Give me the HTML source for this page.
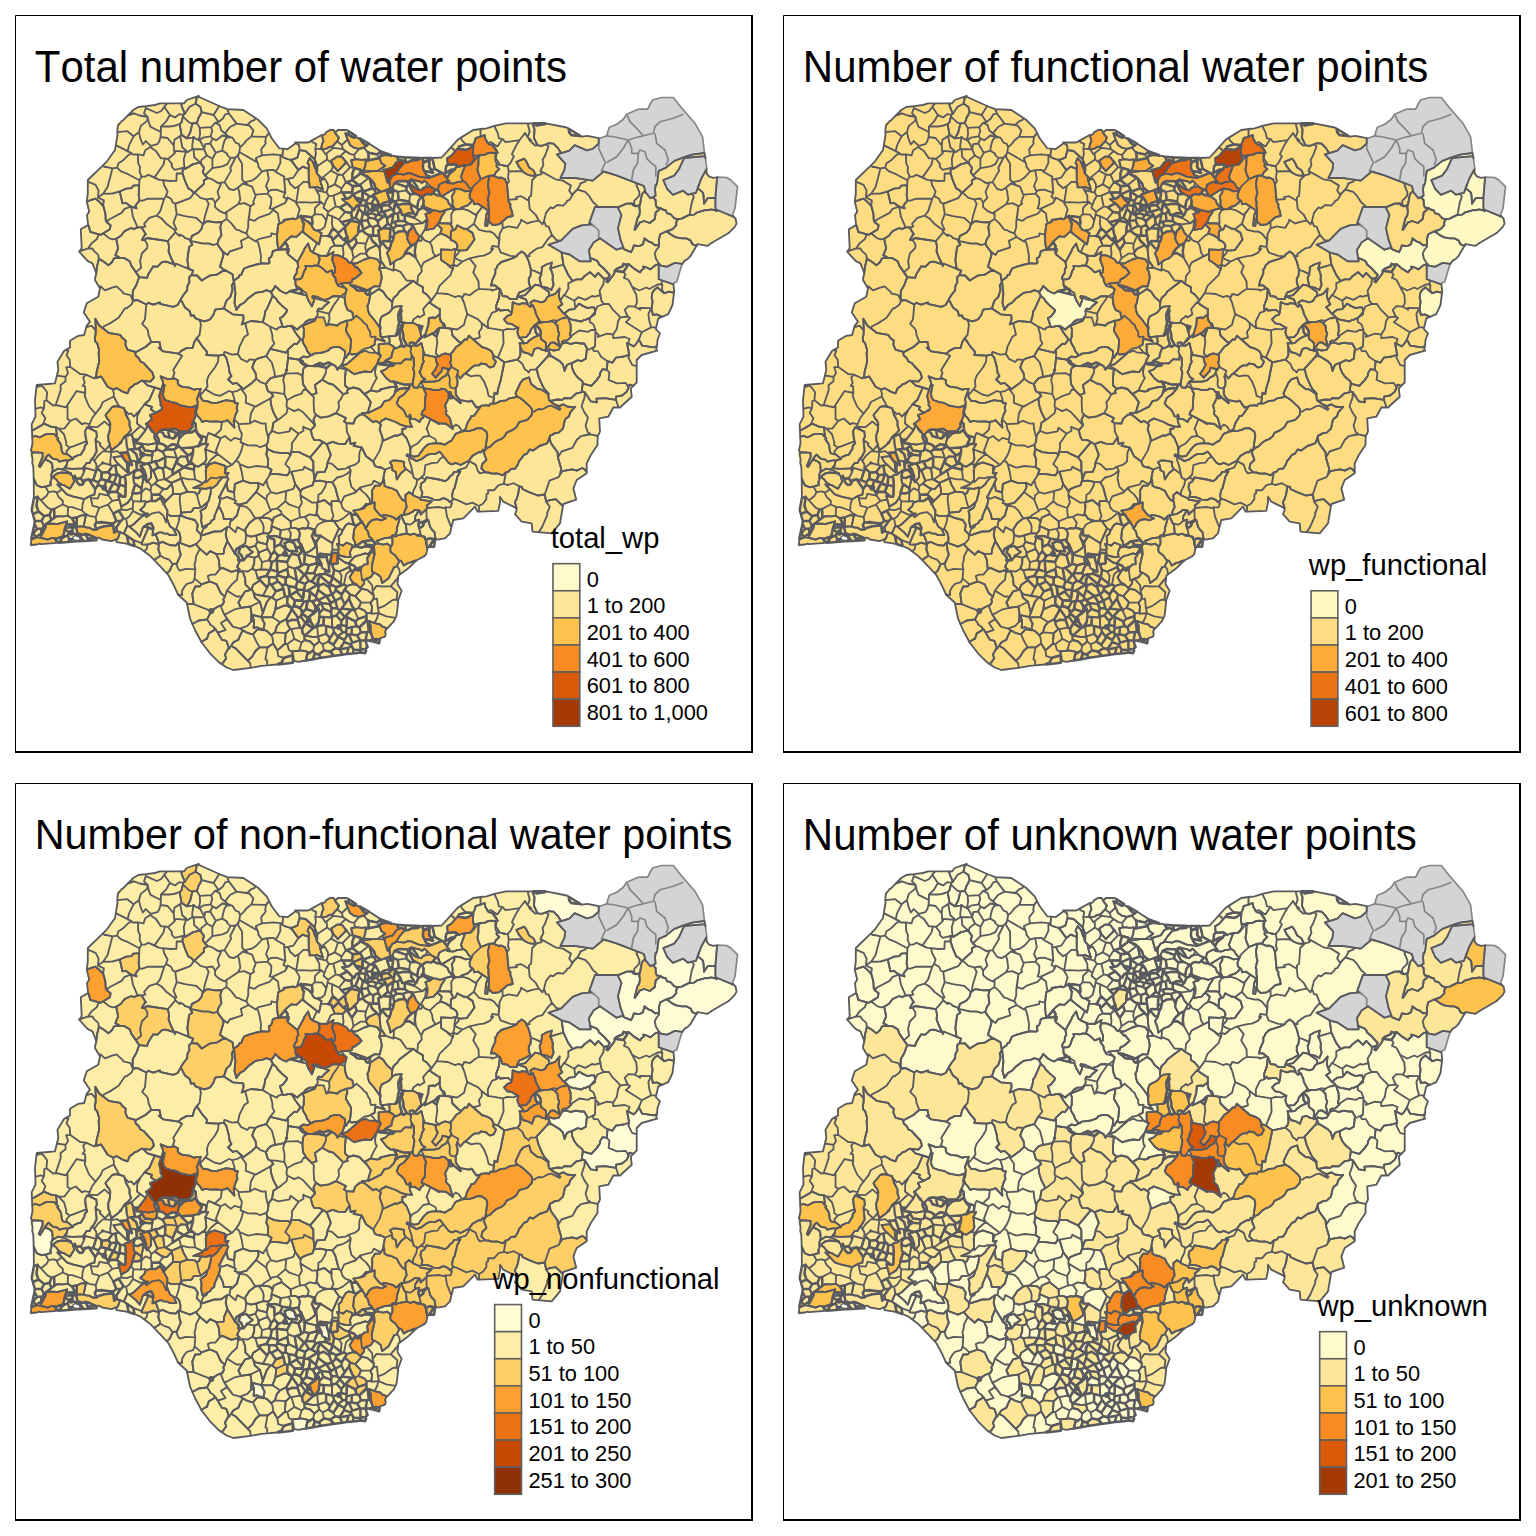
<!DOCTYPE html><html><head><meta charset="utf-8"><title>Water points</title><style>html,body{margin:0;padding:0;background:#fff}svg{display:block}text{font-family:"Liberation Sans",sans-serif;fill:#000;font-kerning:none}</style></head><body>
<svg width="1536" height="1536" viewBox="0 0 1536 1536">
<rect width="1536" height="1536" fill="#fff"/>
<defs><path id="ol" d="M197.5,96.2 208.3,100.8 216.7,105.0 226.7,109.2 243.3,110.0 250.0,114.2 258.3,120.0 266.7,128.3 271.7,138.3 279.2,148.3 287.5,149.2 296.7,142.5 308.3,142.5 321.7,135.0 330.0,130.0 346.7,130.0 358.3,137.5 370.0,144.2 381.7,151.7 396.7,156.7 410.0,157.5 425.0,158.3 441.7,157.5 450.0,148.3 458.3,139.2 473.3,130.0 486.7,128.3 496.7,125.0 506.0,123.3 516.7,123.3 533.3,123.3 545.0,123.3 566.7,127.5 581.7,136.7 586.7,135.8 600.0,138.3 606.7,135.8 609.2,127.5 616.7,124.2 623.3,119.2 626.7,114.2 638.3,109.2 647.5,109.2 652.5,100.0 661.7,97.5 673.3,97.5 683.3,110.0 695.0,123.3 702.5,136.7 704.2,151.7 707.5,168.3 709.2,176.7 726.7,177.5 730.8,180.0 737.5,186.7 735.0,208.3 732.5,215.0 735.8,219.2 736.7,225.0 728.3,233.3 716.7,240.0 707.5,245.8 697.5,244.2 690.0,256.7 681.7,265.0 676.7,281.7 673.3,283.3 674.2,290.8 672.5,305.0 668.3,314.2 658.3,318.3 655.8,329.2 660.0,333.3 657.5,340.0 656.7,350.8 641.7,355.0 636.7,360.0 636.7,382.5 630.8,388.3 631.7,396.7 626.7,401.7 620.0,407.5 613.3,407.5 608.3,416.7 599.2,418.3 600.0,431.7 597.5,436.7 597.5,445.0 590.8,455.0 586.7,463.3 586.7,473.3 576.7,480.0 573.3,488.3 576.2,499.6 563.3,504.0 560.0,523.3 551.7,533.3 532.5,531.7 531.7,523.3 521.7,521.7 515.0,514.2 516.7,508.3 503.3,501.7 500.0,496.7 500.0,502.5 498.3,510.8 477.5,511.7 475.0,506.7 463.3,518.3 453.3,520.0 450.0,533.3 445.0,538.3 435.0,540.0 434.2,546.7 427.5,546.7 426.7,555.0 416.7,560.0 408.3,568.3 398.3,575.8 397.5,584.2 401.7,590.8 398.3,600.0 396.7,615.0 394.2,620.8 387.5,628.3 385.0,636.7 380.0,638.3 379.2,643.3 373.3,641.7 365.8,640.0 367.5,648.3 365.0,653.3 361.7,652.5 345.0,654.2 328.3,656.7 308.3,660.0 295.0,662.5 280.0,664.2 261.7,665.8 253.3,667.5 233.3,670.0 226.7,667.5 218.3,661.7 210.0,653.3 201.7,642.5 195.0,630.0 190.0,618.3 186.7,602.5 178.3,595.0 173.3,584.2 168.3,575.0 160.0,565.8 150.0,555.8 140.0,548.3 130.0,544.2 120.0,542.5 100.0,540.0 70.0,541.7 30.8,545.0 31.7,536.7 35.0,521.7 31.7,510.0 34.2,496.7 33.3,466.7 30.0,455.0 32.5,443.3 31.7,424.2 35.5,416.7 35.0,400.0 36.7,385.0 55.0,383.3 58.3,370.0 57.5,361.7 64.2,350.8 70.0,347.5 70.0,340.8 78.3,335.8 84.2,335.0 86.7,325.8 90.0,321.7 83.8,312.5 86.7,303.3 90.8,300.8 98.3,296.7 100.0,288.3 95.0,280.0 95.8,271.7 92.5,263.3 87.5,260.8 79.2,251.7 81.7,248.3 80.8,229.2 88.3,225.0 87.0,215.0 89.2,211.7 86.7,202.5 87.8,193.3 87.8,180.0 92.5,175.8 98.3,170.0 106.7,161.7 115.0,150.0 117.5,135.0 116.7,122.5 122.5,120.8 133.3,110.0 138.3,107.0 155.0,105.0 160.0,103.3 184.0,103.3 186.7,100.0Z"/><clipPath id="cp"><use href="#ol"/></clipPath><path id="g0" d="M656.0,185.8 655.0,189.0 655.6,195.8 653.1,197.0 655.6,200.1 655.9,205.4 657.0,207.5 660.8,208.1 660.2,208.6 665.9,210.5 667.1,213.3 670.4,214.0 674.4,218.4 678.2,219.2 681.6,218.6 689.6,214.7 691.7,202.9 693.8,196.9 692.0,193.7 688.0,194.7 683.1,190.7 673.0,194.8 667.2,189.0 663.3,180.1 674.2,175.6 678.9,169.3 684.1,158.0 705.1,156.1 705.5,158.4 704.5,153.0 692.0,154.6 682.1,157.9 674.0,161.1 665.7,167.8 658.7,170.9 657.0,184.0 655.9,184.8ZM694.2,214.6 697.4,212.3 704.6,210.2 706.6,209.9 707.0,210.4 711.2,209.4 717.2,210.9 717.4,210.0 715.4,209.2 715.4,197.9 707.8,198.1 704.0,203.7 703.6,196.5 703.0,192.6 697.7,188.1 698.7,185.5 696.0,192.8 689.4,194.4 692.0,193.7 693.8,196.9 691.7,202.9 689.6,214.7 688.8,215.1ZM659.1,238.8 658.9,247.0 656.4,249.9 654.8,253.4 655.8,258.5 657.9,262.0 661.0,265.6 667.0,266.7 674.8,262.9 682.5,263.8 684.4,260.9 688.0,258.7 690.0,256.7 697.5,244.2 696.4,246.0 692.5,244.2 690.4,240.3 686.4,238.4 681.8,238.3 676.3,237.3 672.1,235.3 666.7,231.6 669.0,230.7 665.4,231.7 660.3,234.3ZM588.9,250.3 590.1,257.8 595.7,260.1 598.2,261.9 598.8,264.2 603.7,268.3 609.9,275.0 606.3,281.4 607.8,282.4 614.2,273.7 615.2,270.2 617.2,268.6 622.5,266.4 623.6,263.8 626.3,264.9 628.6,264.0 634.1,268.6 640.1,272.4 641.4,270.3 644.2,268.3 643.1,266.6 645.6,267.0 650.5,269.3 655.2,265.4 659.5,263.9 657.9,262.0 655.8,258.5 654.8,253.4 656.4,249.9 658.9,247.0 658.9,245.0 655.1,245.3 651.1,242.2 648.9,241.6 645.5,239.4 644.6,238.2 642.9,244.3 640.2,245.6 637.0,246.0 633.8,245.4 633.0,248.3 631.1,252.1 625.0,249.7 622.3,247.9 623.4,247.5 616.5,249.7 600.0,238.3 593.5,242.6Z"/>
<path id="g1" d="M697.7,188.1 703.0,192.6 703.6,196.5 704.0,203.7 707.8,198.1 715.4,197.9 717.1,177.3 713.3,177.9 709.2,176.7 706.6,173.7 706.4,169.3 701.2,178.8ZM676.3,237.3 681.8,238.3 686.4,238.4 690.4,240.3 692.5,244.2 696.4,246.0 697.5,244.2 707.5,245.8 712.3,242.5 728.3,233.3 734.6,227.1 736.5,223.9 735.8,219.2 733.4,216.2 733.2,216.7 717.4,210.0 717.2,210.9 711.2,209.4 707.0,210.4 706.6,209.9 697.4,212.3 694.2,214.6 688.8,215.1 681.6,218.6 678.0,219.2 676.1,222.3 676.4,225.1 672.6,229.2 666.7,231.6 672.1,235.3Z"/>
<path id="g2" d="M651.7,298.3 652.6,301.2 651.6,309.2 652.9,315.0 656.8,314.4 661.9,316.8 668.3,314.2 672.5,305.0 674.0,292.8 668.9,291.7 664.0,293.4 657.5,287.3 653.7,290.5 652.0,293.9ZM270.9,292.4 273.4,296.4 276.3,298.9 277.3,300.8 281.1,304.9 287.1,310.1 286.4,312.1 282.7,316.8 279.9,318.0 282.3,325.6 283.2,327.1 286.2,326.8 288.5,325.9 292.9,326.6 297.2,329.5 301.5,325.7 303.5,324.6 305.9,321.6 309.5,319.6 313.0,319.6 315.7,318.4 318.0,313.9 317.2,311.3 318.5,308.6 321.9,309.0 324.1,306.3 329.0,302.3 323.7,300.4 318.2,299.3 314.7,297.6 312.9,296.2 312.9,297.1 314.3,299.9 311.9,306.4 308.3,300.2 306.2,295.3 290.0,291.2 286.0,293.5 280.5,291.0 275.2,285.8 274.2,288.1Z"/>
<path id="g3" d="M609.4,372.4 608.7,379.9 617.0,383.4 625.7,382.9 628.6,387.3 629.5,384.6 633.3,385.9 636.7,382.5 636.7,366.2 632.3,365.2 628.4,357.6 629.2,354.7 624.0,356.5 615.8,357.7 612.4,362.7 607.6,361.2 606.7,369.9ZM584.8,392.2 590.9,401.4 596.9,402.3 596.4,398.6 605.1,398.1 616.0,399.8 616.1,396.6 622.0,395.5 626.9,391.6 628.6,387.3 625.7,382.9 617.0,383.4 608.7,379.9 609.4,372.4 606.7,369.9 602.7,369.1 600.1,372.9 600.1,375.3 596.4,380.4 591.4,385.9 582.8,383.6 581.8,390.3 583.4,391.9ZM629.2,354.7 628.4,357.6 632.3,365.2 636.7,366.2 636.7,360.0 641.7,355.0 657.2,350.7 656.2,349.8 656.8,346.2 654.0,347.3 642.2,345.7 638.9,339.4 636.4,343.6 633.8,346.3 626.8,342.9ZM561.6,252.4 563.4,264.7 568.2,274.9 572.7,281.0 576.5,279.4 581.7,279.4 584.2,276.4 590.1,272.1 595.0,276.9 598.2,272.9 604.0,278.9 608.3,277.8 609.6,275.4 603.4,268.2 598.8,264.2 598.2,261.9 595.7,260.1 590.1,257.8 590.7,261.3 579.6,261.3 569.5,254.5ZM534.5,129.4 534.0,137.8 537.5,145.3 541.6,145.8 549.1,143.2 553.5,143.6 557.3,147.3 561.1,153.1 569.3,150.6 574.7,145.2 586.8,150.3 592.7,148.8 598.7,143.6 598.7,138.1 587.4,135.9 581.7,136.7 579.3,135.8 574.5,135.1 571.5,135.2 569.7,132.6 568.9,132.3 568.8,128.8 566.7,127.5 547.2,123.7 538.0,125.4 536.2,125.4 533.9,123.3 532.4,123.3ZM571.8,319.7 581.6,321.5 584.1,319.8 585.5,319.9 590.2,317.6 595.3,311.6 594.1,307.3 590.7,307.4 588.4,308.1 586.1,307.5 582.2,305.8 579.1,303.6 574.3,309.1 569.4,309.6 564.5,313.3 568.7,318.0ZM550.8,355.8 559.7,361.1 563.0,364.7 564.5,370.9 566.8,365.2 569.0,363.8 571.9,363.1 577.6,360.2 581.3,361.2 585.8,358.6 587.0,348.3 584.2,343.5 580.5,343.5 576.3,342.7 570.4,344.0 565.9,342.3 561.6,344.0 560.1,348.0 559.5,348.2 558.4,349.9 553.7,350.5 549.7,349.3 548.5,349.9ZM243.5,560.1 247.5,555.7 252.8,551.9 249.1,549.2 246.3,545.8 240.2,547.6 238.6,552.6 241.2,554.9ZM288.8,550.7 297.1,551.4 294.0,543.1 289.5,541.2 284.5,543.2 285.9,548.3ZM253.6,628.0 257.1,627.2 263.2,630.3 264.6,623.7 262.5,620.0 261.5,617.2 252.0,614.8 254.1,621.0ZM322.4,568.3 329.3,571.9 328.7,563.9 327.3,560.8 326.7,557.0 318.0,557.2 321.1,563.2Z"/>
<path id="g4" d="M625.0,249.7 631.1,252.1 633.0,248.3 633.8,245.4 637.0,246.0 640.2,245.6 642.9,244.3 644.6,238.2 645.5,239.4 648.9,241.6 651.1,242.2 655.1,245.3 658.9,245.0 659.1,238.8 660.3,234.3 665.4,231.7 669.0,230.7 666.7,231.6 672.6,229.2 676.4,225.1 676.1,222.3 678.0,219.2 674.4,218.4 670.4,214.0 667.1,213.3 665.9,210.5 660.2,208.6 655.7,212.5 654.8,219.0 649.8,223.0 644.1,221.0 639.7,222.7 635.0,229.8 634.6,229.6 637.5,218.2 639.3,215.4 639.9,211.0 639.1,205.2 637.0,206.2 635.5,206.1 632.8,205.1 632.2,203.4 626.6,203.7 617.7,207.4 621.4,214.9 618.0,228.3 620.5,239.6 623.4,247.5 622.3,247.9ZM32.6,459.6 32.2,462.8 33.3,466.7 33.7,478.5 36.7,485.2 41.2,487.2 45.9,486.5 51.1,484.8 50.3,482.4 51.6,479.0 51.2,475.0 52.7,470.4 52.1,463.4 49.0,461.1 45.4,459.6 45.4,458.3 40.2,466.9 38.8,466.2 42.6,456.9 42.6,452.9 36.1,452.3 31.6,453.4ZM294.0,660.8 298.1,661.9 305.8,660.5 307.9,651.8 301.4,650.4 291.8,651.5 293.5,656.5Z"/>
<path id="g5" d="M252.0,180.7 245.1,182.2 248.1,185.1 252.1,186.7 254.8,193.7 255.9,194.7 267.4,193.7 268.6,191.6 266.0,186.0 268.8,179.0 267.2,170.2 262.0,171.5 256.5,177.6ZM480.6,136.7 484.6,135.0 485.2,138.5 487.7,143.0 491.2,142.2 496.9,146.3 497.6,146.2 502.4,138.9 498.9,138.4 497.7,132.9 494.3,125.8 486.7,128.3 481.1,129.0 480.5,130.7ZM103.9,234.0 109.4,238.4 113.2,239.3 116.2,238.7 121.0,235.7 124.4,231.2 131.3,228.0 133.9,229.2 137.6,227.4 132.9,216.7 131.1,206.3 124.3,209.1 121.6,212.9 109.0,219.5 106.6,222.0 110.6,225.2 109.9,229.2 103.6,233.1ZM123.8,159.7 118.3,163.4 117.1,167.7 120.6,171.2 128.1,174.2 139.4,180.2 141.5,176.7 139.6,171.4 140.0,167.1 138.2,163.1 137.9,154.4 133.3,154.5 130.7,153.6 128.3,155.2ZM464.2,303.2 467.3,314.2 477.8,319.1 481.7,323.1 488.0,327.9 487.8,321.5 491.9,312.8 496.5,311.1 496.1,305.9 499.0,297.9 499.8,289.6 498.5,288.3 491.7,290.6 491.5,289.7 478.9,288.8 474.8,291.3 469.8,295.2 464.2,294.0 462.0,298.7ZM503.6,343.7 497.9,357.6 504.3,362.3 517.3,359.6 519.3,357.5 520.4,354.9 520.3,348.8 520.7,348.0 519.5,343.1 524.3,343.3 519.8,337.7 519.2,337.7 517.3,332.2 518.5,327.5 513.4,329.4 507.4,328.8 503.0,330.4ZM241.9,433.7 240.6,442.2 247.9,445.3 256.6,445.5 259.9,447.2 266.3,444.9 268.0,441.9 268.5,436.3 267.8,436.2 266.2,429.8 265.6,423.4 262.0,423.6 254.5,420.7 249.8,423.5 239.0,424.1 238.6,425.7 239.8,430.0ZM195.7,415.2 193.3,421.6 195.5,423.7 196.1,430.3 199.9,435.5 206.5,437.6 208.5,432.9 214.8,435.4 220.9,429.7 221.9,421.8 220.6,422.0 216.8,421.3 210.3,421.7 205.9,420.9 202.2,421.9 199.8,418.2 197.2,415.6 196.0,411.7 195.6,411.8ZM529.5,256.4 527.2,256.0 527.3,258.3 528.8,261.4 530.9,269.9 535.0,271.1 541.1,274.1 542.0,269.0 541.7,267.3 546.2,264.5 551.9,262.5 550.1,269.2 551.8,268.0 563.4,264.7 561.5,252.2 548.5,244.7 560.8,240.6 556.5,240.2 551.9,234.9 547.1,240.2 542.5,247.1 536.6,248.7 533.7,250.7 529.4,254.0ZM314.9,529.6 315.3,535.4 320.6,535.7 332.3,543.3 339.0,528.3 333.6,520.7 325.4,520.9 317.9,524.5ZM549.4,437.9 550.6,442.1 551.7,444.3 557.6,452.4 557.9,457.4 561.5,451.5 572.4,447.9 576.9,439.7 580.9,436.2 590.4,434.0 587.7,432.0 585.6,425.7 588.0,417.6 584.4,412.4 581.5,406.2 584.5,397.6 584.8,392.2 583.4,391.9 576.5,393.3 570.9,398.4 564.6,398.0 562.0,399.9 557.8,399.5 550.0,401.0 554.7,404.4 559.0,406.2 563.3,404.3 567.1,406.5 570.2,407.0 575.2,406.8 570.2,412.3 569.0,416.5 566.0,418.4 564.8,420.2 563.0,428.6 558.7,432.7 555.0,433.1 550.2,435.6ZM625.5,274.8 623.9,277.6 628.6,280.0 632.1,286.7 639.2,290.5 646.2,287.5 649.2,289.0 658.0,284.3 661.9,284.5 661.3,283.4 662.4,280.5 658.7,279.2 658.7,264.2 655.2,265.4 650.5,269.3 645.6,267.0 643.1,266.6 644.2,268.3 641.4,270.3 640.1,272.4 634.1,268.7 628.6,264.0 627.5,264.5 627.2,266.2 623.5,271.9ZM140.0,167.1 139.6,171.4 141.5,176.7 145.1,176.6 148.5,174.8 154.5,177.4 163.4,164.8 165.0,158.3 161.0,158.4 155.8,150.9 150.2,147.0 145.3,150.3 143.5,155.4 137.9,154.4 138.2,163.1ZM145.3,226.6 141.6,227.4 145.9,234.4 144.9,234.6 141.9,240.0 144.5,239.8 146.9,238.0 167.8,241.1 175.3,232.3 174.4,229.7 166.6,224.0 161.4,218.4 156.7,215.7 149.3,217.9 144.1,223.9ZM174.1,378.3 178.0,380.3 177.7,382.8 178.9,385.1 182.6,386.9 189.2,387.7 194.5,389.8 195.9,389.1 200.8,388.8 200.0,391.0 200.2,393.2 201.9,393.5 207.5,386.5 206.9,380.8 208.6,375.8 215.1,367.2 218.1,361.6 218.5,355.7 206.3,355.0 207.1,351.8 202.2,346.2 196.7,338.1 194.4,341.7 192.6,348.1 186.5,348.1 181.3,350.9 178.4,353.6 182.0,355.9 173.2,370.1 174.5,372.6 172.5,378.6ZM437.3,235.4 429.9,242.4 431.9,246.4 433.0,252.3 435.3,256.4 441.0,253.6 440.9,249.4 451.8,249.8 455.8,248.8 456.6,249.2 457.5,246.4 456.4,243.2 454.2,241.4 450.7,239.8 450.7,238.6 445.7,235.4 441.0,233.6ZM502.4,138.9 505.5,142.2 519.4,140.2 525.0,133.0 527.6,137.2 529.7,131.7 527.6,123.3 506.0,123.3 494.3,125.8 497.7,132.9 498.9,138.4ZM291.3,325.5 295.4,332.5 300.5,339.4 302.3,340.1 303.7,337.0 303.9,329.3 302.7,325.7 314.7,320.9 315.9,318.2 313.0,319.6 309.5,319.6 305.9,321.6 302.7,325.6 302.5,325.1 301.5,325.7 297.2,329.5ZM167.6,191.5 166.0,195.9 171.1,198.7 172.6,202.5 175.3,203.7 190.2,198.1 194.0,193.1 191.5,190.3 188.3,188.4 185.3,181.7 182.5,173.4 176.7,173.5 176.4,180.8 170.7,181.0 163.0,180.2 164.2,185.2ZM277.4,169.2 275.3,171.8 284.2,176.6 284.1,179.1 287.8,179.0 293.2,177.7 298.4,170.1 291.1,160.1 284.4,158.0 280.4,155.1 280.4,162.9ZM345.9,368.5 344.9,379.6 345.3,385.9 348.8,388.8 353.4,387.5 359.4,389.0 364.4,394.1 370.7,390.4 373.1,384.6 376.9,377.9 375.6,376.2 375.0,371.5 376.4,365.1 371.0,372.2 364.9,371.5 354.5,374.2ZM257.7,241.5 259.5,247.5 261.0,256.2 260.7,261.7 261.1,263.5 268.2,263.6 269.5,262.6 268.8,258.1 270.2,257.7 271.9,255.4 272.8,251.2 278.2,249.5 277.3,242.5 277.1,234.7 271.4,233.4 271.1,236.2 258.4,239.2 255.6,241.4ZM580.2,184.8 577.3,189.5 585.2,191.8 588.8,195.6 593.1,202.3 597.2,205.6 597.3,207.0 617.5,207.0 617.9,207.4 626.6,203.7 632.1,203.4 632.8,205.1 635.9,206.3 634.0,203.6 634.4,200.7 638.9,196.2 639.5,192.5 636.4,185.4 637.2,183.4 616.3,175.4 603.6,171.5 592.9,180.6 587.2,179.8 585.1,181.6 580.1,183.6ZM248.2,227.5 246.4,233.3 248.6,237.0 255.6,241.4 258.4,239.2 271.1,236.2 271.4,233.4 277.1,234.7 278.2,224.2 280.1,223.3 278.9,220.7 278.0,213.6 273.3,209.9 269.5,213.8 258.9,217.6 254.5,220.8 248.9,219.1 248.3,221.3ZM176.5,229.6 174.4,229.7 175.3,232.3 179.5,236.0 179.9,234.6 183.2,236.2 185.0,238.0 189.3,239.3 190.4,240.9 192.0,235.9 198.1,232.8 201.5,229.0 202.8,223.9 196.1,217.8 184.9,216.1 176.7,214.1 173.5,222.7ZM160.1,211.4 156.7,215.7 161.4,218.4 166.6,224.0 174.4,229.7 176.5,229.6 173.5,222.7 176.7,214.1 175.2,203.6 172.6,202.5 171.1,198.7 166.0,195.9 164.2,198.7ZM271.1,555.0 267.7,548.9 258.8,552.5 258.6,555.8 262.0,562.1 269.3,560.2ZM531.1,195.7 529.0,197.4 528.8,200.7 529.7,209.2 536.0,215.2 538.9,220.7 542.5,224.4 544.0,220.9 546.0,212.9 550.5,207.3 553.1,208.3 557.4,205.0 563.1,205.7 566.5,202.3 567.1,200.9 569.5,199.8 572.6,195.0 571.9,194.6 569.2,190.4 571.0,185.6 563.0,180.6 555.4,179.3 541.0,171.2 541.6,174.2 536.8,175.4 532.2,180.0ZM107.6,187.1 103.1,193.8 112.4,193.5 119.8,191.5 126.1,188.6 131.5,188.2 133.2,185.6 139.2,185.2 139.4,180.2 128.1,174.2 120.6,171.2 117.1,167.7 112.4,168.4ZM271.8,362.5 274.4,371.9 275.0,376.8 285.1,374.9 286.6,370.1 288.1,358.0 288.0,349.7 286.1,352.7 270.1,348.9 266.2,356.1ZM335.7,206.4 339.8,207.4 347.3,203.4 342.1,199.2 345.9,198.7 342.6,192.4 340.9,192.3 333.4,195.7ZM139.1,358.5 140.3,361.4 143.7,363.0 152.3,372.3 154.0,377.6 150.4,381.6 143.0,380.8 147.5,385.3 161.2,389.5 163.1,384.2 163.0,381.8 160.6,376.3 167.8,379.2 172.5,378.6 174.5,372.6 173.2,370.1 182.0,355.9 178.4,353.6 163.4,351.4 158.6,347.8 161.0,349.0 159.5,342.0 151.5,342.2 150.2,342.7 145.7,346.9 135.0,352.6 135.8,355.5ZM251.6,383.2 242.1,389.9 246.0,395.8 245.8,402.9 255.6,406.6 270.3,398.5 273.3,396.0 270.6,392.5 267.9,391.3 265.9,384.2 260.2,381.8 256.3,378.7ZM81.7,248.3 79.5,251.3 87.7,248.7 92.0,242.9 96.7,239.3 98.9,234.3 90.2,231.9 88.9,226.3 88.1,225.1 80.8,229.2ZM499.3,169.1 495.9,172.2 493.9,175.8 499.3,178.2 500.6,177.4 505.0,179.2 507.2,184.3 509.1,180.7 507.9,178.2 508.8,171.5 507.7,165.9 503.6,166.0 503.7,165.3 496.7,164.4 496.5,166.1ZM137.6,300.1 146.3,304.5 148.6,302.8 153.2,304.6 160.1,302.4 159.9,303.8 173.1,306.8 177.7,305.0 183.0,295.5 187.1,290.4 187.4,285.9 189.4,282.2 189.1,277.3 191.5,275.1 193.2,270.6 175.9,263.6 174.7,266.5 174.4,264.3 165.9,261.6 162.4,261.8 157.4,266.7 153.3,266.3 148.4,274.0 147.1,277.9 139.2,277.1 136.1,285.5 132.8,291.0 132.6,299.9ZM92.4,248.5 94.3,251.4 98.1,254.6 98.9,258.7 103.6,261.5 108.5,265.4 112.1,262.0 114.2,258.1 120.4,258.0 115.4,255.1 118.1,248.4 116.2,238.7 113.2,239.3 109.4,238.4 103.9,234.0 103.6,233.1 100.8,234.8 98.9,234.3 96.7,239.3 92.0,242.9 87.7,248.7ZM211.9,179.2 218.6,183.4 224.5,182.1 231.3,170.4 230.2,168.0 235.6,157.5 230.6,157.9 227.4,164.1 222.4,166.4 212.4,168.1 205.0,175.5 207.9,178.1ZM198.1,96.5 196.6,98.4 195.5,103.8 200.3,106.7 201.7,112.2 213.6,115.0 219.2,106.0ZM595.0,346.5 592.7,348.5 593.7,351.0 597.8,351.1 601.2,357.0 607.6,361.2 612.4,362.7 615.8,357.7 624.0,356.5 629.2,354.7 627.6,345.2 629.6,339.0 624.6,337.0 613.3,338.1 613.2,334.5 607.0,333.6 597.8,336.8 598.6,335.0 595.4,331.8ZM204.0,183.7 194.5,192.4 200.4,197.9 206.1,199.3 212.5,198.5 215.1,202.6 219.4,197.7 217.5,191.8 221.7,182.4 218.6,183.4 211.9,179.2 207.9,178.1 203.8,180.2ZM220.3,226.8 221.4,235.3 218.7,239.4 217.4,243.6 218.6,246.1 222.3,251.0 227.6,254.9 229.7,251.5 242.2,247.4 240.9,240.8 248.6,237.0 246.4,233.3 241.3,231.6 239.7,230.4 236.2,229.6 231.2,223.1 226.5,218.9 221.9,222.0ZM230.4,296.8 226.3,300.9 223.9,308.4 232.7,314.3 243.3,315.4 243.5,319.7 241.7,324.5 250.9,321.0 262.8,322.1 264.8,315.0 265.1,311.3 266.6,309.5 272.8,295.5 271.0,291.8 266.5,290.2 263.1,291.7 255.4,292.9 248.3,298.2 243.9,302.8 239.8,305.1 236.4,309.9 234.5,302.7 235.4,293.4 234.1,281.7 231.7,285.5 232.6,289.6ZM343.5,253.2 343.0,257.5 346.4,259.3 348.8,262.5 350.6,262.9 353.5,258.2 351.9,249.7 346.6,241.8 342.7,245.9ZM218.6,122.0 215.1,122.8 219.6,125.1 221.2,130.2 224.9,133.4 230.0,127.0 236.6,123.6 228.8,113.4 225.2,114.4 222.9,118.5ZM225.5,630.1 217.8,632.5 221.9,639.9 225.8,640.6 226.7,641.4 229.0,648.9 233.5,642.3 238.5,639.6 239.7,636.2 242.8,630.4 240.0,628.7 232.8,626.6 227.0,619.1 220.9,623.0ZM301.7,642.5 294.3,638.9 287.3,644.0 288.9,650.0 291.9,651.5 299.0,650.7ZM527.6,123.3 529.7,131.7 527.6,137.2 531.2,140.3 529.8,140.5 535.1,145.5 537.4,145.2 534.0,137.8 534.5,129.4 532.4,123.3ZM230.7,519.8 229.4,527.0 235.5,532.3 237.3,527.1 245.1,531.1 245.2,529.6 249.3,523.1 255.2,518.5 250.4,510.7 246.4,506.8 239.8,505.6 236.9,515.5 231.7,520.7ZM475.7,266.1 473.2,272.3 478.5,281.3 478.9,288.8 491.5,289.7 491.7,290.6 498.5,288.3 494.3,285.1 491.0,285.7 492.2,280.3 495.3,273.7 495.4,269.2 496.8,267.8 497.4,265.7 501.3,262.0 511.8,258.7 516.7,256.3 510.3,255.9 500.6,252.4 498.5,246.9 492.4,246.0 491.1,248.9 493.2,248.9 489.8,252.9 483.9,255.7 479.4,256.1 469.5,258.3ZM145.1,176.6 141.5,176.7 139.4,180.2 138.7,195.4 139.5,200.6 142.4,200.7 148.2,198.7 164.2,198.7 166.0,195.9 167.6,191.5 164.2,185.2 163.0,180.2 159.2,179.8 148.5,174.8ZM378.2,225.0 381.1,229.2 382.6,228.5 387.7,223.8 387.0,218.1 386.3,216.7 384.1,216.1 377.9,220.9ZM345.8,182.2 347.1,182.3 352.3,180.0 352.3,173.9 354.4,168.0 350.2,167.1 342.6,175.0ZM155.8,150.9 161.0,158.4 165.0,158.3 168.0,159.0 174.4,153.6 173.7,145.5 167.6,138.0 160.6,137.0 159.2,141.4 157.3,144.2 150.8,145.9 150.2,147.0ZM265.8,143.5 261.2,149.2 261.9,155.4 273.0,154.4 280.4,155.1 282.4,156.8 283.3,148.7 279.2,148.3 271.7,138.3 269.0,132.8 266.1,136.8 265.2,141.6ZM312.6,252.4 320.6,255.8 326.9,255.4 330.8,247.4 334.7,245.5 331.5,237.0 328.1,236.0 320.9,235.7 319.0,244.4 317.0,242.9ZM501.8,222.2 502.6,223.3 502.6,228.4 508.7,226.4 517.1,227.9 520.7,221.9 521.2,219.8 527.1,223.5 532.1,221.8 538.9,220.7 536.0,215.2 529.7,209.2 528.8,200.7 521.3,196.2 516.1,197.1 517.0,199.0 508.5,199.9 508.6,201.4 510.5,204.3 510.2,206.6 512.1,211.9 512.7,216.0 507.3,217.2ZM122.5,120.8 121.7,121.0 117.8,125.8 117.3,132.2 127.3,131.2 133.6,136.3 139.0,132.1 140.8,125.9 147.0,120.9 147.9,117.1 139.5,115.5 133.8,113.5 127.8,115.5ZM300.2,627.6 297.6,619.9 291.7,619.8 287.2,621.8 287.8,625.0 290.4,629.1ZM447.8,294.0 455.3,297.1 457.9,296.0 460.9,296.5 462.2,298.3 464.2,294.0 469.8,295.2 474.8,291.3 478.9,288.8 478.5,281.3 473.2,272.3 475.7,266.1 469.5,258.3 462.5,261.5 457.1,266.0 453.5,265.0 453.1,269.2 451.8,271.1 450.7,274.9 439.5,285.8 436.7,293.1ZM198.9,140.6 202.8,137.7 210.7,136.3 212.2,131.0 211.3,127.2 199.7,127.9 200.1,133.6ZM250.3,663.5 250.6,667.8 261.7,665.8 267.4,665.3 266.9,660.0 265.4,659.3 267.5,647.4 259.6,647.3 255.2,651.2 252.7,655.9 247.9,660.9ZM216.4,140.2 212.6,138.7 210.2,143.5 215.8,152.7 222.3,150.6 222.9,146.0 224.8,139.9 227.8,137.0 222.3,135.5ZM103.2,206.1 105.3,213.3 105.8,220.6 106.6,222.0 109.0,219.5 121.6,212.9 124.3,209.1 130.7,206.5 125.8,202.8 122.4,203.3 119.8,191.5 112.4,193.5 103.1,193.8 97.9,197.5 103.8,200.3ZM278.0,213.6 278.9,220.7 280.1,223.3 283.8,221.7 283.6,220.0 293.6,218.5 295.5,219.3 297.0,218.3 299.7,209.1 296.0,202.7 296.2,202.1 287.7,197.5 285.2,202.8 272.3,208.8ZM163.4,164.8 154.5,177.4 159.2,179.8 170.7,181.0 176.4,180.8 176.7,173.5 182.5,173.4 182.8,167.8 174.8,169.8 171.6,166.6 172.1,164.4 168.0,159.0 165.0,158.3ZM356.2,159.2 361.8,159.9 365.9,159.4 365.8,160.8 367.7,160.4 368.7,157.6 368.2,152.6 364.0,147.9 358.9,149.0 354.2,154.9 354.9,159.5ZM169.0,246.4 168.6,251.7 172.6,261.3 175.1,265.7 175.9,263.6 188.6,268.9 187.4,260.5 187.8,255.0 189.2,246.7 192.3,244.8 189.3,239.3 185.0,238.0 183.2,236.2 179.9,234.6 179.5,236.0 175.3,232.3 167.8,241.1ZM369.6,295.0 378.9,288.9 383.1,291.6 387.0,297.4 392.3,301.8 393.6,298.0 397.6,294.4 399.3,291.4 413.4,280.8 406.5,280.5 400.5,271.9 394.6,269.4 393.4,270.7 385.4,267.6 379.4,268.1 379.2,269.0 380.8,271.5 381.8,277.8 379.7,286.6 374.8,286.1 370.6,288.6 369.8,290.7ZM441.0,223.3 450.1,223.5 450.9,224.9 451.5,223.4 451.3,213.9 454.2,209.6 451.0,208.5 442.7,210.9 444.8,211.7 441.5,216.7 439.3,222.0ZM187.9,152.1 186.0,151.8 183.8,159.0 184.1,165.0 185.2,169.0 193.0,164.1 200.2,162.6 194.2,157.0 193.5,148.9 192.2,149.2ZM205.7,466.7 206.3,467.3 209.4,464.3 214.8,462.4 225.3,465.8 225.0,471.0 225.4,471.1 226.8,467.2 232.0,465.0 217.7,454.0 210.9,459.7ZM540.8,286.3 548.7,291.7 549.4,295.7 555.1,293.9 559.6,288.5 558.8,295.5 560.3,300.7 563.9,295.0 565.6,293.6 568.4,288.4 568.2,283.3 572.7,281.0 568.2,274.9 563.4,264.7 551.8,268.0 550.8,269.3 552.8,275.0 552.6,279.8 553.6,284.7 551.4,290.0 546.7,287.7ZM421.8,271.4 418.1,275.9 417.2,284.0 422.8,287.1 423.0,291.9 426.8,294.5 431.4,300.3 436.7,293.1 439.5,285.8 450.7,274.9 451.8,271.1 453.1,269.2 448.6,266.0 447.1,264.0 441.1,259.9 441.0,253.6 423.5,262.6 421.3,267.6ZM271.6,509.7 277.2,508.4 285.4,501.3 286.2,491.2 276.6,493.7 271.0,492.1 267.1,495.4 266.3,499.8 270.7,511.0ZM404.8,221.3 408.6,223.7 411.9,224.7 422.6,223.2 413.7,217.5 404.8,214.8ZM392.7,188.5 393.5,190.1 397.8,191.9 406.2,190.4 406.5,186.9 395.1,183.0 394.1,183.9 392.8,186.6ZM254.2,203.8 250.4,206.1 248.9,219.1 254.5,220.8 258.9,217.6 269.5,213.8 273.3,209.9 272.3,208.8 269.6,208.3 271.0,204.7 271.4,198.0 267.4,193.7 255.9,194.7 253.2,202.1ZM303.4,554.3 316.5,557.3 317.7,556.3 316.1,541.8 314.4,541.7 315.4,547.0 309.9,551.2ZM307.6,527.1 314.9,529.6 317.9,524.5 325.4,520.9 320.0,518.7 317.3,514.6 316.2,515.5 309.6,514.4 304.9,516.9 308.8,522.8ZM316.9,230.4 321.5,233.1 320.9,235.7 328.1,236.0 329.4,234.7 333.0,228.2 331.8,223.8 332.3,216.3 327.5,214.7 324.6,226.9 322.0,229.3ZM238.9,462.6 239.7,464.2 248.2,467.6 256.7,466.0 267.7,467.2 268.2,459.3 266.3,454.3 267.4,449.0 266.3,444.9 259.9,447.2 256.6,445.5 247.9,445.3 243.4,443.4 240.9,451.8 238.6,456.9 236.1,460.4ZM458.4,253.3 454.7,256.7 456.2,258.8 462.5,261.5 469.5,258.3 479.4,256.1 483.9,255.7 489.8,252.9 493.2,248.9 491.1,248.9 492.4,246.0 498.5,246.9 499.4,240.1 493.7,233.3 489.7,231.3 486.9,231.7 479.2,229.8 473.9,223.8 466.8,229.3 472.5,232.9 474.5,239.5 466.8,250.1 460.4,250.6 458.9,250.3ZM457.3,329.5 451.3,328.7 452.5,335.5 459.2,342.0 461.5,342.8 464.7,339.3 466.9,339.6 468.9,335.6 473.5,339.6 480.0,337.4 478.9,332.0 481.8,328.0 481.7,323.1 477.8,319.1 467.3,314.2 465.3,319.5 464.1,324.8ZM321.6,492.9 318.4,494.8 318.1,502.4 324.3,500.0 331.7,506.0 331.2,503.0 331.9,501.1 338.8,501.0 335.4,487.9 332.4,482.3 326.4,481.9 325.4,486.2ZM179.5,570.6 185.7,568.9 195.3,569.3 194.4,563.7 195.2,562.5 196.3,555.7 199.9,548.9 195.7,544.0 190.0,546.6 178.6,542.4 179.5,550.5 180.8,554.6 176.8,563.5 177.5,567.6ZM603.3,284.4 599.5,290.7 601.4,300.9 603.9,303.8 609.0,304.0 612.1,308.8 620.6,317.3 627.8,316.5 624.7,309.9 628.4,306.2 635.0,306.7 637.0,302.7 636.3,294.7 628.6,280.0 623.9,277.6 625.5,274.8 623.5,271.9 615.0,270.8 614.2,273.7 607.8,282.4 606.3,281.4 608.3,277.8 604.0,278.9ZM328.2,211.7 335.7,206.4 333.4,195.7 328.8,196.0 326.2,200.3 323.4,207.8ZM95.6,184.9 98.6,190.7 97.9,197.5 103.1,193.8 107.6,187.1 112.4,168.4 106.5,167.0 104.5,167.1 103.0,165.4 87.8,180.0 87.8,181.7ZM268.8,179.0 266.0,186.0 268.6,191.6 271.0,190.0 276.4,189.6 285.3,192.8 284.2,176.6 275.3,171.8 273.8,169.9 267.2,170.2ZM414.8,251.3 415.4,257.2 421.3,267.6 423.5,262.6 435.3,256.4 433.0,252.3 431.9,246.4 429.9,242.4 424.6,240.4 422.5,237.2 421.4,240.8 417.8,240.5 416.3,243.3 415.6,243.6ZM352.1,179.9 359.2,185.5 368.3,178.2 360.6,173.6ZM262.9,596.0 270.9,597.0 272.2,597.8 275.8,591.3 271.3,584.9 269.2,583.7ZM379.5,247.9 380.6,260.2 385.4,267.6 393.4,270.5 394.1,261.8 390.3,264.6 389.3,258.8 387.0,253.2 389.8,248.5 387.0,248.2 381.8,242.2ZM147.6,117.0 148.9,122.9 150.6,126.9 160.9,132.0 161.0,126.4 165.8,121.9 169.9,115.1 164.3,106.7 161.2,111.0 156.9,113.0 145.8,108.2 144.0,113.4ZM315.9,153.5 314.7,159.3 317.1,166.3 327.0,159.4 326.8,154.6 325.4,154.2 322.1,149.2 315.2,148.7ZM476.6,215.4 473.9,223.8 479.2,229.8 486.9,231.7 489.7,231.3 493.7,233.3 499.4,240.1 499.5,234.3 502.6,228.4 502.6,223.3 501.8,222.1 498.6,224.4 492.8,225.0 489.6,222.2 488.5,218.6 487.3,225.8 485.2,225.6 486.1,215.4 488.1,210.4 482.5,206.7 476.4,214.3ZM571.8,363.1 572.0,367.6 574.1,372.7 577.0,376.7 582.6,381.6 582.8,383.6 591.4,385.9 596.5,380.4 600.1,375.3 600.1,372.9 602.7,369.1 606.7,369.9 607.6,361.2 601.2,357.0 597.8,351.1 593.7,351.0 592.4,347.8 589.6,349.3 586.8,349.9 585.8,358.6 581.3,361.2 577.6,360.2ZM496.5,311.1 491.9,312.8 487.8,321.5 488.0,327.9 503.0,330.4 507.4,328.8 513.4,329.4 517.9,327.7 512.1,324.2 507.3,323.3 504.0,319.5 507.5,315.8 511.1,314.6 511.5,312.9 508.0,309.9 500.1,310.5 498.3,308.7ZM341.6,188.4 340.9,192.3 352.1,192.5 352.9,186.2 347.1,182.3 345.8,182.2ZM206.1,199.3 208.7,203.8 204.7,217.1 203.6,223.8 206.3,221.6 207.9,221.1 215.3,222.4 221.9,222.0 226.5,218.9 226.6,213.3 224.6,213.3 219.9,211.2 215.1,207.1 215.1,202.6 212.5,198.5ZM167.6,138.0 173.7,145.5 174.4,139.8 181.6,134.9 179.6,124.2 173.7,126.0 169.4,126.5 161.0,126.4 160.6,137.0ZM285.3,192.8 283.4,196.7 287.1,199.5 287.7,197.5 296.3,202.2 298.8,186.1 295.1,188.2 290.3,184.0 287.8,179.0 284.1,179.1ZM237.4,505.2 246.4,506.8 250.4,510.7 255.2,518.5 262.0,517.5 263.9,515.2 270.7,511.0 266.3,499.8 256.0,492.1 246.6,502.7ZM295.8,528.0 297.9,529.6 303.6,528.0 304.8,528.6 306.7,528.2 307.6,527.1 308.8,522.8 304.9,516.9 299.9,517.5 290.6,521.4 291.0,527.6ZM195.2,562.5 194.4,563.7 195.3,569.3 194.6,578.4 201.5,584.4 209.3,581.7 207.8,576.1 211.1,574.6 215.4,574.6 219.8,569.2 218.7,559.3 216.1,553.8 210.1,551.1 206.9,554.7 199.9,548.9 196.3,555.7ZM513.9,156.5 510.5,162.8 507.7,165.9 508.8,171.5 519.3,171.1 523.1,171.8 518.9,166.6 516.4,161.8 524.3,158.7 526.8,162.3 529.2,167.5 533.3,170.2 535.7,175.0 536.8,175.4 541.6,174.2 540.8,169.8 543.4,165.4 542.6,159.8 544.9,156.0 548.5,146.4 546.0,144.3 541.6,145.8 537.3,145.2 535.1,145.5 529.1,139.9 530.3,139.5 527.6,137.2 525.0,133.0 519.4,140.2 516.5,144.9 511.9,154.1ZM565.6,293.6 563.9,295.0 574.4,300.7 578.2,297.2 585.4,299.9 592.0,296.0 594.7,296.7 600.5,295.0 599.5,290.7 603.3,284.4 604.0,278.9 598.2,272.9 595.0,276.9 590.1,272.1 584.2,276.4 581.7,279.4 576.5,279.4 568.2,283.3 568.4,288.4ZM223.5,662.3 221.5,663.9 226.7,667.5 233.3,670.0 250.6,667.8 250.3,663.5 235.4,648.2 231.0,645.8 229.0,648.9 228.1,648.8 224.9,654.7 226.2,658.3ZM235.5,532.3 229.4,527.0 227.0,527.2 225.7,534.8 227.4,541.2 234.6,553.0 236.7,548.8 245.2,543.4 246.2,535.2 245.1,531.1 237.3,527.1ZM275.8,473.9 270.8,474.1 269.1,475.9 266.5,480.4 267.8,486.2 271.0,492.1 276.6,493.7 293.4,488.9 295.2,484.2 291.5,471.7 289.4,472.7 287.2,475.3ZM641.8,332.2 638.9,339.4 642.2,345.7 654.0,347.3 657.0,346.1 657.5,340.0 660.0,333.3 655.8,329.2 656.2,327.3 651.2,327.4ZM211.3,127.2 215.1,122.8 218.6,122.0 213.6,115.0 201.7,112.2 198.4,118.3 196.9,123.0 199.7,127.9ZM451.5,223.4 450.9,224.9 452.3,227.1 453.2,230.2 454.6,229.8 455.7,228.6 457.3,225.3 463.1,228.5 466.9,229.2 473.9,223.8 476.6,215.4 468.8,210.7 462.9,208.8 454.2,209.6 451.3,213.9ZM295.1,142.5 299.2,145.6 299.5,150.2 305.6,151.0 314.7,159.3 315.9,153.5 315.2,148.7 316.3,144.1 310.7,141.1 308.3,142.5ZM248.2,467.6 239.7,464.2 241.8,472.3 243.1,480.6 250.3,483.2 258.1,482.8 263.1,485.2 269.1,475.9 271.5,469.8 267.7,467.2 256.7,466.0ZM232.6,137.9 235.7,142.7 239.0,144.0 240.1,147.4 244.0,143.6 246.2,140.6 251.4,136.6 253.4,130.4 249.5,125.6 236.6,123.6 230.0,127.0 225.1,133.2 227.8,136.0ZM517.1,227.9 508.7,226.4 502.6,228.4 499.5,234.3 498.5,246.9 500.6,252.4 510.3,255.9 516.4,256.3 518.3,253.9 521.7,251.4 525.2,254.0 526.3,256.2 529.5,256.4 529.4,254.0 533.8,250.7 536.6,248.7 542.5,247.1 547.1,240.2 551.9,234.9 548.5,226.3 546.0,226.3 544.0,220.9 542.5,224.4 538.9,220.7 532.1,221.8 527.1,223.5 521.2,219.8 520.7,221.9ZM136.6,208.3 131.2,206.6 132.9,216.7 137.6,227.4 141.6,227.4 145.3,226.6 144.1,223.9 149.3,217.9 156.7,215.7 160.1,211.4 164.2,198.7 148.2,198.7 142.4,200.7 139.5,200.6 136.1,204.6 135.4,206.6ZM227.3,153.8 227.1,155.1 230.6,157.9 235.6,157.5 237.3,155.6 238.1,155.9 239.3,152.0 240.1,147.4 239.0,144.0 235.7,142.7 232.6,137.9 228.3,136.3 224.8,139.9 222.9,146.0 222.3,150.6ZM314.7,214.1 322.2,214.7 326.3,220.5 328.2,211.7 323.4,207.8 324.6,204.7 320.5,202.4 315.1,207.9ZM270.3,569.8 271.7,562.2 269.3,560.2 262.0,562.1 261.3,569.4ZM342.2,157.2 350.2,167.1 353.0,167.4 351.2,160.2 354.9,159.5 354.2,154.9 350.3,154.1 345.6,151.2 340.6,155.6 340.4,156.9ZM508.5,199.9 517.0,199.0 516.1,197.1 521.3,196.2 528.8,200.7 529.0,197.4 531.1,195.7 532.2,180.0 536.2,176.0 529.9,175.3 526.2,174.0 523.4,171.9 519.3,171.1 508.8,171.5 507.9,178.2 509.1,180.7 507.0,184.5ZM226.5,476.3 228.3,478.9 226.4,483.0 227.9,490.6 234.1,492.5 234.9,483.9 243.1,480.6 241.8,472.3 239.7,464.2 238.9,462.6 236.1,460.4 232.0,465.0 226.8,467.2 224.8,473.4 228.5,472.8ZM206.9,155.5 212.4,158.8 215.8,152.7 210.2,143.5 205.3,144.1 204.1,149.4ZM316.3,144.1 315.2,148.7 321.1,149.1 321.8,144.9 323.4,140.8 321.7,135.0 310.7,141.1ZM543.4,165.4 540.4,170.9 555.4,179.3 563.0,180.6 571.0,185.6 569.2,190.4 571.9,194.6 577.3,189.5 580.2,184.8 580.1,183.6 585.1,181.6 587.2,179.8 574.9,178.0 560.4,178.0 564.5,169.6 565.3,163.7 556.9,154.4 561.1,153.1 557.3,147.3 553.5,143.6 549.1,143.2 546.0,144.3 548.5,146.4 544.9,156.0 542.6,159.8ZM296.2,202.6 301.5,202.2 311.0,202.7 319.5,201.9 319.3,195.6 315.0,187.3 309.5,187.3 309.2,182.6 303.7,181.6 298.8,186.1ZM287.8,179.0 290.3,184.0 295.1,188.2 298.8,186.1 303.7,181.6 308.8,182.5 308.5,168.9 302.9,166.6 298.4,170.1 293.2,177.7ZM362.6,191.8 372.0,188.4 369.8,178.8 368.3,178.2 360.0,184.7 362.7,189.8ZM207.5,386.5 205.5,389.4 214.3,394.5 220.1,395.9 229.0,391.0 232.3,392.2 237.5,390.8 242.2,388.0 236.5,382.9 232.8,383.9 228.1,379.5 231.4,376.0 229.7,373.0 228.5,365.8 226.2,357.6 223.7,354.7 218.5,355.7 218.1,361.6 215.1,367.2 208.6,375.7 206.9,380.8ZM140.8,125.9 139.0,132.1 140.2,137.9 142.8,144.5 145.7,141.1 150.8,145.9 157.3,144.2 159.2,141.4 160.6,137.0 160.9,132.0 150.6,126.9 148.9,122.9 147.8,117.6 147.0,120.9ZM95.8,198.7 100.8,203.1 103.2,206.1 103.8,200.3 97.9,197.5 98.6,190.7 95.6,184.9 87.8,181.7 87.8,193.3 86.8,201.6 91.3,199.8ZM453.5,148.8 454.6,151.8 457.5,148.6 458.0,148.7 459.0,146.4 465.9,144.5 462.7,141.2 460.5,137.9 458.3,139.2 450.4,147.8ZM227.4,109.2 228.8,113.4 236.6,123.6 247.1,125.0 251.1,121.3 254.6,119.9 255.5,118.0 243.3,110.0ZM264.6,623.7 263.4,629.5 267.4,631.4 271.1,635.2 275.0,632.3 276.8,626.2 280.0,622.3 272.5,617.2 261.6,617.5ZM326.8,154.6 327.0,159.4 332.6,163.9 331.3,160.5 337.3,156.4 340.4,156.9 340.6,155.6 345.6,151.2 343.0,149.2 333.6,147.8 325.4,154.2ZM206.5,437.6 205.7,444.0 208.2,444.1 205.3,449.0 205.5,450.5 206.8,449.8 217.6,453.8 215.9,450.8 220.6,438.3 208.5,432.9ZM210.1,623.7 209.9,624.4 213.2,626.6 217.8,632.5 225.5,630.1 220.9,623.0 227.0,619.1 224.4,614.8 220.9,606.7 221.6,605.1 217.1,607.0 211.3,611.1 207.0,619.4ZM341.8,145.0 343.0,149.2 350.3,154.1 354.2,154.9 359.0,148.9 354.4,147.9 349.9,144.9 347.6,139.5ZM561.2,468.8 560.3,473.7 562.2,471.2 572.0,469.3 576.8,470.7 582.2,468.0 584.5,469.3 586.7,472.0 586.7,463.3 590.8,455.0 597.5,445.0 597.7,436.0 590.7,434.3 580.9,436.2 576.8,439.7 572.4,447.9 561.5,451.5 557.9,457.4ZM562.3,304.2 558.1,307.2 564.0,313.8 569.4,309.6 574.3,309.1 575.2,308.0 574.4,300.7 563.9,295.0 560.3,300.7ZM442.1,196.2 447.6,200.1 448.9,203.6 452.8,208.0 451.7,208.8 455.5,210.0 452.4,204.8 452.6,200.6 451.8,196.3 454.3,192.2 454.6,188.5ZM225.3,212.8 226.6,213.3 226.5,218.9 231.2,223.1 236.2,229.6 239.7,230.4 241.3,231.6 246.4,233.3 248.2,227.5 248.3,221.3 250.4,206.1 244.5,203.2 238.1,204.2ZM661.3,283.4 662.3,284.5 662.1,290.0 663.9,292.8 665.6,292.9 668.9,291.7 674.0,292.8 674.2,290.8 673.4,284.4 662.4,280.5ZM176.7,214.1 184.9,216.1 196.1,217.8 202.8,223.9 203.6,223.8 204.7,217.1 208.7,203.8 206.1,199.3 200.4,197.9 194.5,192.4 190.2,198.1 175.2,203.8ZM393.5,270.0 394.6,269.4 400.5,271.9 406.5,280.5 413.4,280.8 417.2,284.0 418.1,275.9 421.8,271.4 421.3,267.6 415.4,257.2 410.2,253.7 408.0,253.0 404.7,254.1 404.0,255.6 401.0,258.3 396.6,260.0 394.1,261.8ZM568.6,319.3 570.6,325.1 570.8,330.7 569.8,334.9 570.8,336.0 579.4,330.5 588.2,331.8 591.4,329.9 595.6,330.0 593.4,324.3 589.8,322.0 589.9,317.8 585.5,319.9 584.1,319.8 581.6,321.5 571.8,319.7 569.8,318.6ZM211.1,574.6 207.8,576.1 209.3,581.7 211.3,582.0 216.7,584.4 221.0,593.6 225.1,596.4 226.9,590.6 232.0,584.2 237.0,579.8 238.0,572.2 239.6,569.5 231.5,571.9 222.4,567.9 219.8,569.2 215.4,574.6ZM169.6,570.9 166.8,573.3 168.3,575.0 173.3,584.2 178.0,594.4 182.2,594.8 181.9,591.3 184.7,586.3 187.0,583.9 193.1,582.1 194.6,578.4 195.3,569.3 185.7,568.9 179.5,570.6 177.5,567.6 176.8,563.5 172.7,564.1ZM177.6,594.3 186.7,602.5 187.0,603.8 187.6,604.2 193.6,604.1 192.3,593.7 195.2,586.5 200.0,586.3 201.5,584.4 194.6,578.4 193.1,582.1 187.0,583.9 184.7,586.3 181.9,591.3 182.2,594.8ZM374.2,350.7 374.7,352.1 379.8,354.7 378.7,351.3 378.6,344.4 388.4,343.4 389.3,343.8 389.7,341.3 389.0,336.4 381.3,337.1 384.8,341.6 377.8,339.2 375.3,339.4 374.6,344.7 370.6,346.9ZM334.6,131.8 335.7,133.8 338.9,137.7 337.2,141.4 341.8,145.0 347.6,139.5 345.3,133.1 348.1,134.6 348.7,131.3 346.7,130.0 338.0,130.0 336.0,131.8ZM192.4,624.0 195.0,630.0 201.4,642.0 206.1,639.0 206.9,638.9 208.8,633.4 215.6,629.2 213.2,626.6 209.9,624.4 210.1,623.7 207.0,619.4 198.8,620.5ZM134.2,113.4 139.5,115.5 147.6,117.0 144.0,113.4 145.8,108.2 145.9,106.1 138.3,107.0 133.3,110.0 127.8,115.5ZM268.4,537.3 268.4,533.6 263.3,533.2 256.2,535.6 257.4,541.9 266.6,544.4ZM281.2,511.4 281.6,514.1 290.6,521.4 299.9,517.5 299.1,508.0 288.8,504.3 285.4,501.3 277.2,508.4ZM548.5,226.3 551.9,234.9 556.5,240.2 560.9,240.6 572.6,228.9 581.4,225.4 591.5,224.4 589.2,223.1 594.9,207.0 597.3,207.0 597.2,205.6 593.1,202.3 588.8,195.6 585.2,191.8 577.3,189.5 573.8,193.0 569.5,199.8 567.1,200.9 566.5,202.3 563.1,205.7 557.4,205.0 553.1,208.3 550.5,207.3 546.0,212.9 544.0,220.9 546.0,226.3ZM156.9,113.0 161.2,111.0 167.2,103.3 160.0,103.3 155.0,105.0 145.9,106.1 145.8,108.2ZM314.3,645.6 313.1,650.6 314.8,653.3 318.6,654.6 323.9,650.4 322.6,644.4 319.2,641.5ZM155.5,534.1 159.1,543.3 162.4,541.8 169.6,545.0 175.7,545.6 178.6,542.4 180.2,543.0 180.5,537.8 179.2,532.3 176.2,529.0 174.0,529.9 176.4,534.9 170.1,535.1 167.1,533.7 163.2,533.4 162.1,532.4 159.7,532.4ZM365.2,247.6 366.4,252.4 368.4,249.2 377.1,245.0 372.1,240.5 369.6,234.5 365.9,243.5ZM434.6,168.8 441.8,172.8 442.3,172.6 444.1,174.1 445.5,173.1 446.0,166.5 447.7,164.9 447.1,158.4 451.1,155.8 454.6,151.8 453.5,148.8 450.4,147.8 441.7,157.5 431.6,158.0 433.1,161.2ZM206.8,526.8 203.0,529.2 201.3,534.7 202.3,535.4 214.1,531.5 220.9,531.4 227.0,527.2 229.4,527.0 230.9,518.8 223.8,519.0 222.8,513.8 218.8,505.8 214.5,516.0 214.3,519.0 211.6,520.6 210.2,523.2 207.1,524.8ZM313.3,461.6 313.4,471.3 314.5,479.4 317.0,472.4 324.7,471.9 327.0,466.7 327.5,462.5 330.8,454.9 326.7,444.2 323.0,442.1 310.1,457.4ZM169.9,115.1 175.1,117.4 179.4,114.1 183.3,114.8 184.9,113.8 181.8,106.5 181.1,103.3 167.2,103.3 164.3,106.7ZM129.3,526.5 127.4,525.6 123.8,533.5 133.5,540.2 141.7,543.1 148.5,527.5 144.2,526.5 143.0,527.2 139.9,536.6 135.9,532.1ZM416.6,214.4 413.7,217.5 422.6,223.2 427.3,219.3 425.4,214.2 429.4,212.6 428.5,211.3 423.0,207.7 418.3,210.1ZM319.3,612.8 319.4,616.7 331.7,617.5 331.0,611.8 323.5,608.9ZM280.0,622.3 286.4,619.1 291.0,611.1 291.9,608.0 289.5,606.5 284.6,605.4 275.4,609.4 272.5,617.2ZM333.4,195.7 340.9,192.3 341.6,188.4 334.8,184.4 328.0,187.6 326.6,192.6 328.8,196.0ZM312.4,485.4 306.7,487.1 301.8,489.3 300.7,491.9 300.3,495.4 312.3,502.7 318.1,502.4 318.4,494.8 321.6,492.9 325.4,486.2 326.4,481.9 319.9,480.7 313.9,481.1ZM249.5,125.6 253.4,130.4 251.4,136.6 266.1,136.8 269.1,133.1 266.7,128.3 258.3,120.0 255.5,118.0 254.6,119.9 251.1,121.3 247.1,125.0ZM462.9,208.8 468.8,210.7 476.0,215.1 482.5,206.7 477.7,203.6 474.1,204.4 473.3,201.1 472.1,200.1 470.4,203.0 466.6,205.9 462.1,207.2 459.5,208.9ZM323.5,625.0 317.1,626.2 318.1,636.5 326.1,633.8 326.1,626.1ZM333.0,228.2 338.3,232.9 345.7,226.6 338.9,219.5 332.3,216.3 331.8,223.8ZM187.0,138.4 181.6,134.9 180.2,136.3 182.2,147.2 187.9,152.1 192.2,149.2 192.3,144.7 193.5,137.6ZM588.0,417.6 585.6,425.7 587.7,432.0 590.7,434.3 597.8,436.0 600.0,431.7 599.2,418.3 608.3,416.7 613.3,407.5 618.0,407.5 618.1,406.3 616.0,399.8 605.1,398.1 596.4,398.6 596.9,402.3 590.9,401.4 584.8,392.2 584.5,397.6 581.5,406.2 584.4,412.4ZM287.7,254.0 297.5,262.1 303.7,250.8 304.2,249.0 308.2,243.5 310.3,250.5 312.7,252.3 317.0,242.9 302.1,231.6 296.5,236.9 291.5,236.3 285.7,241.1 285.2,242.0 287.8,246.5 286.5,249.2 289.1,249.1 287.9,250.5 289.0,251.0ZM475.8,137.9 480.4,136.8 480.5,130.7 481.1,129.0 473.3,130.0 460.5,137.9 462.7,141.2 465.9,144.5 472.8,145.0 474.1,143.3ZM268.4,533.6 268.3,536.6 274.8,535.9 279.8,537.3 280.8,530.1 271.5,526.0 271.4,530.6ZM409.2,201.5 410.2,194.3 406.2,190.4 397.8,191.9 398.7,199.7ZM234.5,399.3 233.7,401.3 234.9,401.5 234.7,403.0 237.8,403.1 236.7,408.0 237.5,410.8 235.8,414.0 234.2,419.3 239.0,424.1 249.8,423.5 250.8,413.8 254.8,406.3 245.8,402.9 246.0,395.8 242.1,389.9 242.2,388.0 237.5,390.8 232.3,392.2ZM318.1,636.5 319.2,641.5 322.6,644.4 328.5,641.5 330.1,638.0 326.1,633.8ZM237.6,156.2 242.1,163.8 242.2,179.9 245.1,182.2 252.0,180.7 256.5,177.6 262.0,171.5 258.2,166.4 258.5,165.2 257.3,161.7 256.6,162.0 239.3,152.0ZM172.1,164.3 171.6,166.6 174.8,169.8 182.8,167.8 185.2,169.0 184.1,165.0 183.8,159.0 186.0,151.8 175.6,150.9 174.4,153.6 168.0,159.0ZM266.9,660.0 267.4,665.3 276.7,664.5 281.4,662.6 284.0,657.8 278.2,656.1 277.4,650.4 273.2,643.5 267.5,647.4 265.4,659.3ZM350.6,262.9 356.3,263.5 364.1,259.5 369.0,258.1 365.7,253.4 360.3,253.7 353.5,258.2ZM616.9,328.7 613.2,334.5 613.3,338.1 624.7,337.0 629.6,339.0 628.1,343.5 633.8,346.3 636.4,343.6 638.9,339.4 641.8,332.2 626.0,322.2 630.0,318.1 627.8,316.5 620.6,317.3 618.1,320.9ZM331.9,164.2 332.8,167.7 331.0,170.6 337.9,174.5 342.6,175.0 350.2,167.1 346.2,162.5 337.8,171.2ZM301.7,642.5 304.5,640.0 304.5,635.1 302.6,633.1 302.0,628.9 300.2,627.6 291.4,629.1 294.3,638.9ZM115.0,150.0 106.7,161.7 103.0,165.4 104.5,167.1 106.5,167.0 112.4,168.4 117.1,167.7 118.3,163.4 123.8,159.7 128.3,155.2 131.5,153.1 115.8,145.1ZM262.9,596.0 267.1,587.5 260.1,580.2 253.3,584.8 251.7,588.9 253.5,592.4 256.0,594.5ZM324.8,178.7 327.9,184.2 328.0,187.6 334.8,184.4 337.9,174.5 331.0,170.6 321.7,178.4ZM217.7,454.0 232.0,465.0 236.1,460.4 238.6,456.9 241.0,451.8 243.2,444.1 240.6,442.2 241.0,439.7 234.5,437.9 230.8,440.9 224.9,436.0 220.6,438.3 215.9,450.8ZM286.2,491.2 285.4,501.3 288.8,504.3 299.1,508.0 301.9,502.7 300.3,495.4 300.7,491.9 297.9,487.3 295.2,484.2 293.4,488.9ZM115.8,145.1 127.7,151.3 129.0,145.4 133.6,136.3 127.3,131.2 117.3,132.2 117.5,135.0ZM219.4,197.7 215.1,202.6 215.1,207.1 219.9,211.2 224.6,213.3 238.1,204.2 240.3,199.9 239.1,191.2 237.8,187.8 233.6,190.1 229.2,189.0 224.5,182.1 221.7,182.4 217.5,191.8ZM326.6,256.1 333.5,252.0 332.7,255.5 337.7,255.1 343.0,257.5 343.5,253.3 342.7,245.9 334.7,245.5 330.8,247.4ZM368.9,143.5 364.0,147.9 368.2,152.6 377.4,154.5 380.7,151.1ZM651.3,307.8 648.4,314.0 649.3,321.1 651.2,327.4 656.2,327.3 658.3,318.3 661.9,316.8 656.8,314.4 652.9,315.0ZM220.9,429.7 214.8,435.4 220.6,438.3 224.9,436.0 230.8,440.9 234.5,437.9 241.0,439.7 241.9,433.7 239.8,429.9 238.6,425.7 239.0,424.1 234.2,419.3 233.7,421.1 234.4,427.7 227.3,419.9 225.8,421.1 221.9,421.8ZM496.9,146.3 491.5,142.6 497.1,151.0 497.0,151.9 497.7,152.9 496.8,152.8 495.8,158.3 499.8,164.6 504.5,165.4 504.7,165.9 507.7,165.9 510.5,162.8 513.9,156.5 511.9,154.1 516.5,144.9 519.4,140.2 505.5,142.2 502.4,138.9 497.6,146.2ZM224.0,601.8 220.9,606.7 224.4,614.9 234.7,609.3 240.9,607.8 238.4,602.5 241.8,596.5 236.5,596.5 226.9,590.6 225.1,596.4 223.3,599.2ZM420.8,236.2 422.5,237.2 424.6,240.4 429.9,242.4 437.3,235.4 440.5,233.9 440.2,233.3 441.9,228.7 437.3,224.5 433.6,228.6 425.3,230.1 424.7,229.8ZM356.7,242.8 365.9,243.5 369.2,235.4 365.8,233.7 362.5,230.5 358.3,232.0 358.1,233.8 354.9,237.1ZM181.2,515.7 186.4,517.9 194.8,520.0 197.8,524.7 196.8,530.3 201.3,534.7 203.0,529.2 206.8,526.8 207.1,524.8 202.5,527.2 201.2,521.6 201.5,515.3 200.5,511.1 206.0,507.3 207.5,502.3 201.0,507.6 193.8,508.1 192.0,511.1 191.0,511.8 181.1,512.6ZM255.9,158.0 261.9,155.4 261.2,149.2 265.8,143.5 265.2,141.6 266.1,136.8 251.4,136.6 246.2,140.6 244.0,143.6 240.1,147.4 239.3,152.0 256.6,162.0ZM373.5,599.2 373.8,595.5 367.3,589.9 361.6,588.8 355.2,596.2 361.1,602.3 370.5,602.6ZM79.0,251.5 87.5,260.8 92.5,263.3 96.3,272.9 97.1,266.3 98.9,258.7 98.1,254.6 94.3,251.4 92.4,248.5 87.7,248.7ZM192.3,144.7 192.2,149.2 204.1,149.4 204.2,148.3 199.7,140.0 199.0,140.1 193.5,137.6ZM333.2,644.7 328.5,641.5 322.6,644.4 323.9,650.4 330.0,651.6 335.5,648.3ZM301.7,642.5 299.0,650.7 301.4,650.4 307.9,651.9 307.2,654.5 313.1,650.6 314.3,645.6 310.2,641.5 304.5,640.0ZM338.9,219.5 345.2,211.9 339.8,207.4 335.7,206.4 328.2,211.7 327.5,214.7 332.4,216.3ZM473.3,339.5 481.9,347.0 487.0,348.6 491.3,351.0 493.8,356.2 497.9,357.6 503.6,343.7 503.0,330.4 488.0,327.9 481.7,323.1 481.8,328.0 478.9,332.0 480.0,337.4ZM237.0,579.8 232.0,584.2 226.9,590.6 236.5,596.5 241.8,596.5 245.2,591.3 250.9,589.8 245.5,584.6 245.1,578.2 242.6,571.2 238.0,572.2ZM319.3,195.6 319.5,201.9 324.6,204.7 326.2,200.3 328.8,196.0 326.6,192.6 316.1,190.0ZM190.3,132.3 187.0,138.4 193.5,137.6 199.0,140.1 200.1,133.6 199.7,127.9 196.9,123.0 192.4,123.4ZM283.3,148.7 282.2,156.6 284.4,158.0 291.1,160.1 297.4,157.6 299.5,150.2 299.2,145.6 295.9,143.1 287.5,149.2ZM204.1,167.9 202.7,172.1 205.0,175.5 212.4,168.1 212.4,158.8 206.9,155.5 201.5,159.9 200.7,163.5ZM200.2,393.1 200.7,397.6 203.5,401.2 206.5,400.9 211.8,402.8 216.9,402.9 226.2,400.1 233.7,401.3 234.5,399.3 232.3,392.2 229.0,391.0 220.1,395.9 214.3,394.5 205.3,389.3 201.9,393.5ZM636.3,294.7 637.0,302.7 635.0,306.7 640.2,309.8 640.0,307.9 651.2,308.2 651.8,307.7 652.6,301.2 651.7,298.3 652.0,293.8 653.7,290.5 657.5,287.3 661.3,290.9 662.1,290.0 662.3,284.5 658.0,284.3 649.2,289.0 646.2,287.5 639.2,290.5 632.1,286.7ZM561.6,344.0 565.9,342.3 570.4,344.0 576.3,342.7 580.5,343.5 584.2,343.5 587.0,348.3 586.8,349.9 589.6,349.3 595.0,346.5 595.6,330.0 591.4,329.9 588.2,331.8 579.4,330.5 570.8,336.0 571.4,336.6 567.3,340.3 563.6,340.6 562.2,341.9ZM589.9,317.8 589.8,322.0 593.4,324.3 595.6,330.0 595.4,331.8 598.6,335.0 597.8,336.8 607.0,333.6 613.2,334.5 616.9,328.7 618.1,320.9 620.6,317.3 612.1,308.8 609.0,304.0 603.9,303.8 597.4,306.5 595.2,311.3 595.1,314.3ZM410.0,204.3 411.4,204.4 411.4,204.9 417.2,207.8 418.2,201.4 420.8,197.4 420.2,196.1 415.9,193.9 410.2,194.3 409.2,201.5ZM146.7,548.9 144.3,551.5 150.0,555.8 154.1,559.9 160.4,555.7 158.3,549.1 158.8,544.4 153.4,542.6 147.6,544.6ZM618.1,406.3 618.0,407.5 620.0,407.5 631.7,396.7 630.8,388.3 633.3,385.9 629.5,384.6 626.9,391.6 622.0,395.5 616.1,396.6 616.0,399.8ZM341.0,625.1 341.3,621.0 336.3,615.5 331.9,616.7 332.2,627.5 333.0,628.1 338.9,626.9ZM412.0,227.9 413.5,226.4 416.3,232.6 419.9,236.6 417.8,240.5 421.4,240.8 422.5,237.2 420.8,236.2 425.2,228.8 426.5,219.5 422.6,223.2 411.9,224.7ZM255.5,360.0 254.0,362.4 252.2,367.6 255.6,373.2 256.3,378.7 260.2,381.8 265.9,384.2 268.3,380.6 271.3,377.8 275.0,376.8 274.4,371.9 271.8,362.5 266.2,356.1 258.3,358.3ZM422.2,182.8 419.3,181.4 412.0,179.8 417.1,186.6 418.2,189.3 419.8,189.9 421.6,190.2 422.9,188.0 425.0,187.4 427.5,183.6 424.5,180.7ZM258.5,165.2 258.2,166.4 262.0,171.5 267.2,170.2 273.8,169.9 275.3,171.8 277.4,169.2 280.4,162.9 280.4,155.1 273.0,154.4 261.9,155.4 255.9,158.0ZM579.1,303.6 586.1,307.5 588.4,308.1 590.7,307.4 594.1,307.3 595.2,311.3 597.4,306.5 603.9,303.8 601.4,300.9 600.5,295.0 594.7,296.7 592.0,296.0 585.4,299.9 578.2,297.2 574.4,300.7 575.2,308.0ZM288.7,586.2 295.5,587.3 297.2,582.4 296.8,579.8 288.6,576.1 285.7,578.0 285.7,584.3ZM254.5,420.7 262.0,423.6 265.6,423.4 266.2,429.8 267.8,436.2 272.0,430.9 273.4,422.8 277.3,419.9 273.2,411.7 271.2,405.2 270.3,398.5 255.6,406.6 254.7,406.6 250.8,413.8 249.8,423.5ZM240.3,199.9 238.1,204.2 244.5,203.2 250.4,206.1 254.2,203.8 253.2,202.1 255.9,194.7 254.8,193.7 252.1,186.7 242.9,183.5 237.8,187.8 239.1,191.2ZM299.1,508.0 299.9,517.5 304.9,516.9 309.6,514.4 316.2,515.5 317.4,507.2 317.0,502.4 312.3,502.7 300.3,495.4 301.9,502.7ZM320.2,180.6 322.9,189.6 316.9,186.8 315.0,187.3 316.1,190.0 326.6,192.6 328.0,187.6 327.9,184.2 324.8,178.7ZM223.6,254.6 220.0,266.7 224.5,269.9 232.5,274.2 233.6,280.9 238.5,277.2 239.8,275.0 241.4,274.7 244.1,268.5 248.9,266.6 261.1,263.5 260.7,261.7 261.0,256.2 259.5,247.5 257.7,241.5 255.6,241.4 248.6,237.0 240.9,240.8 242.2,247.4 229.7,251.5 227.6,254.9 222.3,251.0ZM636.5,185.2 639.5,192.5 638.9,196.2 634.4,200.7 634.0,203.6 635.8,206.2 637.0,206.2 639.1,205.2 639.8,205.4 641.8,194.5 645.1,190.7 643.9,186.0 637.2,183.4ZM219.2,106.0 213.6,115.0 218.6,122.0 222.9,118.5 225.2,114.4 228.8,113.4 227.2,109.2ZM129.0,145.4 127.7,151.3 131.5,153.1 131.2,153.8 133.3,154.5 137.9,154.4 143.5,155.4 145.3,150.3 150.2,147.0 150.8,145.9 145.7,141.1 142.8,144.5 140.2,137.9 139.0,132.1 133.6,136.3ZM247.4,625.9 240.0,628.7 248.1,633.2 253.0,634.3 257.1,629.7 261.0,629.2 257.1,627.2 253.6,627.9 254.1,621.0 253.7,619.9 251.1,621.7ZM376.2,365.8 375.0,371.5 375.5,376.2 376.9,377.9 373.1,384.6 370.7,390.4 376.9,391.6 381.0,390.1 380.1,389.3 390.8,387.0 396.7,386.6 393.8,381.7 390.6,381.5 386.6,378.5 380.9,371.3 385.3,369.6 390.3,365.4 381.2,364.6 377.7,363.7ZM277.4,650.4 278.2,656.1 284.0,657.8 292.6,655.3 292.9,654.8 291.8,651.5 288.9,650.0 287.3,644.0 284.9,643.8ZM322.1,149.2 325.4,154.2 333.6,147.8 343.0,149.2 341.8,145.0 337.1,141.3 332.3,146.5 329.4,146.9 326.5,148.6ZM517.3,296.8 525.1,295.1 535.1,284.6 541.3,286.1 539.6,278.1 541.4,274.2 535.0,271.1 530.9,269.9 530.4,276.3 528.8,278.3 528.8,282.6 530.4,287.1 524.7,290.3 519.1,292.7ZM204.2,148.3 205.3,144.1 210.2,143.5 212.6,138.7 210.7,136.3 202.8,137.7 199.7,140.0ZM256.0,594.5 253.5,592.4 254.8,597.5 259.9,601.7 262.9,613.1 266.9,601.8 270.9,597.0ZM165.8,121.9 161.0,126.4 169.4,126.5 173.7,126.0 179.6,124.2 181.5,122.3 183.3,114.8 179.4,114.1 175.1,117.4 169.9,115.1ZM341.6,188.4 345.8,182.2 342.6,175.0 337.9,174.5 334.8,184.4ZM254.1,563.9 252.2,568.8 255.3,570.1 261.3,569.4 262.0,562.1 258.6,555.8 254.4,557.6ZM287.3,644.0 294.3,638.9 291.4,629.1 290.4,629.1 285.6,633.2 284.9,643.8ZM304.9,635.6 312.6,636.8 318.1,636.6 317.2,626.5 313.1,628.1ZM364.2,610.3 366.8,613.3 371.3,612.9 372.0,606.9 370.5,602.6 361.1,602.3 358.6,607.8ZM258.5,487.6 256.0,492.1 266.3,499.8 267.1,495.4 271.0,492.1 267.8,486.2 266.5,480.4 263.4,484.8 263.5,485.4 258.1,482.8ZM230.2,168.0 231.3,170.4 224.5,182.1 229.2,189.0 233.6,190.1 237.8,187.8 242.9,183.5 248.1,185.1 242.2,179.9 242.1,163.8 237.3,155.6 235.6,157.5ZM299.7,209.1 297.0,218.3 301.1,215.5 301.4,217.0 303.9,216.2 311.9,217.3 314.7,214.1 315.1,207.9 321.2,201.8 311.0,202.7 301.5,202.2 296.0,202.7ZM205.0,462.4 203.4,463.4 206.9,465.1 210.9,459.7 217.8,453.9 206.8,449.8 205.5,450.5 206.4,458.9ZM338.7,636.8 333.2,644.7 335.5,648.3 339.6,648.9 344.3,642.1 344.2,639.9ZM317.0,173.5 321.7,178.4 331.0,170.6 332.8,167.7 331.6,163.1 327.0,159.4 317.1,166.3ZM212.2,131.0 210.7,136.3 212.6,138.7 216.4,140.3 222.3,135.5 229.6,137.5 221.2,130.2 219.6,125.1 215.1,122.8 211.3,127.2ZM271.0,204.7 269.6,208.3 272.3,208.8 285.2,202.8 287.1,199.5 283.4,196.7 285.3,192.8 276.4,189.6 271.0,190.0 268.6,191.6 267.4,193.7 271.4,198.0ZM429.8,302.8 438.0,308.3 439.8,308.9 439.9,318.2 441.6,322.0 445.8,328.0 457.3,329.6 464.1,324.8 465.3,319.5 467.3,314.2 464.2,303.2 462.2,298.3 460.9,296.5 457.9,296.0 455.3,297.1 447.8,294.0 436.7,293.1ZM245.2,543.4 241.8,545.8 243.2,546.8 246.3,545.8 247.5,547.3 250.0,547.5 255.3,545.6 257.4,541.9 256.2,535.6 251.2,536.7 246.2,535.2ZM341.0,365.8 346.8,364.1 359.1,353.5 351.5,354.5 348.9,353.2 346.0,357.9 344.8,356.7 343.0,362.5ZM351.9,249.7 353.5,258.2 360.3,253.7 365.7,253.4 366.4,252.4 365.2,247.6 365.9,243.5 356.7,242.8ZM338.9,219.5 341.4,222.2 351.2,219.8 352.0,218.1 351.3,213.1 345.2,211.9ZM141.8,544.4 141.7,543.1 133.5,540.2 134.4,546.0 140.0,548.3 144.3,551.5 146.7,548.9 147.6,544.6ZM311.9,225.3 312.5,227.6 314.7,230.1 317.6,230.6 322.0,229.3 324.6,226.9 326.3,220.5 322.2,214.7 314.7,214.1 311.9,217.3 312.5,223.2ZM234.7,609.3 224.4,614.9 232.8,626.6 240.0,628.7 247.4,625.9 251.1,621.7 251.5,613.5 250.5,606.5 240.9,607.8ZM175.6,150.9 187.7,151.9 182.3,147.2 180.2,136.3 174.4,139.8 173.7,145.5 174.4,153.6ZM630.0,318.1 626.0,322.2 641.8,332.2 651.2,327.4 649.3,321.1 648.4,314.0 651.2,308.2 640.0,307.9 640.2,309.8 635.0,306.7 628.4,306.2 624.7,309.9 627.8,316.5ZM193.5,148.9 194.2,157.0 200.8,163.1 201.5,159.9 206.9,155.5 204.1,149.4ZM296.9,344.2 294.4,343.6 288.0,349.7 288.1,358.0 298.8,359.6 301.0,362.9 305.8,366.6 307.1,365.0 304.0,363.6 302.8,361.3 299.5,359.0 303.8,356.4 306.7,357.3 309.8,356.1 310.2,354.7 307.2,351.2 306.2,348.1 302.9,342.6 302.6,340.2 300.5,339.4ZM212.4,168.1 222.4,166.4 227.4,164.1 230.6,157.9 227.1,155.1 227.3,153.8 222.3,150.6 215.8,152.7 212.4,158.8ZM268.8,518.3 270.6,519.3 272.5,521.6 273.8,517.5 281.6,514.1 281.2,511.4 277.2,508.4 271.6,509.7 270.7,511.0 263.9,515.2 262.0,517.5Z"/>
<path id="g6" d="M301.8,600.4 303.8,601.8 308.8,600.7 310.5,592.2 307.6,590.8 304.1,590.8 302.9,598.8ZM287.8,246.5 285.2,242.0 279.1,249.5 286.5,249.2ZM394.6,182.9 406.5,186.9 408.6,184.2 407.0,181.2 398.9,180.9ZM332.1,595.1 335.4,600.7 341.4,597.5 341.7,594.4 335.9,590.2ZM365.7,640.0 369.4,640.8 373.0,639.6 371.4,634.1 368.8,631.3 367.0,632.0ZM614.6,270.7 623.5,271.9 627.2,266.2 627.5,264.5 626.3,264.9 623.6,263.8 622.4,266.4 617.2,268.6ZM545.4,124.1 545.4,123.3 533.9,123.3 536.2,125.4ZM300.5,217.2 309.2,222.5 311.9,225.3 312.5,223.2 311.9,217.3 303.9,216.2ZM377.0,205.7 381.4,208.2 382.5,205.2 382.3,203.8 379.5,205.7 378.2,202.6ZM383.1,228.1 390.6,228.7 389.9,236.7 393.6,236.7 394.3,233.8 393.1,228.8 390.7,225.8 387.7,223.8ZM321.0,602.9 317.3,599.1 312.7,601.5 315.9,607.4ZM317.9,580.1 320.0,575.8 319.0,574.4 315.7,575.7 311.6,581.6 318.2,585.1ZM378.2,225.0 373.2,227.1 373.0,235.3 379.0,235.7 378.3,230.4 381.1,229.2ZM301.8,600.4 295.0,600.6 293.9,605.8 300.3,608.0 303.8,601.8ZM337.3,608.3 339.8,610.8 344.7,604.2 341.4,597.5 335.4,600.7ZM351.5,634.3 357.0,635.5 361.0,632.4 359.3,627.4 356.4,626.1 351.9,627.1ZM299.3,547.6 302.1,551.2 303.7,550.8 301.0,544.2ZM329.6,603.9 331.7,608.0 337.3,608.3 335.3,600.4ZM359.9,221.5 361.0,221.5 363.1,212.9 358.9,209.0 355.5,217.8ZM351.5,634.3 348.9,634.6 352.3,642.6 360.2,640.2 357.0,635.5ZM371.1,196.4 373.3,195.1 373.3,194.6 375.9,193.5 374.6,189.9 372.0,188.4 362.8,191.7 369.3,196.3ZM424.9,171.6 426.6,175.2 431.1,177.2 441.8,172.8 434.6,168.8 431.3,170.2 432.9,172.7 427.3,171.4ZM313.5,162.8 314.8,166.8 317.0,171.5 317.1,166.3 315.4,161.9ZM379.2,643.3 379.8,639.4 377.1,639.2 375.0,642.1ZM422.1,158.1 423.6,162.7 424.7,161.7 429.3,160.2 429.1,166.7 431.3,170.2 434.6,168.8 433.1,161.2 431.6,158.0ZM342.0,654.7 346.8,654.0 348.6,647.8 340.0,649.3ZM434.8,332.4 432.3,333.6 436.5,336.6 439.2,328.3 437.3,329.6ZM420.8,197.4 418.2,201.4 417.2,207.8 418.3,210.1 423.0,207.7 424.1,206.4 423.3,204.1 423.7,201.1 422.4,197.1 421.0,196.4ZM399.1,231.4 404.4,231.0 403.1,225.9 396.5,225.5 393.1,228.8 394.3,234.0ZM339.2,649.5 348.6,647.8 351.5,645.6 350.5,644.4 344.3,642.1ZM396.6,156.7 399.3,160.7 401.2,159.8 406.6,162.5 404.2,157.2ZM360.3,640.2 360.5,648.9 365.2,649.4 367.2,647.0 365.7,640.5ZM398.7,199.7 397.8,191.9 393.5,190.1 392.2,199.5 393.0,200.8 395.5,201.6ZM358.9,209.0 363.1,212.9 365.1,213.9 365.4,205.9 359.7,205.0 359.1,205.9ZM443.9,174.3 446.9,178.1 449.6,173.5 454.9,169.5 451.2,169.5ZM377.0,205.7 373.8,206.2 371.1,210.2 371.7,211.0 376.9,209.8 378.5,206.6ZM289.8,595.5 296.6,591.5 298.1,590.1 295.5,587.3 288.7,586.2ZM380.3,243.8 379.0,235.7 370.0,235.4 372.1,240.5 379.5,247.9 381.1,244.0ZM341.0,625.1 346.6,626.2 346.8,617.2 345.4,616.1 341.3,621.0ZM333.0,628.1 334.1,632.0 337.3,636.2 343.0,632.5 338.9,626.9ZM346.6,628.4 356.4,626.1 355.4,621.4 346.8,617.2ZM360.3,640.1 352.3,642.6 350.5,644.4 353.5,649.6 360.5,650.2ZM389.8,248.5 391.3,242.9 393.0,240.0 393.6,236.7 389.9,236.7 389.9,241.3 383.5,240.9 381.9,242.3 387.0,248.2ZM391.9,222.5 393.5,213.8 387.0,218.1 387.7,223.8 390.7,225.8ZM359.7,138.3 362.7,142.7 366.4,145.8 368.9,143.5ZM361.2,220.9 367.5,220.3 368.7,217.6 367.6,214.4 366.6,214.9 363.1,212.9ZM377.9,220.9 374.9,218.9 368.7,217.6 367.5,220.3 370.1,225.9 373.2,227.1 378.2,225.0ZM326.7,557.0 327.3,560.8 328.4,563.3 329.9,563.5 331.8,554.3 330.6,554.9 320.1,553.8 322.6,557.1ZM371.4,203.6 373.8,206.2 377.0,205.7 378.2,202.6 377.2,200.3 374.8,197.9ZM351.3,213.1 352.0,218.1 355.5,217.8 358.9,209.0 359.1,205.9 356.3,206.1 354.0,210.0 352.7,208.8ZM362.3,199.8 359.7,205.0 365.4,205.9 366.6,200.7ZM568.8,128.8 569.2,132.4 571.5,135.2 580.6,136.0ZM371.1,196.4 369.3,196.3 366.6,200.7 365.9,203.6 371.4,203.6 374.8,197.9ZM285.0,547.6 285.0,554.1 289.7,556.7 291.8,553.8 291.7,550.9 288.8,550.7ZM331.6,616.8 336.3,615.5 340.0,611.0 337.3,608.3 331.7,608.0 331.0,611.8ZM343.6,239.8 346.6,241.8 351.9,249.7 356.7,242.8 354.9,237.1 352.2,240.0 348.4,242.6 347.3,237.1ZM359.9,172.6 360.8,172.5 361.3,170.1 354.4,168.0 352.3,173.9 352.5,179.6 361.2,173.1ZM367.0,632.0 368.8,631.3 367.6,621.1 366.6,620.5 359.3,627.4 361.0,632.4ZM361.2,220.9 363.3,229.5 370.1,225.9 367.5,220.3ZM368.5,640.6 375.0,642.1 377.1,639.2 375.5,639.0ZM355.2,610.2 352.2,606.2 348.9,598.6 341.7,608.5ZM337.3,636.2 334.1,632.0 330.1,638.0 328.5,641.5 333.2,644.7 338.7,636.8ZM345.9,198.7 348.7,198.3 352.7,195.1 352.1,192.5 342.6,192.4ZM326.2,595.9 330.8,602.9 335.2,600.4 331.9,594.8ZM305.8,660.5 313.1,659.2 314.8,653.3 313.1,650.6 307.3,654.2ZM333.2,654.9 333.1,656.0 342.0,654.7 340.0,649.3 335.5,648.3 330.0,651.6ZM402.1,214.9 400.6,210.1 397.8,214.1 398.5,220.7 404.8,221.3 404.8,214.7ZM332.4,585.2 336.1,587.2 340.5,585.9 340.8,583.7 332.8,577.5 329.5,585.5ZM358.1,221.6 360.0,222.8 358.5,227.2 358.3,232.0 362.5,230.5 363.3,229.5 360.8,220.5 360.4,221.5ZM305.4,623.1 300.8,616.6 298.0,617.7 297.6,619.9 300.2,627.6 302.0,628.9ZM348.9,634.6 351.5,634.3 351.9,627.1 346.6,628.4 346.3,631.8 346.9,636.0ZM377.7,214.7 384.1,216.1 386.3,216.7 383.6,211.4 378.8,212.7ZM347.3,203.4 339.8,207.4 345.2,211.9 351.3,213.1 352.7,208.8ZM355.4,197.7 357.2,200.2 360.7,202.9 362.4,199.5ZM535.4,329.2 535.6,332.2 538.0,335.1 540.7,334.6 540.7,331.0 538.5,327.4 535.2,324.9 534.0,326.0ZM409.3,183.3 415.1,188.1 418.2,189.3 417.1,186.6 411.6,179.3ZM406.5,186.9 406.2,190.4 410.2,194.3 415.9,193.9 413.2,192.6 408.6,184.2ZM346.8,654.0 352.9,653.4 353.5,649.6 351.5,645.6 348.6,647.8ZM387.2,192.6 393.0,192.6 393.5,190.1 392.3,187.5 390.0,192.1 389.9,188.8 386.4,190.0ZM341.4,222.2 345.4,226.3 352.2,219.5ZM346.9,636.0 346.3,631.8 343.0,632.5 337.3,636.2 344.2,639.9ZM403.6,203.8 410.0,204.3 409.2,201.5 398.7,199.7 395.5,201.6 395.2,202.4 398.6,204.9ZM432.9,193.1 436.9,195.2 440.6,195.4 439.0,192.8 438.5,190.7 435.2,189.3 434.9,190.8ZM339.6,611.1 344.8,616.8 351.7,609.7 341.7,608.5ZM362.6,191.5 362.5,199.9 366.6,200.7 369.3,196.3ZM392.2,199.5 393.0,192.6 387.2,192.6 389.3,199.0ZM332.0,595.2 335.9,590.2 336.1,587.2 332.4,585.2 329.5,585.5 329.2,587.3ZM307.5,601.2 303.8,601.8 300.3,608.0 302.3,612.6 306.2,609.0ZM352.9,653.4 359.8,652.7 360.5,650.2 353.5,649.6ZM368.7,157.6 367.7,160.4 378.6,158.2 378.5,156.9 382.1,155.8 380.4,151.4 377.4,154.5 368.2,152.6ZM380.3,151.2 382.1,155.8 383.3,155.1 390.8,155.0ZM287.0,562.0 289.7,556.7 285.0,554.1 278.2,555.6 276.0,560.2 276.8,560.8ZM391.9,222.5 398.5,220.7 397.8,214.1 394.2,213.2 393.5,213.8ZM360.2,640.2 365.7,640.5 367.0,632.0 361.0,632.4 357.0,635.5ZM420.2,158.0 404.2,157.2 406.4,162.2 408.4,162.1 411.4,160.4 418.1,159.9ZM365.5,203.6 369.1,209.1 371.1,210.2 373.8,206.2 371.4,203.6ZM359.2,185.5 352.3,180.0 347.1,182.3 352.9,186.2ZM360.5,648.9 359.8,652.7 361.7,652.5 365.0,653.3 366.2,650.9 365.2,649.4ZM369.7,178.2 372.0,188.4 374.6,189.9 376.3,188.4 375.1,187.2 374.2,183.6ZM459.0,146.4 458.0,148.7 466.2,149.9 469.5,148.5 472.8,145.0 465.9,144.5ZM446.0,166.5 445.5,173.1 451.2,169.5 454.3,169.5 456.4,167.0 458.2,166.3 455.4,164.3 447.8,164.8ZM377.7,214.7 378.8,212.7 376.9,209.8 371.7,211.0 371.7,213.2 376.3,215.0ZM366.6,214.9 369.1,209.1 366.0,204.3 365.4,205.9 365.1,213.9ZM295.4,546.8 297.1,551.4 291.7,550.9 291.8,553.8 298.4,555.3 302.1,551.2 299.3,547.6ZM346.6,626.2 341.0,625.1 338.9,626.9 343.0,632.5 346.3,631.8ZM405.1,214.9 413.7,217.5 416.6,214.4 418.3,210.1 417.2,207.8 411.4,204.9 411.1,208.6 414.4,213.6 408.5,213.1ZM236.7,548.8 234.6,553.0 238.7,557.1 238.2,560.3 243.6,560.3 241.2,554.9 238.6,552.6 240.6,546.5ZM345.0,589.6 341.7,594.4 341.4,597.5 344.7,604.2 348.9,598.6 350.3,594.7ZM377.9,220.9 384.1,216.1 377.7,214.7 376.3,215.0 374.9,218.9ZM289.7,291.1 302.7,294.4 300.5,289.3 296.2,286.1 298.1,289.2ZM396.7,205.3 398.6,204.9 395.2,202.4 393.7,210.3 394.2,213.2 397.8,214.1 400.6,210.1ZM374.6,189.9 375.9,193.5 380.7,191.7 376.3,188.4ZM350.7,285.3 354.6,287.7 357.3,290.3 364.5,291.1 366.8,294.4 369.6,294.5 369.8,290.7 370.6,288.6 367.4,290.5 355.2,286.0ZM367.6,621.1 368.8,631.3 371.4,634.1 370.5,630.5 370.5,625.9 369.1,622.0ZM346.9,636.0 344.2,639.9 344.3,642.1 350.5,644.4 352.3,642.6 348.9,634.6ZM351.2,219.8 351.3,220.8 359.0,222.6 359.9,221.5 355.5,217.8 352.0,218.1ZM421.9,206.2 421.6,206.8 428.5,211.3 429.5,212.7 432.3,210.2ZM376.9,209.8 378.8,212.7 381.9,212.0 381.4,208.2 378.5,206.6ZM198.3,446.4 202.3,443.9 205.7,444.0 206.5,437.6 198.3,435.0 201.8,438.9ZM408.0,253.0 410.2,253.7 415.4,257.2 414.8,251.3 415.8,243.5 412.3,245.1 408.1,248.8 405.9,251.6 404.7,254.1ZM370.1,225.9 363.3,229.5 362.5,230.5 365.8,233.7 369.2,235.4 373.0,235.3 373.2,227.1ZM300.8,616.6 305.4,623.1 308.8,620.2 307.4,618.9 308.3,618.1 301.9,613.6ZM405.0,230.9 407.3,234.7 409.0,230.8 412.0,227.9 411.9,224.7 408.6,223.7 403.1,225.9 404.4,231.0ZM333.0,628.1 332.2,627.5 326.1,626.1 326.1,633.8 330.1,638.0 334.1,632.0ZM366.7,214.7 371.7,213.2 371.7,211.0 369.1,209.1ZM396.5,225.5 394.2,221.9 391.9,222.5 390.7,225.8 393.1,228.8ZM389.3,199.0 389.9,201.2 384.1,202.6 382.3,203.8 382.5,205.2 388.5,205.1 393.0,200.8 392.2,199.5ZM344.9,617.0 339.8,611.2 336.3,615.5 341.3,621.0ZM404.8,221.3 398.5,220.7 394.2,221.9 396.5,225.5 403.1,225.9 408.6,223.7ZM374.9,218.9 376.3,215.0 371.7,213.2 367.6,214.4 368.7,217.6ZM356.1,136.1 348.7,131.3 348.1,134.6 353.6,137.7 355.3,137.3Z"/>
<path id="g7" d="M391.9,308.8 395.4,306.7 401.8,306.2 400.6,309.0 401.6,310.5 400.8,313.7 401.3,318.6 401.0,321.5 403.2,323.7 403.5,322.5 407.8,323.2 411.8,323.0 413.4,319.5 418.1,315.9 419.4,317.5 424.4,314.4 423.1,309.1 429.3,301.8 429.9,302.6 431.4,300.3 426.8,294.5 423.0,291.9 422.8,287.1 417.2,284.0 413.4,280.8 399.3,291.4 397.6,294.4 393.6,298.0 392.3,301.8ZM60.7,390.1 55.7,405.0 65.9,407.3 76.6,391.1 85.3,393.0 85.1,386.5 82.6,385.7 84.7,383.0 83.2,377.7 86.1,374.6 80.1,374.0 70.1,366.8 66.2,367.2 68.1,373.0 65.5,376.9 65.5,381.3 60.6,385.1ZM239.6,569.5 238.0,572.2 242.6,571.2 248.0,571.5 252.2,568.8 254.1,563.9 254.4,557.6 247.3,556.0 243.8,560.3 240.3,560.2 237.1,566.9ZM44.9,486.8 46.1,487.7 48.5,492.1 53.8,491.3 57.4,492.6 61.9,489.2 57.4,484.5 62.1,484.9 58.3,482.3 56.0,479.2 52.7,476.8 57.1,473.5 61.8,472.5 71.2,473.4 63.1,469.5 57.8,468.7 52.1,472.2 51.2,475.0 51.6,479.0 50.3,482.4 51.1,484.8ZM349.5,478.5 351.4,486.8 355.5,490.7 355.4,492.5 360.3,487.4 372.0,484.3 373.8,480.6 379.7,483.7 381.0,483.9 382.8,481.3 385.0,469.7 380.3,467.0 379.8,467.7 375.1,466.2 373.2,461.6 366.1,456.3 361.8,447.5 359.5,452.4 359.0,461.5 355.1,464.7 348.6,466.8 350.8,470.4ZM56.8,493.1 58.6,496.8 62.9,501.0 62.7,504.5 68.0,506.9 72.2,507.1 82.1,510.5 82.6,504.3 84.0,499.1 72.6,496.3 66.8,494.3 61.9,489.2ZM66.6,355.4 69.7,359.8 70.1,366.8 80.1,374.0 86.1,374.6 94.3,378.5 96.2,375.9 96.5,372.2 99.2,361.6 98.6,353.0 99.2,350.5 97.1,342.9 95.2,341.5 94.8,337.6 95.6,334.6 95.7,330.4 91.4,325.6 86.2,327.5 84.2,335.0 78.3,335.8 70.0,340.8 70.0,347.5 65.4,350.1 68.4,350.3ZM199.6,334.8 196.7,338.1 202.2,346.3 207.1,351.8 206.3,355.0 218.5,355.7 223.7,354.7 224.4,351.9 232.0,354.6 237.9,354.0 239.5,346.7 244.2,337.1 248.0,334.5 245.2,323.2 241.7,324.5 243.5,319.7 243.3,315.4 232.7,314.3 223.9,308.4 215.1,309.7 213.4,314.8 210.4,318.9 209.2,319.8 204.4,321.4 199.7,320.1 200.9,324.6ZM280.0,418.5 273.4,422.8 272.0,430.9 278.4,433.3 289.5,431.4 290.6,427.7 298.6,433.7 303.5,430.7 303.1,426.8 310.9,430.2 315.1,425.4 303.2,412.3 298.3,409.3 294.2,411.1 287.7,407.7 286.6,413.1ZM96.2,464.0 96.8,467.9 102.7,462.9 110.6,465.0 110.2,461.9 111.4,452.2 106.1,451.3 102.9,451.4 98.2,455.5 94.4,460.8ZM90.0,321.7 86.7,325.8 86.2,327.5 91.4,325.6 95.7,330.4 95.3,318.8 99.5,325.7 102.5,328.0 104.6,326.0 110.4,323.1 118.6,317.8 124.7,308.7 127.0,308.0 131.5,304.6 132.9,301.2 135.0,300.1 132.6,299.9 130.4,295.2 123.4,293.4 122.3,291.6 116.6,286.4 112.1,287.6 105.0,290.4 100.4,286.3 99.0,286.7 100.0,288.3 98.3,296.7 86.7,303.3 83.8,312.5ZM84.9,479.4 87.3,479.6 88.4,478.8 89.1,479.8 93.2,480.2 96.1,470.8 85.4,468.0 83.8,472.7 80.9,478.3 82.6,481.2ZM547.8,392.6 546.9,393.2 548.1,394.0 549.0,400.2 550.4,400.9 557.8,399.5 562.0,399.9 564.6,398.0 570.9,398.4 576.5,393.3 583.4,391.9 581.8,390.3 582.8,383.6 582.6,381.6 577.0,376.7 574.1,372.7 572.0,367.6 571.9,363.1 569.0,363.8 566.8,365.2 564.5,370.9 563.0,364.7 559.7,361.1 551.7,356.3 548.0,356.1 536.4,368.9 538.5,376.3 541.8,384.1 544.3,388.9ZM310.2,641.5 314.3,645.6 319.2,641.5 318.1,636.6 312.6,636.8 304.4,635.5 304.5,640.0ZM332.0,617.6 323.8,617.0 323.5,625.0 326.1,626.1 332.2,627.5ZM104.5,421.6 110.2,426.3 110.2,423.1 108.8,420.2 107.3,418.8 105.5,415.0 112.2,407.0 116.0,406.0 119.3,406.9 113.8,396.5 102.9,402.0 100.6,407.1 92.2,418.0 88.7,426.7 97.2,427.2ZM339.0,407.9 336.1,413.1 345.9,418.0 344.0,421.5 346.4,423.1 353.5,423.5 355.2,418.6 359.8,414.7 363.4,414.3 361.9,413.1 369.1,412.5 368.2,411.3 370.8,402.2 366.8,396.5 359.4,389.0 353.4,387.5 348.8,388.8 346.9,391.3 347.7,392.9 343.2,394.2 341.0,398.8 338.5,401.8ZM140.2,510.0 144.1,506.3 146.1,501.8 144.8,501.0 140.7,501.7 133.3,501.2 132.7,508.2 133.0,511.1 140.8,514.8 144.9,513.8 144.2,512.5ZM413.0,345.2 417.1,346.1 421.4,342.9 423.8,353.0 423.5,355.1 425.0,354.9 435.1,356.8 438.8,356.6 435.8,353.4 437.3,341.7 436.5,336.6 432.3,333.6 424.5,337.4 425.6,333.5 418.4,341.4 417.7,340.9 415.7,344.0 412.8,342.4 409.8,342.7 409.6,346.5 410.6,346.9ZM370.8,577.1 366.5,578.7 372.2,585.3 372.6,591.3 376.5,585.9 382.5,586.5 390.8,586.2 396.0,580.3 398.2,577.3 398.3,575.8 399.9,574.6 399.4,569.8 397.1,565.8 396.5,566.7 394.2,567.0 388.7,578.2 382.2,583.0 380.5,576.8 376.9,574.0 373.9,572.5ZM201.3,642.0 210.0,653.3 218.3,661.7 221.5,663.9 223.5,662.3 226.2,658.3 224.9,654.7 228.1,648.8 229.0,648.7 226.7,641.4 225.8,640.6 221.9,639.9 215.6,629.2 208.8,633.4 206.9,638.9 206.1,639.0ZM113.9,393.5 113.8,396.5 118.7,405.7 120.7,407.2 124.1,408.1 124.6,410.2 128.5,414.2 131.1,413.3 133.9,416.5 140.7,409.4 144.5,404.3 149.5,399.7 154.8,387.5 147.5,385.3 143.0,380.8 141.7,380.7 137.3,383.3 134.4,384.3 133.3,385.8 129.7,388.1 127.5,393.4 123.1,391.9 116.8,388.2 113.6,389.4 113.1,390.8ZM410.3,455.5 414.3,456.7 418.3,455.8 424.0,448.1 426.4,445.6 429.3,443.9 436.7,443.2 435.5,439.3 429.2,435.8 423.3,437.0 417.2,443.8 412.0,446.5 410.3,449.6ZM187.1,604.2 190.0,618.3 192.4,624.0 198.8,620.5 207.0,619.4 211.3,611.1 193.6,604.1ZM248.0,571.5 242.6,571.2 245.1,578.2 245.5,584.6 250.9,589.8 253.3,584.8 260.1,580.2 257.8,578.1 255.3,570.1 252.2,568.8ZM274.4,343.5 270.1,348.9 286.1,352.7 288.0,349.7 294.4,343.6 296.9,344.2 300.5,339.4 295.4,332.5 291.8,326.5 288.5,325.9 283.2,327.1 282.6,326.2 278.1,327.9 276.9,329.6 269.9,326.5 272.3,334.7 272.5,339.6ZM313.9,397.3 313.6,402.2 314.2,412.2 316.0,414.8 320.8,417.7 328.8,416.3 336.1,413.1 339.0,407.9 338.5,401.8 341.0,398.8 343.2,394.2 333.2,384.7 328.8,383.5 322.2,379.8 314.9,384.9 316.5,393.1 311.9,395.0ZM46.7,495.7 41.0,500.3 47.6,507.6 51.6,509.6 54.1,508.9 62.7,504.5 62.9,501.0 58.6,496.8 56.8,493.1 57.0,492.4 53.8,491.3 48.5,492.1ZM179.2,532.3 180.5,537.8 180.2,543.0 190.0,546.6 196.8,543.6 200.8,539.2 200.7,534.1 196.8,530.3 197.8,524.7 194.8,520.0 186.4,517.9 179.7,515.0 178.6,522.2 176.2,529.0ZM276.8,560.8 277.4,571.6 278.2,572.8 287.2,569.2 288.3,566.5 287.0,562.0ZM44.0,408.4 41.7,412.7 45.3,418.1 43.5,423.3 51.5,426.9 56.1,427.3 58.3,428.4 64.3,428.6 70.4,420.8 67.6,419.2 67.5,406.3 65.9,407.3 55.7,405.0 53.4,405.7 46.5,400.2 44.3,401.1ZM196.8,543.6 195.7,544.0 199.9,548.9 206.9,554.7 210.1,551.1 216.1,553.8 223.6,553.7 224.2,548.6 227.4,541.2 225.7,534.8 227.0,527.2 220.9,531.4 214.1,531.5 202.3,535.4 200.7,534.3 200.8,539.2ZM144.8,501.0 146.7,502.1 151.5,500.9 151.8,500.4 151.8,494.8 150.6,490.6 145.6,488.3 141.2,492.5 141.3,497.3 140.7,501.7ZM238.5,639.6 233.5,642.3 231.0,645.8 235.4,648.2 247.9,660.9 252.7,655.9 255.2,651.2 259.6,647.3 256.7,642.4 253.0,634.3 248.2,633.2 242.8,630.4 239.7,636.2ZM287.0,400.2 294.8,395.8 301.7,393.6 303.2,390.0 306.3,389.6 303.0,384.1 302.4,375.8 297.6,373.1 284.7,373.6 283.2,380.4 284.5,385.9 284.4,394.2ZM446.4,410.9 446.0,414.2 449.7,417.8 452.4,427.8 455.7,424.6 458.9,426.3 462.2,431.4 465.8,428.8 466.8,424.6 468.5,421.0 470.2,418.9 471.5,415.8 474.1,415.8 480.0,407.2 476.4,406.7 476.7,407.9 471.6,400.6 468.8,401.7 459.2,399.9 460.9,402.8 460.5,403.2 453.7,397.5 450.8,398.3 449.2,397.2 445.1,405.4ZM324.7,471.9 317.0,472.4 313.9,481.1 319.9,480.7 326.4,481.9 332.4,482.3 337.1,477.5 342.5,476.2 347.1,473.8 350.8,470.4 348.6,466.8 346.0,468.6 338.0,469.5 332.4,464.2 327.5,462.5 327.0,466.7ZM377.3,617.7 375.0,622.0 375.3,623.3 380.5,624.6 381.9,626.3 386.5,628.2 386.9,628.9 394.2,620.8 395.5,617.8 386.3,616.4 378.3,613.0ZM288.6,528.9 280.8,530.1 279.8,537.3 282.6,538.8 289.8,539.7 290.9,533.5ZM383.9,606.2 377.9,608.3 379.2,613.3 386.3,616.4 395.5,617.8 396.7,615.0 398.2,601.2 396.5,599.5 392.3,600.2ZM262.6,523.3 263.7,527.3 263.3,533.2 268.4,533.6 271.4,530.6 271.5,526.0 272.5,521.6 270.6,519.3 268.8,518.3 262.0,517.5 258.7,517.7ZM333.5,515.8 331.1,521.0 337.9,521.0 343.1,518.4 348.7,513.8 351.0,512.8 345.2,510.6 342.3,507.5 341.1,503.1 338.8,501.0 331.9,501.1 331.2,503.0 331.6,509.7ZM516.3,511.1 515.0,514.2 521.7,521.7 531.7,523.3 532.5,531.7 538.5,532.2 542.1,527.1 547.2,515.1 547.2,512.6 547.6,512.5 549.7,506.8 546.1,501.6 544.8,494.5 537.8,495.5 529.0,492.2 522.4,489.0 521.9,486.8 519.3,486.3 518.1,494.5 516.4,499.6 514.9,501.9 516.7,508.3ZM64.1,434.5 66.3,442.3 66.1,445.0 69.8,447.6 86.1,441.4 85.1,431.2 87.1,427.3 89.6,428.5 88.7,426.7 89.7,424.2 84.3,423.2 82.0,424.3 75.8,418.5 70.4,420.8 64.3,428.6 58.3,428.4ZM220.4,500.3 218.8,505.8 222.8,513.8 223.8,519.0 230.9,518.8 231.7,520.7 236.9,515.5 239.9,504.6 234.5,503.0 236.0,501.0 230.8,498.2 226.7,496.9 223.4,498.5 219.4,498.0ZM337.0,543.9 339.1,544.4 338.7,536.0 341.2,534.1 342.5,530.4 339.0,528.3 332.3,543.3 332.4,549.5 338.5,549.9 338.8,548.4ZM116.5,539.1 116.5,542.1 127.8,543.8 128.3,542.6 126.9,535.9 123.8,533.5 120.0,532.7 117.8,538.6ZM226.2,357.6 228.5,365.8 229.7,373.0 231.4,376.0 228.1,379.5 232.8,383.9 236.5,382.9 242.2,388.0 242.1,389.9 251.6,383.2 256.3,378.7 255.6,373.2 252.2,367.6 254.0,362.4 255.5,360.0 249.5,359.3 247.3,362.0 240.9,358.8 237.9,354.0 232.0,354.6 224.4,351.9 223.7,354.7ZM33.7,478.5 33.9,498.1 37.7,496.8 41.0,500.3 46.7,495.7 48.5,492.1 46.1,487.7 44.7,486.7 41.2,487.2 36.7,485.2ZM251.4,614.7 251.1,621.7 253.7,619.9 252.0,614.8 261.1,617.1 262.9,613.1 259.9,601.7 250.5,606.5ZM119.3,499.5 112.4,500.9 107.9,504.6 113.3,513.6 121.3,509.5 121.1,505.8ZM123.8,437.3 131.8,434.2 140.4,426.0 137.0,423.4 137.3,415.7 139.9,411.0 139.5,410.7 133.9,416.5 131.1,413.3 128.5,414.2 125.3,410.7 125.9,414.5 129.6,421.6 129.5,425.8 131.1,430.1 128.8,432.9ZM272.5,637.6 273.2,643.5 277.4,650.4 284.9,643.8 285.6,633.2 275.0,632.3 271.1,635.2ZM330.8,454.9 327.5,462.5 332.4,464.2 338.0,469.5 346.0,468.6 348.6,466.8 355.1,464.7 359.0,461.5 359.5,452.4 361.8,447.5 353.6,445.9 355.4,442.7 350.6,444.1 349.6,437.2 345.1,444.0 338.0,443.7 332.5,441.8 326.7,444.2ZM399.0,561.8 397.0,565.6 399.4,569.8 399.9,574.6 408.3,568.3 416.2,560.5 414.0,560.8 411.0,562.4 408.2,562.9 403.8,565.5 401.2,560.9 398.8,560.3ZM236.0,501.0 234.5,503.0 239.9,504.6 246.6,502.7 256.0,492.1 258.5,487.6 258.1,482.8 250.3,483.2 243.1,480.6 234.9,483.9 234.1,492.5 234.6,500.2ZM245.2,591.3 238.4,602.5 240.9,607.8 250.5,606.5 259.9,601.7 254.8,597.5 253.5,592.4 251.7,588.9 250.9,589.8ZM341.6,575.4 340.5,585.9 344.0,584.3 346.0,574.4 350.8,570.0 349.2,567.2 339.1,571.6ZM148.0,480.9 151.3,486.1 154.8,483.6 157.4,480.7 153.3,470.4 150.9,469.5 151.0,477.5ZM84.0,499.3 82.6,504.3 82.1,510.5 85.6,514.4 86.1,514.0 89.2,515.8 95.7,517.2 99.2,508.0 97.2,506.9 92.5,505.8 90.4,496.5 89.4,496.4ZM296.8,579.8 294.7,568.6 288.3,566.5 287.2,569.2 288.6,576.1ZM261.2,616.9 272.5,617.2 275.4,609.4 276.3,600.6 270.9,597.0 266.9,601.8ZM413.5,323.0 417.9,325.3 422.4,326.5 420.3,331.4 421.5,338.0 423.9,335.5 425.2,335.0 428.4,324.5 428.8,317.8 433.7,317.5 434.6,318.3 439.7,314.5 439.8,308.9 438.0,308.3 433.5,305.4 429.8,302.8 429.3,301.8 423.1,309.1 424.4,314.4 419.4,317.5 418.1,315.9 413.4,319.5 411.8,323.0ZM373.8,595.5 373.5,599.2 377.0,598.7 377.9,608.3 383.9,606.2 392.3,600.2 396.5,599.5 397.4,592.2 390.8,586.2 382.6,586.5 376.5,585.9 372.6,591.3ZM154.1,559.9 166.8,573.3 169.6,570.9 172.7,564.1 169.1,559.6 164.7,558.2 160.4,555.7ZM99.2,508.0 95.7,517.2 96.4,522.4 101.5,522.3 113.0,523.5 116.4,521.0 113.3,513.6 107.9,504.6ZM372.0,606.9 371.5,613.9 379.1,612.9 377.9,608.3 377.0,598.7 373.5,599.2 370.5,602.6ZM129.1,516.8 126.1,518.8 127.4,525.6 129.6,526.6 133.4,524.5 142.3,516.1 148.0,514.1 147.7,513.1 140.8,514.8 133.0,511.1ZM154.8,483.6 151.3,486.1 150.6,490.6 151.8,494.8 159.2,494.5 163.1,489.0ZM496.1,305.9 496.5,311.1 498.3,308.7 500.1,310.5 508.0,309.9 511.5,312.9 512.2,310.2 512.7,302.2 517.2,304.0 519.6,304.3 522.2,303.1 527.7,303.9 525.9,299.3 517.4,296.4 516.6,299.2 510.2,299.0 506.8,296.5 502.5,296.0 499.9,288.6 499.0,297.9ZM145.0,319.2 142.1,323.9 146.2,327.8 148.0,330.5 148.5,335.2 151.5,342.2 159.5,342.0 160.8,349.5 163.4,351.4 178.4,353.6 181.3,350.9 186.5,348.1 192.6,348.1 194.4,341.7 199.6,334.8 200.9,324.6 199.7,320.1 195.1,318.2 194.0,315.3 190.9,315.7 189.9,311.3 185.0,307.6 180.8,299.4 177.7,305.0 173.1,306.8 159.9,303.8 160.1,302.4 153.2,304.6 148.6,302.8 146.3,304.5ZM437.3,341.7 435.8,353.4 438.8,356.6 440.6,355.2 445.2,353.4 449.7,354.7 452.6,351.9 456.3,346.8 459.7,344.7 461.5,342.8 459.2,342.0 452.5,335.5 451.3,328.7 445.8,328.0 443.9,323.1 442.7,323.6 444.3,328.0 440.3,327.6 439.2,328.3 436.5,336.6ZM248.0,334.5 244.2,337.1 239.5,346.7 237.9,354.0 240.9,358.8 247.3,362.0 249.5,359.3 255.5,360.0 258.3,358.3 266.2,356.1 270.1,348.9 274.4,343.5 272.5,339.6 272.3,334.7 269.9,326.5 262.8,322.1 250.9,321.0 245.2,323.2ZM66.8,405.9 67.5,406.3 67.6,419.2 70.4,420.8 75.8,418.5 82.0,424.3 84.3,423.2 89.7,424.2 92.2,418.0 95.5,413.7 89.1,406.5 84.7,396.1 85.3,393.0 76.6,391.1ZM95.4,276.1 95.0,280.0 99.0,286.7 100.4,286.3 105.0,290.4 112.1,287.6 116.6,286.4 122.3,291.6 123.4,293.4 130.4,295.2 132.6,299.9 132.8,291.0 136.1,285.5 139.2,277.1 131.6,266.1 129.7,261.3 124.3,258.1 114.2,258.1 112.1,262.0 108.5,265.4 103.6,261.5 98.9,258.7 97.1,266.3 95.9,276.0ZM55.0,383.3 36.7,385.0 36.4,387.4 40.9,385.4 43.9,387.7 47.1,392.2 46.5,400.2 53.4,405.7 55.7,405.0 60.7,390.1 60.6,385.1 65.5,381.3 65.5,376.9 56.9,375.5ZM142.1,454.4 139.2,461.7 145.0,463.8 147.8,462.9 148.1,463.4 151.5,462.6 152.2,455.4ZM89.1,426.7 91.6,428.2 91.1,429.2 96.3,431.6 96.9,436.7 95.5,439.4 95.6,440.3 100.4,443.4 99.7,445.0 105.2,450.4 109.9,444.7 108.4,440.8 108.2,435.1 109.6,431.4 110.1,426.2 104.5,421.6 97.2,427.2ZM194.0,470.1 195.0,479.4 202.8,483.3 206.1,480.1 205.9,472.3 205.4,472.0 206.9,465.1 203.4,463.4 198.2,466.7 194.4,465.3ZM542.1,527.1 538.5,532.2 551.7,533.3 560.0,523.3 562.9,506.4 555.7,499.2 549.8,500.1 546.1,501.6 549.7,506.8 547.2,513.0 547.2,515.1ZM351.0,512.8 351.3,514.5 357.0,514.7 353.3,510.6 360.5,509.3 363.7,506.9 366.0,503.9 369.8,503.8 369.8,499.4 366.0,494.4 361.5,490.6 360.3,487.4 355.4,492.5 344.3,496.3 341.1,503.1 342.3,507.5 345.2,510.6ZM181.0,478.0 179.2,470.8 172.8,474.4 165.9,479.6 171.4,482.9 180.4,479.2ZM274.3,539.7 268.4,537.3 266.6,544.4 267.7,548.9 271.1,555.0 274.3,551.4ZM270.3,398.5 271.2,405.2 273.2,411.8 277.3,419.9 280.0,418.5 286.6,413.1 287.7,407.7 286.5,406.3 287.0,400.2 284.4,394.2 276.1,392.7 270.6,392.5 273.3,396.0ZM292.0,447.1 291.3,452.0 299.7,452.1 300.4,452.9 310.1,457.4 323.0,442.1 319.6,440.1 314.1,439.9 312.1,436.1 310.9,430.2 303.1,426.8 303.5,430.7 298.6,433.7 291.9,443.4ZM262.6,523.3 258.7,517.7 255.2,518.5 249.3,523.1 245.2,529.6 246.2,535.2 251.2,536.7 263.3,533.2 263.7,527.3ZM268.0,441.9 266.3,444.9 267.4,449.0 274.2,452.2 282.1,453.2 288.2,452.8 290.5,455.0 292.0,447.2 291.9,443.4 298.6,433.7 290.6,427.7 289.4,431.4 278.4,433.3 272.0,430.9 268.6,435.2ZM379.3,543.8 383.4,544.6 386.8,543.6 389.6,545.4 390.7,546.7 392.1,544.9 392.5,542.5 392.2,535.8 390.5,537.5 384.6,538.2 377.0,540.8ZM113.5,457.1 122.5,456.2 121.8,454.5 116.9,451.1 111.4,452.2 110.2,461.9 110.6,465.0 112.5,466.1 119.4,464.9 116.4,462.1ZM47.6,507.6 41.0,500.3 37.7,496.8 36.5,506.0 38.6,511.5 44.3,516.1 49.5,514.8 51.6,509.6ZM82.1,515.2 86.8,515.8 82.1,510.5 72.2,507.1 68.0,506.9 67.7,515.6 71.6,518.2 76.8,517.4ZM263.2,630.3 261.0,629.2 257.1,629.7 253.0,634.3 256.7,642.4 259.6,647.3 267.5,647.4 273.2,643.5 272.5,637.6 271.1,635.2 267.4,631.4 263.4,629.5ZM56.9,435.8 56.5,436.5 58.4,438.3 57.3,439.4 61.0,444.6 61.8,450.8 62.9,453.4 67.0,454.3 66.4,451.3 69.8,447.6 66.1,445.0 66.3,442.3 64.1,434.5 58.3,428.4 56.1,427.3ZM111.1,450.6 109.9,444.7 105.2,450.4 106.1,451.3 111.4,452.2 116.9,451.1 121.0,454.0 121.2,452.7 126.5,452.6 128.0,449.9 126.7,445.7 126.2,438.3 124.4,436.9 120.7,442.6 118.5,444.9ZM368.4,621.6 368.8,620.9 374.6,623.1 377.3,617.7 378.3,613.0 371.5,613.9 371.3,612.9 366.8,613.3 366.3,616.2 366.6,620.5ZM180.9,477.6 188.8,479.3 195.0,479.4 194.0,470.1 192.8,469.3 183.9,467.5 179.2,470.8ZM268.3,380.6 265.9,384.2 267.9,391.3 270.6,392.5 276.1,392.7 284.4,394.2 284.5,385.9 283.2,380.4 284.4,375.1 271.3,377.8ZM337.1,477.5 332.4,482.3 335.4,487.9 338.8,501.0 341.1,503.1 344.3,496.3 355.4,492.5 355.5,490.7 351.4,486.8 349.5,478.5 350.8,470.4 347.0,473.8 342.5,476.2ZM297.5,373.1 302.4,375.8 303.2,369.4 304.0,367.9 305.8,366.6 301.2,363.0 298.8,359.6 288.1,358.0 286.6,370.1 285.5,373.6ZM124.8,475.6 129.7,474.2 128.7,469.7 129.0,465.8 126.9,465.4 127.6,472.6 119.4,464.9 115.4,465.4 116.4,472.7 120.3,476.9 125.0,477.1ZM349.6,577.5 352.8,572.0 350.8,570.0 346.0,574.4 344.0,584.3 346.7,586.2 352.7,584.1 356.8,585.2 357.0,584.8 352.4,582.1ZM40.5,407.4 44.0,408.4 44.3,401.1 46.5,400.2 47.1,392.2 43.9,387.7 40.9,385.4 36.4,387.4 35.0,400.0 35.3,408.8ZM280.1,544.3 274.6,546.9 274.3,551.4 278.2,555.6 285.0,554.1 285.0,548.5ZM94.4,494.7 90.8,495.7 90.4,496.5 90.8,498.1 97.9,498.5 99.5,493.8 108.5,495.5 108.5,493.4 104.2,487.8 98.1,484.7 95.2,489.1ZM405.6,428.5 402.3,429.0 402.4,433.7 406.4,438.0 409.6,445.5 410.3,449.6 412.0,446.5 417.2,443.8 423.3,437.0 429.2,435.8 427.1,429.3 426.4,429.4 430.5,419.0 423.8,415.6 422.9,417.9 421.0,418.8 419.7,422.0 415.3,419.2 411.2,418.9 410.4,414.6 409.4,414.7 409.9,422.0 412.0,426.9 406.1,426.3ZM320.1,553.8 330.6,554.9 332.4,549.5 332.3,543.3 320.6,535.7 316.1,541.8 317.7,556.3ZM364.0,583.7 361.1,587.0 361.6,588.8 367.3,589.9 373.8,595.5 372.6,591.3 372.2,585.3 366.3,578.5 364.2,580.8ZM65.9,468.4 66.6,465.1 63.1,469.5 69.1,472.4 69.6,473.4 72.8,476.1 73.4,478.6 75.0,475.5 76.0,478.7 80.9,478.3 83.8,472.7 83.3,468.3 72.7,468.9ZM152.8,451.4 151.5,462.6 159.0,460.7 165.2,457.3 165.3,456.5 162.6,452.0 157.7,449.5 155.9,450.2 155.7,450.8ZM165.9,479.6 172.8,474.4 172.6,470.3 165.1,466.6 163.0,468.4 164.5,479.1ZM301.5,565.8 298.4,555.3 291.8,553.8 289.7,556.7 287.0,562.0 288.3,566.5 294.7,568.6ZM108.5,495.5 112.4,500.9 119.3,499.5 118.3,495.9 123.0,496.7 116.8,491.9 111.5,491.7 108.5,493.4ZM290.6,521.4 281.6,514.1 273.8,517.5 271.5,526.0 280.8,530.1 288.6,528.9 291.0,527.6ZM166.7,489.1 163.1,489.0 159.2,494.5 165.8,500.8 173.0,494.0 173.1,489.4 171.6,483.9ZM323.7,583.7 318.5,585.8 318.1,590.0 326.3,595.9 331.9,594.8 329.2,587.3ZM137.3,415.7 137.0,423.4 145.5,430.1 147.8,425.3 146.5,423.9 151.9,419.1 149.9,415.0 155.8,412.8 150.8,409.2 152.0,406.9 144.5,404.3 140.7,409.4ZM276.8,626.2 275.0,632.3 285.6,633.2 290.4,629.1 287.8,625.0 286.4,619.1 280.0,622.3ZM183.9,467.2 189.2,464.0 186.5,456.7 180.8,456.3 177.6,459.5 177.2,463.3ZM266.6,544.4 257.4,541.9 255.3,545.6 258.8,552.5 267.7,548.9ZM85.4,468.0 96.1,470.8 98.2,469.0 96.8,467.9 96.2,464.0 94.4,460.8 91.9,458.3 89.5,463.1 86.6,463.0 83.2,467.7 83.8,472.7ZM316.5,559.8 316.5,557.3 304.9,554.6 304.1,563.9 309.1,565.3 317.4,563.0ZM318.6,562.7 314.1,572.9 315.7,575.7 319.0,574.4 325.9,573.8 325.2,569.8 322.4,568.3 321.6,565.2 319.6,565.0ZM121.2,506.7 121.3,509.5 126.7,510.2 132.7,508.2 133.3,501.2 131.1,497.7 127.6,502.9ZM84.7,383.0 82.6,385.7 85.1,386.5 85.3,393.0 84.7,396.1 89.1,406.5 95.5,413.7 100.6,407.1 102.9,402.0 113.8,396.5 113.9,393.5 113.1,390.8 113.5,389.7 107.6,386.7 101.2,376.5 96.1,377.8 95.6,376.8 94.3,378.5 86.1,374.6 83.2,377.7ZM110.6,465.0 102.7,462.9 96.8,467.9 101.8,472.7 108.3,472.0 112.5,466.1ZM200.0,586.3 195.2,586.5 192.2,593.7 193.6,604.1 211.3,611.1 217.1,607.0 223.0,604.5 224.0,601.8 223.3,599.2 225.1,596.4 221.0,593.6 216.7,584.4 211.3,582.0 209.3,581.7 201.5,584.4ZM426.5,429.0 427.1,429.3 429.2,435.8 435.5,439.3 436.7,443.2 440.6,443.5 444.8,444.7 448.8,441.9 451.4,440.9 455.5,433.9 462.1,431.3 458.9,426.3 455.7,424.6 452.4,427.8 452.8,429.0 446.9,424.4 443.1,423.5 439.4,423.4 439.1,424.2 430.4,419.2ZM390.8,586.2 397.4,592.2 396.5,599.5 397.9,601.0 401.7,590.8 397.5,584.2 398.2,577.3ZM369.8,499.4 369.8,503.7 372.1,503.1 372.0,490.6 375.0,485.7 379.7,485.6 381.0,483.9 379.7,483.7 373.8,480.6 372.0,484.3 360.3,487.4 361.5,490.6 366.0,494.4ZM116.2,527.6 117.4,531.6 120.3,531.9 120.0,532.7 123.8,533.5 127.4,525.6 126.1,518.8 123.6,518.3 120.9,520.9ZM247.1,556.0 254.4,557.6 258.6,555.8 258.8,552.5 255.3,545.6 250.0,547.5 247.5,547.3 249.1,549.2 252.8,551.9ZM86.1,514.0 83.7,526.5 86.7,527.5 89.3,527.6 92.6,529.5 96.4,529.4 94.8,525.0 96.4,522.4 95.7,517.2 89.2,515.8ZM68.2,454.6 72.1,458.1 77.6,455.4 80.9,454.7 84.3,449.1 84.9,445.5 86.9,443.7 86.1,441.4 69.8,447.6 66.4,451.3 67.0,454.3ZM35.5,416.7 31.7,424.2 32.0,430.7 42.4,424.9 43.5,423.3 45.3,418.1 41.7,412.7 44.0,408.4 40.5,407.4 35.3,408.8ZM145.6,488.3 150.6,490.6 151.3,486.1 148.0,480.9 146.7,482.4 146.4,480.2 143.4,478.9 141.4,488.2 141.6,492.1ZM181.0,477.6 183.3,484.4 187.4,491.6 194.9,492.4 196.9,494.5 198.9,493.0 201.1,488.4 193.4,487.9 201.5,484.7 202.8,483.3 195.0,479.4 188.8,479.3ZM126.7,510.2 121.3,509.5 118.6,510.5 123.6,518.3 126.1,518.8 129.1,516.8 133.0,511.1 132.7,508.2ZM290.9,533.5 290.0,541.0 298.9,539.5 299.9,533.5 298.7,530.2 295.8,528.0 291.0,527.6 288.6,528.9ZM132.3,495.2 131.1,497.7 133.3,501.2 140.7,501.7 141.3,497.3 141.2,492.5 136.2,493.4 132.5,493.1ZM220.2,495.5 218.9,496.9 219.4,498.0 223.4,498.5 226.7,496.9 234.6,500.2 234.1,492.5 227.9,490.6 226.4,483.0ZM298.3,409.3 303.2,412.3 315.1,425.4 313.4,419.6 316.0,414.8 314.2,412.2 313.6,402.2 313.9,397.3 306.3,389.6 303.2,390.0 301.7,393.6 294.8,395.8 287.0,400.2 286.5,406.3 287.7,407.7 294.2,411.1ZM118.6,317.8 110.4,323.1 104.6,326.0 102.5,328.0 108.7,332.8 120.2,334.8 122.1,337.7 125.8,340.8 125.3,344.5 127.5,349.6 134.8,351.6 135.1,352.5 145.8,346.8 150.2,342.7 151.5,342.2 148.5,335.2 148.0,330.5 146.2,327.8 142.1,323.9 145.0,319.2 146.3,304.5 137.6,300.1 132.9,301.2 131.5,304.6 127.0,308.0 124.7,308.7ZM304.1,590.8 307.6,590.8 317.5,584.8 311.6,581.6 308.9,580.8 305.1,583.9ZM160.4,555.7 164.7,558.2 169.1,559.6 172.7,564.1 176.8,563.5 180.8,554.6 179.5,550.5 178.6,542.4 175.7,545.6 169.6,545.0 162.4,541.8 159.1,543.3 158.3,549.1ZM138.0,439.7 145.5,430.1 140.4,426.0 131.8,434.2 133.2,439.5ZM97.9,498.5 90.8,498.1 92.5,505.8 97.2,506.9 99.2,508.0 107.9,504.6 112.4,500.9 108.5,495.5 99.5,493.8ZM261.3,569.4 255.3,570.1 257.8,578.1 266.2,576.0 270.1,569.8ZM272.7,295.8 266.6,309.5 265.1,311.3 264.8,315.0 262.8,322.1 269.9,326.5 276.9,329.6 278.1,327.9 282.5,326.3 279.9,318.0 282.7,316.8 286.4,312.1 287.1,310.1 281.1,304.9 277.3,300.8 276.3,298.9ZM54.1,508.9 54.4,517.8 57.4,516.1 63.3,516.4 67.7,515.9 68.0,506.9 62.7,504.5ZM171.2,516.2 167.2,514.1 166.7,518.3 169.9,526.2 173.4,528.7 174.0,529.9 176.2,529.0 178.6,522.2 179.6,515.8ZM337.9,521.0 333.6,520.7 339.0,528.3 342.6,530.4 345.7,525.3 348.7,523.3 353.7,524.7 351.0,512.8 348.7,513.8 343.1,518.4ZM128.4,462.7 129.0,465.8 128.7,469.7 129.7,474.2 134.7,470.1 134.2,472.4 136.9,470.1 136.2,461.7 130.4,460.4 132.0,465.1ZM58.3,370.0 56.9,375.5 65.5,376.9 68.1,373.0 66.2,367.2 70.1,366.8 69.7,359.8 66.6,355.4 68.4,350.3 65.4,350.1 64.2,350.8 57.5,361.7ZM316.3,514.9 317.3,514.6 320.0,518.7 325.4,520.9 331.1,521.0 333.5,515.8 331.6,509.7 331.4,505.7 324.3,500.0 317.0,502.4 317.4,507.2ZM93.5,457.2 92.1,458.5 94.4,460.8 98.2,455.5 102.9,451.4 106.1,451.3 99.7,445.0 100.4,443.4 95.6,440.3 96.7,451.3ZM332.7,577.4 340.8,583.7 341.6,575.4 339.1,571.6 333.8,569.7 333.9,571.6Z"/>
<path id="g8" d="M79.1,535.6 71.1,532.8 69.0,532.6 67.5,535.3 69.5,539.7 75.4,538.0ZM450.8,398.3 453.7,397.5 451.1,395.3 450.3,392.3 448.7,394.3 449.0,397.1ZM270.3,569.5 266.2,576.0 269.0,577.0 276.1,577.4 278.2,572.8 277.4,571.6ZM318.0,557.2 322.6,557.1 320.1,553.8 316.5,557.3 316.5,559.8 317.4,563.0 318.6,562.7 319.6,565.0 321.6,565.2 321.1,563.2ZM32.3,534.0 37.3,528.8 34.4,524.2ZM69.5,539.7 68.1,541.9 76.2,541.3 75.4,538.0ZM167.2,447.5 166.3,446.6 165.7,449.5 173.9,449.4 177.0,447.6 175.8,444.7 171.9,444.3ZM38.6,511.5 36.5,506.0 37.7,496.8 33.9,498.1 31.7,510.0 32.9,514.2ZM58.7,542.7 68.1,541.9 69.5,539.7 67.5,535.3 62.8,537.6ZM151.8,500.9 155.7,501.0 160.5,497.7 163.6,503.6 165.8,500.8 159.2,494.5 151.8,494.8ZM278.0,664.0 278.1,664.4 292.9,662.7 292.6,655.3 284.0,657.8 281.4,662.6ZM366.1,544.4 365.8,546.4 367.7,546.2 372.8,548.3 369.1,553.4 374.2,551.0 373.5,545.4ZM145.4,474.3 143.0,476.0 143.4,478.9 146.4,480.2ZM318.1,584.4 307.6,590.8 310.5,592.2 315.8,596.7 318.1,590.0 318.5,585.8ZM316.5,626.3 323.5,625.0 323.8,617.0 319.4,616.7 318.6,622.5 316.5,625.0ZM284.5,543.2 290.0,541.0 289.8,539.7 282.6,538.8 280.1,544.3 286.2,549.5ZM321.4,657.8 333.1,656.0 333.2,654.9 330.0,651.6 323.9,650.4 318.6,654.6ZM180.9,448.3 188.2,455.3 193.0,452.5 193.2,449.1 192.7,447.4ZM294.7,568.6 297.2,582.4 299.1,581.5 304.3,574.7 297.2,567.8ZM257.8,578.1 260.1,580.2 267.1,587.5 269.2,583.7 269.0,577.0 266.2,576.0ZM285.7,578.0 277.4,575.2 276.1,577.4 277.9,581.3 282.0,585.2 285.7,584.3ZM399.4,330.7 400.1,338.4 402.0,344.7 400.5,345.7 404.0,346.8 406.5,344.6 403.5,339.2 403.2,334.2 401.7,329.4 403.3,323.2 401.0,326.1 401.1,327.8ZM377.9,363.7 381.2,364.6 390.6,365.4 394.0,364.5 388.2,361.9ZM33.4,532.8 35.4,537.0 41.4,533.7 41.1,528.7 37.3,528.8ZM329.6,603.9 330.8,602.9 326.3,596.0 318.1,600.3 321.2,603.1ZM157.0,446.5 155.9,450.2 157.7,449.5 162.6,452.0 165.7,449.5 166.3,446.6 162.8,444.2 159.1,443.3 159.0,442.4 156.9,443.0ZM112.5,466.1 108.3,472.0 110.7,475.2 117.1,474.2 116.4,472.7 115.4,465.4ZM295.0,600.6 289.7,595.7 287.6,596.7 287.1,603.2 289.5,606.5 292.0,608.1 293.9,605.8ZM96.1,470.8 93.2,480.2 98.2,482.4 101.1,478.9 101.8,472.7 98.2,469.0ZM323.7,583.7 329.2,587.3 329.8,584.3 320.0,575.8 317.9,580.1 318.5,585.8ZM269.3,560.2 271.7,562.2 276.0,560.2 278.2,555.6 274.3,551.4 271.1,555.0ZM313.4,366.0 319.1,366.0 326.4,367.9 331.4,363.9 328.4,362.5 323.6,364.7 319.9,363.0ZM51.3,520.0 54.4,517.8 54.1,508.9 51.6,509.6 49.5,514.8ZM111.8,525.4 113.3,525.3 114.1,532.7 115.3,531.3 117.2,531.1 116.2,527.6 120.9,520.9 116.4,521.0 113.0,523.5ZM302.1,551.2 298.4,555.3 301.5,565.8 304.1,563.9 304.9,554.6 304.9,552.8 303.7,550.8ZM82.5,534.9 80.6,534.2 79.4,535.2 83.6,540.9 87.6,540.7 88.1,538.7 85.1,534.2ZM177.2,463.3 177.3,459.2 172.6,470.3 172.8,474.4 184.1,467.3ZM88.1,538.7 87.6,540.7 96.5,540.2 96.4,538.0 95.4,537.6ZM113.5,482.7 106.2,480.7 104.2,487.8 108.7,493.7 109.8,489.4ZM98.2,482.4 98.1,484.7 104.2,487.8 106.2,480.7 101.1,478.9ZM298.0,617.7 300.8,616.6 302.3,612.6 300.3,608.0 293.9,605.8 291.5,608.6ZM304.6,573.8 308.9,580.8 311.6,581.6 315.7,575.7 314.1,572.9 306.2,573.3ZM304.1,574.5 306.2,573.3 309.1,565.3 304.1,563.9 301.5,565.8 297.2,567.8ZM120.3,476.9 119.6,484.8 125.7,486.5 125.8,482.8 125.0,477.1ZM71.9,518.2 75.1,524.3 70.4,524.4 70.2,527.4 76.6,526.5 76.8,517.4ZM189.2,464.0 192.4,463.5 190.7,462.0 193.1,452.4 186.5,456.7ZM69.0,532.6 71.1,532.8 73.8,526.9 65.2,527.8 64.8,528.9ZM351.3,514.5 353.7,524.7 356.7,525.5 359.9,523.0 362.5,522.4 359.7,519.1 357.0,514.7ZM314.9,529.2 311.9,536.1 314.3,541.7 316.1,541.8 320.6,535.7 315.3,535.4ZM108.2,480.9 113.9,482.8 117.1,474.2 110.7,475.2ZM298.1,590.1 304.1,589.4 305.1,583.9 299.1,581.5 297.2,582.4 295.5,587.3ZM116.8,491.9 123.0,496.7 125.3,496.4 125.7,486.5 119.6,484.8ZM75.4,538.0 76.2,541.3 83.6,540.9 79.5,535.3ZM41.5,534.8 44.4,529.4 43.2,527.9 41.1,528.7ZM140.4,469.9 136.9,470.1 134.2,472.4 133.5,477.2 137.6,478.1 144.6,474.9ZM38.6,511.5 32.9,514.2 34.8,521.1 41.4,521.0 44.3,516.1ZM113.3,513.6 116.4,521.0 120.9,520.9 123.6,518.3 118.6,510.5ZM306.2,609.0 314.4,611.9 315.9,607.4 312.7,601.5 308.8,600.7 307.5,601.2ZM289.3,541.1 294.0,543.1 295.4,546.8 299.3,547.6 301.0,544.3 298.5,541.6 298.9,539.5ZM43.6,525.0 43.2,527.9 44.4,529.4 45.5,527.2 45.9,525.0ZM76.0,478.7 77.0,482.1 79.6,485.0 82.6,484.4 83.5,482.9 80.9,478.3ZM344.0,584.3 336.1,587.2 335.9,590.2 341.7,594.4 346.7,586.2ZM126.9,535.9 128.3,542.6 127.8,543.8 134.4,546.0 133.5,540.2ZM135.5,443.0 138.0,439.7 133.2,439.5 134.9,448.8 138.9,448.7 142.2,445.6 141.1,443.7ZM181.7,432.0 179.7,432.6 179.1,438.6 183.4,434.2ZM73.8,526.9 71.1,532.8 79.1,535.6 80.6,534.2 77.3,533.2 76.2,526.6ZM154.6,435.2 154.6,438.0 157.1,442.6 159.0,442.4 158.5,439.0 156.7,435.6 156.7,434.2 155.4,435.3ZM289.6,595.6 295.0,600.6 301.8,600.4 302.9,598.8 296.6,591.5ZM113.7,483.4 119.2,486.0 120.3,476.9 117.3,473.8ZM96.4,529.4 99.0,527.8 104.5,526.2 111.8,525.4 113.0,523.5 101.5,522.3 96.4,522.4 94.8,525.0ZM138.9,448.7 130.7,449.3 136.3,454.3 138.6,463.2 142.1,454.4ZM321.2,603.1 323.5,608.9 331.0,611.8 331.7,608.0 329.6,603.9ZM313.8,613.7 318.6,608.4 319.3,612.8 323.5,608.9 321.1,602.9 315.9,607.4ZM31.4,539.5 35.5,537.3 32.8,531.5 31.7,536.7ZM305.3,623.1 313.1,628.1 314.4,627.6 311.3,622.7 308.8,620.2ZM288.7,586.2 285.7,584.3 282.0,585.2 283.4,588.8 285.0,596.5 287.6,596.7 289.8,595.7ZM41.4,521.0 43.6,525.0 45.9,525.0 46.1,523.7 46.8,523.7 51.3,520.0 49.5,514.8 44.3,516.1ZM267.3,536.8 274.3,539.7 274.6,546.9 280.1,544.3 282.6,538.8 279.8,537.3 274.8,535.9ZM63.1,537.5 67.5,535.3 69.0,532.6 64.8,528.9ZM302.3,612.6 301.9,613.6 307.9,617.9 314.4,611.8 306.2,609.0ZM313.1,659.2 321.4,657.8 318.6,654.6 314.8,653.3ZM70.2,527.4 70.4,524.4 66.2,524.5 65.2,527.8ZM269.2,583.7 271.3,584.9 277.9,581.3 276.1,577.4 269.0,577.0ZM89.1,479.8 95.2,489.1 98.1,484.7 98.2,482.4 93.2,480.2ZM329.8,584.3 332.9,577.3 325.9,573.8 319.0,574.4 320.0,575.8ZM366.1,544.4 373.8,545.4 374.9,543.9 372.4,540.0 364.2,541.3ZM277.4,571.6 276.8,560.8 276.0,560.2 271.7,562.2 270.4,569.5ZM55.8,538.6 56.4,541.7 59.1,542.1 62.8,537.6 61.9,536.7 56.7,538.7ZM283.4,588.8 282.0,585.2 277.9,581.3 271.3,584.9 275.8,591.3ZM306.2,573.3 314.1,572.9 318.6,562.7 309.1,565.3ZM312.7,601.5 317.3,599.1 315.8,596.7 310.5,592.2 308.8,600.7ZM84.8,533.8 88.1,538.7 95.4,537.6 89.0,534.8ZM326.4,596.0 318.1,590.0 315.8,596.7 318.1,600.3ZM302.9,598.8 304.1,589.4 298.1,590.1 296.6,591.5ZM291.0,611.1 286.4,619.1 287.2,621.8 291.7,619.8 297.6,619.9 298.0,617.7 291.5,608.6ZM35.0,521.1 34.4,524.2 37.3,528.8 41.1,528.7 43.2,527.9 43.6,525.0 41.4,521.0ZM285.7,578.0 288.6,576.1 287.2,569.2 278.2,572.8 277.4,575.2ZM155.2,461.3 158.4,467.5 163.0,468.4 165.1,466.6 165.2,457.3 159.0,460.7ZM304.7,574.0 299.1,581.5 305.1,583.9 308.9,580.8ZM183.5,467.4 192.8,469.3 194.0,470.1 194.4,465.3 192.4,463.5 189.2,464.0Z"/>
<path id="g9" d="M455.8,387.6 455.8,394.3 457.3,396.8 460.6,400.2 468.8,401.7 471.6,400.6 475.9,406.8 480.0,407.2 480.9,405.9 486.6,405.1 488.9,406.0 490.4,403.6 493.2,403.5 493.9,398.0 488.6,395.8 486.9,388.6 484.2,381.8 480.3,375.9 476.7,375.4 471.0,376.4 466.3,373.9 465.7,373.1 463.5,374.8 460.3,378.5 457.2,374.3 456.4,376.8 457.6,380.9 457.2,385.9ZM476.7,375.4 480.3,375.9 484.1,381.8 486.9,388.6 488.6,395.8 493.9,398.0 494.5,392.8 497.2,394.1 498.2,388.5 500.7,380.3 504.3,362.3 497.9,357.6 493.6,356.1 492.8,358.0 496.0,361.7 493.7,366.4 490.0,367.5 488.7,367.0 486.5,364.5 480.8,363.4 479.2,365.4 475.5,365.4 472.4,366.9 465.7,373.1 466.3,373.9 471.0,376.4ZM379.9,323.6 380.5,327.9 380.1,331.5 380.8,334.2 380.6,336.2 381.3,337.1 395.3,335.8 397.5,331.6 398.2,325.9 399.1,323.4 398.3,316.9 398.6,313.4 401.8,306.2 395.4,306.7 393.0,308.1 389.1,312.7 381.9,316.4 380.4,319.4ZM72.6,468.9 82.7,468.3 85.2,465.4 86.6,463.0 89.5,463.1 91.6,459.1 93.5,457.2 96.7,451.3 95.5,439.4 96.9,436.7 96.3,431.6 87.1,427.3 85.1,431.2 85.5,436.6 87.3,443.4 84.9,445.5 84.3,449.1 82.0,452.1 80.9,454.7 77.6,455.4 72.3,458.0 73.1,459.0 69.3,459.9 67.3,462.1 65.9,468.4ZM57.4,484.5 66.8,494.3 72.6,496.3 84.3,499.2 90.1,495.9 94.4,494.7 95.2,489.1 88.4,478.8 84.1,482.0 82.6,484.4 79.6,485.0 77.0,482.1 75.0,475.5 73.4,478.6 74.2,481.8 69.9,488.7 63.6,485.1ZM46.8,523.7 54.2,523.7 57.1,524.2 67.2,521.3 66.2,524.5 75.1,524.3 72.1,518.5 67.8,515.9 63.3,516.4 57.4,516.1 53.3,518.4ZM116.4,462.1 127.6,472.6 126.8,464.6 126.1,461.3 125.2,460.7 122.5,456.2 118.8,456.3 113.5,457.1ZM193.2,449.1 193.0,453.1 190.7,462.0 194.5,465.3 198.2,466.7 205.0,462.4 206.4,458.9 205.3,449.0 208.2,444.1 202.3,443.9 199.0,446.0 198.7,445.7 192.7,447.4ZM299.9,533.5 298.5,541.6 301.0,544.3 302.2,546.6 302.8,549.4 305.3,553.4 309.9,551.2 315.4,547.0 314.4,542.1 311.9,536.1 314.3,530.4 310.1,528.7 306.1,528.1 304.8,528.6 303.6,528.0 298.3,529.1Z"/>
<path id="g10" d="M422.4,326.5 417.9,325.3 418.6,325.7 420.3,331.4ZM397.2,334.7 401.1,327.8 401.0,326.1 403.0,323.5 401.0,321.5 401.3,318.6 400.8,313.7 401.6,310.5 400.6,309.0 398.6,313.4 398.3,316.9 399.1,323.4 398.2,325.9 397.5,331.6 395.4,335.7Z"/>
<path id="g11" d="M338.4,551.8 338.2,557.5 341.6,560.4 345.1,562.5 350.4,564.1 348.6,563.3 353.9,557.3 356.4,555.9 359.8,555.2 365.0,553.3 367.5,554.0 369.5,552.9 372.8,548.3 367.7,546.2 363.5,546.7 362.0,547.6 360.4,547.6 356.4,546.0 356.3,546.5 351.9,547.6 350.0,552.2 350.6,557.1 345.7,557.0 338.5,555.1Z"/>
<path id="g12" d="M356.7,568.9 362.6,566.3 364.0,564.7 367.8,564.2 367.2,557.9 369.6,554.6 365.0,553.3 359.8,555.2 356.4,555.9 353.9,557.3 348.6,563.3 354.4,565.9Z"/>
<path id="g13" d="M300.7,491.9 301.8,489.3 306.7,487.1 312.4,485.4 314.5,479.4 313.4,471.3 304.3,466.8 303.1,469.7 291.5,471.7 295.2,484.2ZM152.5,535.4 153.1,529.8 148.5,527.5 141.7,543.1 141.8,544.4 147.6,544.6 153.4,542.6 158.8,544.4 159.1,543.3 155.5,534.1ZM190.2,240.8 192.3,244.8 189.2,246.7 187.4,260.5 188.6,268.9 193.2,270.6 191.5,275.1 197.1,275.5 201.8,280.5 209.4,275.7 216.7,274.7 224.5,269.9 220.0,266.7 223.6,254.6 222.3,251.0 218.6,246.1 217.4,243.6 213.6,245.0 208.4,243.5 202.7,243.5ZM321.9,309.0 318.5,308.6 317.4,310.8 329.0,313.7 333.3,305.7 338.3,298.7 339.3,296.4 336.4,296.0 332.4,296.5 328.9,298.6 323.7,300.4 329.0,302.3 324.1,306.3ZM184.9,113.8 183.3,114.8 183.0,116.6 189.4,122.7 192.4,123.4 196.9,123.0 198.4,118.3 201.7,112.2 200.3,106.7 195.5,103.8 189.4,106.9ZM368.7,303.3 367.4,305.7 368.2,310.7 369.5,314.4 374.4,320.0 380.6,328.7 379.9,323.6 380.4,319.4 381.9,316.4 389.1,312.7 392.3,309.0 391.9,308.5 392.3,301.8 387.0,297.4 383.1,291.6 378.9,288.9 370.4,294.5ZM118.1,248.4 115.4,255.1 120.4,258.0 124.3,258.1 129.7,261.3 131.6,266.1 136.0,272.1 141.1,267.7 140.1,261.0 141.9,253.5 147.3,247.9 147.3,244.2 144.5,239.8 141.9,240.0 144.9,234.6 145.9,234.4 141.6,227.4 137.6,227.4 133.9,229.2 131.3,228.0 124.4,231.2 121.0,235.7 116.2,238.7ZM268.2,459.3 267.7,467.2 271.5,469.8 269.8,474.1 275.8,473.9 287.2,475.3 289.4,472.7 289.4,468.2 285.2,464.2 290.5,455.0 288.2,452.8 282.1,453.2 274.3,452.2 267.4,449.0 266.3,454.3ZM185.2,169.0 182.8,167.8 182.5,173.4 185.3,181.7 188.3,188.4 191.5,190.3 194.0,193.1 204.0,183.7 203.8,180.2 207.9,178.1 205.0,175.5 202.7,172.1 204.1,167.9 200.2,162.6 193.0,164.1ZM179.6,124.2 181.6,134.9 187.0,138.4 190.3,132.3 192.4,123.4 189.4,122.7 183.0,116.6 181.5,122.3ZM167.4,510.8 167.2,514.1 171.2,516.2 178.5,516.1 181.5,515.1 179.6,498.7 180.4,494.0 173.0,494.0 163.6,503.6ZM525.1,295.1 518.0,296.6 525.9,299.3 528.2,305.1 530.2,306.8 531.6,306.0 530.4,302.5 534.0,300.3 541.4,302.4 544.9,301.2 547.1,297.3 549.4,295.8 548.7,291.7 540.1,285.7 535.1,284.6ZM327.6,325.0 329.3,324.1 337.4,325.5 340.1,323.1 346.9,320.6 351.6,319.8 354.4,317.5 353.0,316.5 352.5,312.8 350.6,311.1 347.6,310.2 345.5,304.9 344.8,298.1 340.9,296.4 339.3,296.4 338.3,298.7 333.3,305.7 329.0,313.7 329.5,319.1ZM125.8,202.8 130.7,206.5 136.6,208.3 135.4,206.6 136.1,204.6 139.5,200.6 138.7,195.4 139.2,185.2 133.2,185.6 131.5,188.2 126.1,188.6 119.8,191.5 122.4,203.3ZM365.7,253.4 369.0,258.1 370.2,257.7 377.0,259.1 380.5,263.6 379.4,268.1 385.4,267.6 380.6,260.2 379.5,247.9 377.1,245.0 368.4,249.2ZM184.0,103.3 181.1,103.3 181.8,106.5 184.9,113.8 189.4,106.9 195.5,103.8 196.6,98.4 198.7,95.8 186.7,100.0ZM187.4,491.6 180.4,494.0 179.6,498.7 181.1,512.6 191.0,511.8 192.0,511.1 193.8,508.1 201.0,507.6 199.3,504.1 196.9,494.5 194.9,492.4ZM198.9,493.0 196.9,494.5 199.3,504.1 201.0,507.6 207.6,502.2 209.2,499.8 209.3,497.7 210.6,493.9 211.0,487.6 205.8,488.8 201.1,488.4ZM218.7,559.3 219.8,569.2 222.4,567.9 231.5,571.9 239.6,569.5 237.1,566.9 240.3,560.2 238.2,560.3 238.7,557.1 234.6,553.0 227.4,541.2 224.2,548.6 223.6,553.7 216.1,553.8ZM354.5,610.1 358.2,618.9 366.3,616.2 366.8,613.3 364.2,610.3 358.6,607.8ZM361.1,602.3 355.2,596.2 350.3,594.7 348.9,598.6 352.2,606.2 354.9,609.8 358.6,607.8ZM379.6,429.3 382.5,437.7 382.7,441.0 395.2,435.3 396.7,435.8 402.4,433.7 402.3,429.0 405.6,428.5 406.1,426.4 399.7,424.3 395.7,422.0 385.5,418.4 383.6,420.0 382.0,420.3 379.7,423.2 380.9,424.9ZM297.4,157.6 291.1,160.1 298.4,170.1 302.9,166.6 308.5,168.9 308.9,165.0 307.5,163.0 309.6,158.0 313.5,162.8 315.4,161.9 314.7,159.3 305.6,151.0 299.5,150.2ZM338.4,234.5 332.6,240.2 334.7,245.5 342.7,245.9 346.6,241.8 343.6,239.8ZM198.1,232.8 192.0,235.9 190.4,240.9 202.7,243.5 208.4,243.5 213.6,245.0 217.4,243.6 218.7,239.4 221.4,235.3 220.3,226.8 221.9,222.0 215.3,222.4 207.9,221.1 206.3,221.6 203.6,223.8 202.8,223.9 201.5,229.0ZM141.1,267.7 136.0,272.1 139.2,277.1 147.1,277.9 148.4,274.0 153.3,266.3 157.4,266.7 162.4,261.8 165.9,261.6 174.4,264.3 170.6,257.0 168.6,251.7 169.0,246.4 167.8,241.1 146.9,238.0 144.5,239.8 147.3,244.2 147.3,247.9 141.9,253.5 140.1,261.0ZM355.4,621.4 358.2,618.9 354.5,610.1 351.7,609.7 345.4,616.1ZM289.4,468.2 289.4,472.7 291.6,471.7 303.1,469.7 304.3,466.8 313.4,471.3 313.3,461.6 310.1,457.4 300.4,453.0 299.7,452.1 291.3,452.0 290.5,455.0 285.2,464.2Z"/>
<path id="g14" d="M395.5,201.6 393.0,200.8 388.5,205.1 391.9,209.1 393.7,210.3ZM302.6,633.1 304.9,635.6 313.1,628.1 305.4,623.2 302.0,628.9ZM387.0,218.1 394.2,213.2 393.7,210.3 391.9,209.1 383.6,211.4ZM352.1,192.5 352.5,194.6 362.7,189.8 360.0,184.7 359.2,185.5 352.9,186.2ZM153.1,529.7 153.3,527.6 151.4,523.4 148.1,523.9 144.2,526.5 148.5,527.5ZM331.5,237.0 332.6,240.2 338.4,234.5 338.3,232.9 333.0,228.2 329.4,234.7 328.1,236.0ZM359.3,627.4 366.6,620.5 366.3,616.2 358.2,618.9 355.4,621.4 356.4,626.1ZM381.4,208.2 381.9,212.0 391.9,209.1 388.5,205.1 382.5,205.2ZM353.2,194.3 355.4,197.7 362.5,199.5 362.7,189.8ZM338.3,232.9 338.4,234.5 343.6,239.8 347.3,237.0 346.0,233.6 345.0,228.8 345.2,227.1Z"/>
<path id="g15" d="M276.3,600.6 275.4,609.4 284.6,605.4 289.5,606.5 287.1,603.2 287.6,596.7 285.0,596.5ZM379.7,450.6 373.2,461.6 375.1,466.2 379.8,467.7 380.3,467.0 385.0,469.7 392.1,466.9 392.0,465.7 389.9,462.3 393.0,460.5 397.8,460.6 404.1,461.8 404.0,466.0 405.7,468.8 412.8,474.0 411.1,465.7 408.9,459.5 409.6,457.3 406.6,455.6 407.0,454.5 410.3,455.5 410.3,449.6 409.6,445.5 406.4,438.0 402.4,433.7 396.7,435.8 395.3,435.3 382.7,441.0ZM187.1,290.4 183.0,295.5 180.8,299.4 185.0,307.6 189.9,311.3 190.9,315.7 194.0,315.3 195.1,318.2 204.4,321.4 209.2,319.8 210.4,318.9 213.4,314.8 215.1,309.7 223.9,308.4 226.3,300.9 230.4,296.8 232.6,289.6 231.7,285.5 233.8,282.2 232.5,274.2 224.5,269.9 216.7,274.7 209.4,275.7 201.8,280.5 197.1,275.5 191.5,275.1 189.1,277.3 189.4,282.2 187.4,285.9ZM366.8,396.5 370.8,402.2 368.2,411.3 369.1,412.6 381.0,406.7 384.4,401.2 389.2,400.1 394.0,395.1 396.7,386.6 390.8,387.0 380.5,389.3 381.1,390.1 376.9,391.6 370.7,390.4 364.4,394.1ZM304.0,367.9 303.2,369.4 302.4,375.8 303.0,384.1 306.3,389.6 311.9,395.0 316.5,393.1 314.9,384.9 322.2,379.8 323.8,377.5 325.6,373.4 326.4,367.9 319.1,366.0 306.7,365.9ZM416.5,484.5 413.0,491.7 412.9,495.1 418.2,497.5 421.6,499.9 431.9,501.3 426.8,505.5 427.0,508.0 438.5,507.0 444.3,508.2 445.6,507.3 450.5,507.4 452.0,503.4 450.6,501.6 449.9,502.2 447.7,499.8 443.7,498.2 439.4,499.9 433.7,499.6 430.0,497.8 426.2,496.9 421.2,497.2 422.4,493.0 420.5,487.7 421.2,483.6 424.7,481.0 425.4,479.5 421.3,477.5 418.3,479.9 417.0,479.5ZM507.6,485.0 513.8,483.2 519.3,486.3 521.9,486.8 522.4,489.0 529.0,492.2 537.8,495.5 544.8,494.5 549.5,480.6 558.6,477.1 560.3,473.7 561.2,468.8 557.9,457.4 557.6,452.4 551.7,444.3 550.6,442.1 549.7,437.1 547.1,443.4 539.4,446.0 533.3,450.5 529.7,449.5 526.7,454.0 524.0,454.7 520.2,460.1 519.6,460.0 517.8,464.5 515.3,468.5 510.6,469.2 508.9,471.4 505.9,472.7 503.8,483.9ZM76.8,517.4 76.6,526.5 83.7,526.4 85.8,515.7 82.1,515.2ZM408.9,459.5 411.1,465.7 412.9,475.6 413.9,477.9 418.3,479.9 424.1,474.8 425.4,465.1 431.7,463.1 437.4,462.7 440.2,458.8 443.6,456.5 439.9,451.7 435.5,453.9 430.1,453.8 427.5,454.8 421.1,459.4 416.4,461.1 409.6,457.3ZM454.7,488.1 453.0,490.6 452.0,496.3 453.0,498.7 456.4,499.6 466.5,504.4 472.4,502.6 479.0,506.0 482.9,503.8 486.3,499.1 486.5,494.2 488.1,493.4 488.1,490.2 494.1,490.2 498.5,485.1 503.8,483.9 505.9,472.2 502.7,475.4 497.5,473.5 492.0,473.7 488.2,472.5 485.1,472.1 479.9,473.4 477.8,470.8 475.7,464.6 472.6,463.2 469.8,461.1 466.0,467.6 457.8,470.2 457.4,471.7 460.4,471.3 457.2,477.2ZM383.1,479.7 384.1,479.5 384.5,485.8 388.1,487.5 391.7,488.2 397.0,490.9 399.1,495.3 402.4,499.7 404.2,500.7 405.6,499.1 405.3,495.2 408.9,492.1 412.9,495.1 413.0,491.7 416.5,484.5 417.0,479.5 413.9,477.9 412.8,474.0 406.0,469.0 400.9,473.3 396.8,479.4 395.8,472.1 392.5,470.3 392.1,466.9 385.0,469.7ZM519.3,357.5 517.3,359.6 522.3,363.8 524.9,369.5 527.1,370.7 528.7,372.5 530.4,369.6 536.4,369.7 536.4,368.9 548.0,356.1 549.1,351.5 547.2,350.6 546.0,351.2 546.0,350.6 542.2,349.9 538.3,347.8 534.5,348.9 531.9,355.8 527.8,353.3 522.9,352.0 520.3,347.2 520.4,354.9ZM315.1,425.4 310.9,430.2 312.1,436.1 314.1,439.9 319.6,440.1 326.7,444.2 332.5,441.8 338.0,443.7 345.1,444.0 349.6,437.2 346.9,431.9 346.4,423.1 344.0,421.5 345.9,418.0 336.1,413.1 328.8,416.3 320.8,417.7 316.0,414.8 313.4,419.6ZM173.9,449.4 177.4,459.6 180.8,456.3 186.5,456.7 188.2,455.3 178.9,446.4ZM396.1,536.4 398.0,535.1 406.7,533.6 405.9,523.8 404.8,523.5 401.1,515.5 399.9,515.9 397.7,518.1 399.7,518.4 396.8,528.6 397.0,531.0 395.6,533.7ZM176.7,457.6 165.3,456.5 165.1,466.6 172.6,470.3 177.3,459.2ZM497.2,394.1 494.5,392.8 493.2,403.5 496.1,403.3 500.3,401.1 506.2,400.3 509.2,398.3 517.1,396.9 515.5,393.3 520.4,382.8 523.3,379.3 529.2,377.4 531.0,383.7 537.6,389.0 541.3,389.4 548.6,394.3 549.0,393.8 544.3,388.9 541.8,384.1 538.5,376.3 536.8,369.7 530.4,369.6 528.7,372.5 527.1,370.7 524.9,369.5 522.3,363.8 517.3,359.6 504.3,362.3 500.7,380.3 498.2,388.5ZM124.4,436.8 126.2,438.3 126.7,445.7 128.0,449.9 134.9,448.8 131.8,434.2 126.7,436.4 125.5,435.8ZM423.2,523.9 428.2,519.8 430.0,526.7 431.8,529.5 434.5,532.1 435.4,538.4 437.1,539.6 445.0,538.3 450.0,533.3 451.4,527.5 446.9,516.4 445.6,507.3 444.3,508.2 438.5,507.0 427.2,508.0 426.4,509.1 426.7,519.3 423.3,521.8ZM555.7,499.2 563.0,505.9 563.3,504.0 576.2,499.6 573.3,488.3 576.7,480.0 586.7,473.3 586.7,472.0 584.5,469.3 582.2,468.0 576.8,470.7 572.0,469.3 562.2,471.2 558.6,477.1 549.5,480.6 544.8,494.5 546.1,501.6 549.8,500.1ZM157.4,480.7 164.5,479.1 163.0,468.4 158.4,467.5 153.3,470.4ZM173.0,494.0 180.4,494.0 187.4,491.6 183.3,484.4 181.3,478.4 171.4,482.9 173.1,489.4ZM349.6,437.2 350.6,444.1 355.4,442.7 353.6,445.9 361.8,447.5 366.1,456.3 373.2,461.6 379.7,450.6 382.7,441.0 382.5,437.7 379.6,429.3 380.9,424.9 379.8,423.4 376.1,420.9 373.2,422.2 363.4,414.3 359.8,414.7 355.2,418.6 353.5,423.5 346.4,423.1 346.9,431.9ZM35.1,435.8 39.9,437.3 46.5,433.9 53.8,433.9 57.0,437.0 56.1,427.3 51.5,426.8 43.5,423.3 42.4,424.9 32.0,430.7 32.2,437.0ZM137.6,478.1 133.5,477.2 133.8,482.3 134.5,483.7 141.4,488.2 143.4,478.9 143.0,476.0ZM149.5,399.7 144.5,404.3 152.0,406.9 150.8,409.2 155.9,412.9 159.7,410.5 160.8,410.4 162.1,408.6 162.2,407.5 160.6,405.2 160.6,402.3 159.1,396.0 161.2,389.5 154.8,387.5ZM360.2,588.1 357.6,585.4 352.7,584.1 346.7,586.2 345.0,589.6 350.3,594.7 355.2,596.2 361.6,588.8 361.1,587.0ZM331.7,563.8 333.8,569.7 339.1,571.6 349.2,567.2 350.1,564.0 345.1,562.5 337.5,556.9 337.7,563.3 333.8,564.0ZM45.4,458.3 45.4,459.6 49.0,461.1 52.1,463.4 52.7,470.4 52.2,472.1 57.8,468.7 63.1,469.5 66.6,465.1 67.5,461.8 66.7,460.2 59.6,461.7 57.0,459.4 53.3,459.0 48.4,454.6ZM176.7,457.6 173.9,449.4 165.7,449.5 162.6,452.0 165.3,456.5ZM450.5,507.4 445.6,507.3 446.9,516.4 451.4,527.5 453.3,520.0 463.3,518.3 475.0,506.7 477.5,511.7 479.0,511.6 479.0,506.0 472.4,502.6 466.5,504.4 456.4,499.6 453.5,498.8 450.6,501.6 452.0,503.4ZM126.5,452.5 127.7,452.5 130.4,460.4 136.2,461.7 138.2,461.6 136.3,454.3 130.7,449.3 128.0,449.9ZM325.6,373.4 322.2,379.8 328.8,383.5 333.2,384.7 343.2,394.2 347.7,392.9 346.9,391.3 348.8,388.8 345.3,385.8 344.9,379.5 345.8,369.4 338.7,367.8 337.6,369.7 335.3,365.8 331.4,363.9 326.4,367.9ZM154.8,483.6 163.1,489.0 166.7,489.1 171.6,483.9 171.4,482.9 164.5,479.1 157.4,480.7ZM468.8,460.8 475.7,464.6 477.8,470.8 479.9,473.4 485.1,472.1 481.3,468.4 482.4,463.7 486.4,460.0 484.1,453.7 484.2,451.2 482.9,449.6 481.1,452.4 478.6,452.2 472.4,455.9ZM421.1,477.4 425.4,479.5 426.5,477.3 438.9,479.5 445.0,481.2 447.9,479.2 449.3,476.9 452.8,474.3 453.8,472.2 457.4,471.7 457.8,470.2 466.0,467.6 469.8,461.1 466.7,461.7 460.6,465.0 455.9,462.8 451.8,464.3 448.5,462.8 443.6,456.5 440.2,458.8 437.4,462.7 431.7,463.1 425.4,465.1 424.1,474.8ZM275.8,591.3 272.2,597.8 276.3,600.6 285.0,596.5 283.4,588.8ZM482.9,503.8 479.0,506.0 479.0,511.6 498.3,510.8 500.0,502.5 500.0,496.7 503.3,501.7 516.4,508.1 514.9,501.9 516.4,499.6 518.1,494.5 519.3,486.3 513.8,483.2 507.6,485.0 503.8,483.9 498.5,485.1 494.1,490.2 488.1,490.2 488.1,493.4 486.5,494.2 486.3,499.1ZM415.3,520.9 419.2,519.7 418.7,522.8 423.3,521.8 426.7,519.3 426.4,509.1 420.6,514.5 420.4,512.3 418.1,510.8 417.1,514.1 415.5,515.7 415.0,518.3ZM640.2,204.0 639.1,207.4 639.9,211.0 639.3,215.4 637.5,218.2 634.6,229.6 635.0,229.8 639.7,222.7 644.1,221.0 649.8,223.0 654.8,219.0 655.7,212.5 660.8,208.1 657.0,207.5 655.9,205.4 655.6,200.1 653.0,197.1 650.5,198.3 645.5,192.3 645.1,190.7 641.8,194.5Z"/>
<path id="g16" d="M328.7,563.3 329.3,571.9 325.2,569.8 325.9,573.8 332.7,577.2 333.9,571.6 333.8,569.7 331.8,563.9ZM168.8,430.3 175.0,432.5 176.4,433.6 179.0,432.8 179.8,431.7 175.6,429.1 173.5,429.0ZM181.5,431.6 183.3,434.2 188.1,432.1 187.8,432.4 192.0,432.4 194.9,430.0 196.2,431.2 195.5,423.7 193.3,421.6 192.5,423.0 192.3,427.1 188.6,431.5ZM109.8,489.4 108.9,493.0 111.5,491.7 116.8,491.9 119.2,486.0 113.3,483.2ZM349.2,567.2 350.8,570.0 352.8,572.0 354.3,569.4 358.5,570.5 361.1,568.8 361.2,566.9 356.7,568.9 354.4,565.9 350.1,564.0ZM150.4,466.5 150.8,468.9 153.3,470.4 158.4,467.5 155.2,461.3 148.1,463.4ZM160.1,430.8 163.1,433.3 164.7,436.3 169.5,437.6 168.3,431.9 170.8,430.2 166.0,429.5 162.4,429.7ZM434.2,546.7 435.2,538.4 432.9,540.9 429.4,546.7ZM139.2,461.7 136.2,461.7 136.9,470.1 140.4,469.9 142.1,467.7 140.5,466.0 145.3,464.0ZM393.6,381.4 396.7,386.6 395.1,391.9 399.3,389.0 405.2,388.0 408.6,388.7 410.3,384.5 403.2,384.4ZM142.1,454.4 152.2,455.4 152.8,451.5 144.9,450.5 142.2,445.6 138.9,448.7ZM140.4,469.9 146.1,476.6 146.1,476.6 143.9,469.7 142.1,467.7ZM355.6,545.7 360.4,547.6 362.0,547.6 363.5,546.7 365.8,546.4 366.1,544.4 364.2,541.3 362.2,541.6 359.6,543.8ZM135.3,484.1 132.5,493.1 136.2,493.4 141.6,492.4 141.4,488.2ZM101.8,472.7 101.1,478.9 108.2,480.9 110.7,475.2 108.3,472.0ZM169.5,437.6 173.2,438.6 174.0,438.2 176.4,433.6 175.0,432.5 170.0,430.7 168.3,431.9Z"/>
<path id="g17" d="M421.2,497.2 426.2,496.9 430.0,497.8 433.7,499.6 439.5,499.9 441.9,498.5 443.7,498.2 447.7,499.8 449.9,502.2 453.3,499.5 452.0,496.3 453.0,490.6 454.7,488.1 455.1,484.9 456.3,481.9 457.2,477.2 460.4,471.3 453.8,472.2 452.8,474.3 449.3,476.9 448.9,478.2 447.9,479.2 445.0,481.2 438.9,479.5 426.5,477.3 424.7,481.0 421.2,483.6 420.5,487.7 422.4,493.0ZM389.3,343.9 393.1,346.3 395.3,348.3 398.0,347.4 402.0,344.7 400.1,338.4 399.4,330.7 397.2,334.7 395.3,335.8 389.0,336.4 389.7,341.3ZM404.8,523.5 410.0,524.7 412.3,523.5 415.3,520.6 415.0,518.3 415.5,515.7 417.1,514.1 418.1,510.8 420.4,512.3 420.2,510.8 417.2,509.9 414.8,509.8 413.2,511.4 408.1,514.2 401.1,515.5ZM405.9,523.9 406.7,533.6 407.4,533.5 410.1,534.9 414.4,533.6 415.3,534.4 420.9,535.0 418.4,525.1 419.2,519.7 414.9,521.0 412.3,523.5 410.0,524.7ZM418.8,535.7 420.2,535.5 424.6,537.0 425.8,540.0 429.7,538.2 435.6,539.4 434.5,532.1 431.8,529.5 430.0,526.7 428.2,519.8 424.2,523.1 423.6,525.3 421.4,527.1 419.2,528.0 420.9,535.0 418.1,534.7Z"/>
<path id="g18" d="M419.2,528.0 421.4,527.1 423.1,525.7 423.3,521.8 418.7,522.8 418.4,525.1ZM427.5,546.7 429.4,546.7 432.9,540.9 434.5,539.2 429.7,538.2 425.8,540.0 424.6,537.0 426.4,541.5 426.3,543.1 427.4,548.0Z"/>
<path id="g19" d="M339.1,544.4 343.3,545.5 346.4,542.6 352.5,545.0 351.9,547.6 356.3,546.5 356.5,545.2 355.0,546.0 354.9,541.8 353.2,538.9 354.0,529.7 356.7,525.5 348.7,523.3 345.7,525.3 342.4,530.8 341.2,534.1 338.7,536.0Z"/>
<path id="g20" d="M86.8,201.6 89.2,211.7 87.0,215.0 88.1,225.1 88.9,226.3 90.2,231.9 100.8,234.8 109.9,229.2 110.6,225.2 106.9,222.6 105.8,220.6 105.3,213.3 103.6,206.6 100.8,203.1 95.8,198.7 91.3,199.8ZM233.9,280.6 235.4,293.4 234.5,302.7 236.4,309.9 239.8,305.1 243.9,302.8 248.3,298.2 255.4,292.9 263.1,291.7 266.5,290.2 271.4,291.9 274.2,288.1 275.2,285.8 280.5,291.0 286.0,293.5 290.4,290.9 298.1,289.2 295.5,285.0 295.4,280.6 293.8,278.1 295.1,275.1 296.7,273.1 296.9,268.8 298.4,267.0 297.4,262.1 287.9,254.2 286.8,252.0 289.1,249.1 277.8,249.6 272.8,251.2 271.9,255.4 270.2,257.7 268.8,258.1 269.5,262.6 268.2,263.6 262.8,263.2 257.2,264.1 248.9,266.6 244.1,268.5 241.8,273.0 241.4,274.7 239.8,275.0 238.5,277.2ZM304.0,363.6 309.3,366.0 313.3,366.1 319.9,363.0 323.6,364.7 328.4,362.5 335.3,365.8 337.6,369.7 339.5,366.5 341.0,365.7 343.0,362.5 344.8,356.7 345.1,351.2 340.2,347.4 334.9,346.8 330.4,348.1 328.7,350.3 323.3,352.5 313.6,353.6 312.3,355.0 306.7,357.3 303.8,356.4 299.5,359.0 302.8,361.3ZM495.3,273.7 492.2,280.3 491.0,285.7 494.3,285.1 497.4,287.1 500.5,290.3 502.5,296.0 506.8,296.5 510.2,299.0 516.6,299.2 517.7,295.4 519.1,292.7 524.6,290.3 530.4,287.1 528.8,282.6 528.8,278.3 530.3,276.3 530.9,273.8 530.9,269.5 528.8,261.4 525.2,254.0 521.7,251.4 518.3,253.9 516.3,256.5 511.8,258.7 501.3,262.0 497.4,265.7 496.8,267.8 495.4,269.2ZM542.0,269.0 541.1,273.7 541.4,274.2 539.6,278.1 541.3,286.4 546.7,287.7 551.4,290.0 553.6,284.7 552.6,279.8 552.8,275.0 551.3,270.0 550.3,268.5 551.9,262.5 546.2,264.5 541.7,267.3ZM524.3,343.3 527.4,342.7 528.6,341.0 534.0,337.3 538.3,335.5 535.6,332.2 535.4,329.2 534.0,326.0 531.0,329.4 529.9,332.8 526.2,337.2 519.8,337.7ZM146.6,517.3 151.0,513.9 154.2,512.8 159.3,512.2 163.3,515.5 166.1,522.4 167.2,515.4 167.4,510.8 160.5,497.7 155.7,501.0 150.3,500.9 145.8,502.3 144.1,506.3 140.2,510.0 144.2,512.5ZM139.9,536.6 143.0,527.2 148.1,523.9 151.4,523.4 153.3,527.6 152.5,535.4 159.7,532.4 162.1,532.4 163.6,533.4 167.1,533.7 170.1,535.1 176.4,534.9 173.4,528.7 169.9,526.2 166.7,518.3 166.1,522.4 163.3,515.5 159.3,512.2 154.2,512.8 151.0,513.9 146.6,517.3 145.5,515.0 142.3,516.1 133.4,524.5 129.4,526.7 135.9,532.1Z"/>
<path id="g21" d="M427.3,171.4 433.0,172.7 429.1,166.7 429.4,160.2 424.7,161.7 423.2,163.0 422.9,168.0 424.5,171.6Z"/>
<path id="g22" d="M181.4,448.3 191.4,447.7 198.5,446.0 200.5,442.1 201.8,438.9 196.6,433.1 194.9,430.0 192.0,432.4 187.2,432.5 183.9,433.7 179.1,438.6 177.7,443.9ZM148.4,450.6 152.6,451.5 155.7,450.8 157.0,446.5 156.9,442.9 148.4,444.7 141.1,443.7 144.9,450.5ZM143.9,469.7 145.9,475.8 146.7,482.4 151.0,477.5 151.3,471.4 150.4,466.5 147.8,462.9 140.5,466.0ZM211.0,487.6 210.6,493.9 209.3,497.7 209.2,499.8 207.5,502.4 206.0,507.3 204.9,508.5 200.5,511.1 201.5,515.3 201.2,521.6 202.5,527.2 210.2,523.2 211.6,520.6 214.3,519.0 214.5,516.0 219.1,505.1 220.4,500.3 218.9,496.9 220.2,495.5 222.0,491.3 224.3,487.8 228.3,478.9 226.5,476.3 225.9,477.4 222.9,477.2 218.8,481.6 217.1,484.5 212.9,487.9ZM314.4,627.5 318.6,622.5 319.6,615.1 318.6,608.4 314.2,613.3 307.4,618.9 311.3,622.7Z"/>
<path id="g23" d="M148.4,444.7 157.2,442.8 154.6,438.0 154.6,434.1 152.6,431.4 150.4,430.0 149.0,426.7 147.8,425.3 145.0,431.1 135.5,443.0ZM156.7,435.6 158.5,439.0 159.1,443.3 162.8,444.2 165.0,445.4 167.2,447.5 171.9,444.3 177.4,444.9 179.0,439.1 179.8,431.6 175.6,437.5 173.2,438.6 164.7,436.3 163.1,433.3 160.2,430.9 156.7,434.1Z"/>
<path id="g24" d="M125.8,482.8 125.3,496.5 123.8,496.8 118.3,495.9 121.3,506.6 127.6,502.9 130.3,499.5 132.3,495.2 132.7,491.5 135.1,484.8 133.8,482.3 133.4,475.9 134.7,470.1 129.1,474.7 124.8,475.6Z"/>
<path id="g25" d="M454.2,241.4 456.4,243.2 457.5,246.4 456.4,249.7 460.4,250.6 466.8,250.1 474.5,239.5 472.5,232.9 466.5,229.0 463.1,228.5 457.3,225.3 455.7,228.6 454.6,229.8 450.9,230.8 450.7,239.8ZM402.1,214.9 405.6,214.6 408.5,213.1 414.4,213.6 411.1,208.6 411.4,204.4 403.6,203.8 396.7,205.3 400.5,209.9ZM379.0,238.1 380.3,243.8 383.5,240.9 389.9,241.3 389.9,233.3 390.6,228.7 383.6,228.1 378.3,230.4 379.0,234.1Z"/>
<path id="g26" d="M108.8,420.2 110.2,423.1 110.2,425.7 109.6,431.4 108.2,435.1 108.4,440.8 109.6,443.4 111.1,450.6 118.5,444.9 120.7,442.6 124.6,436.6 128.8,432.9 131.1,430.1 129.5,425.8 129.6,421.6 125.7,414.3 124.1,408.1 116.0,406.0 112.2,407.0 105.5,415.0 107.3,418.8Z"/>
<path id="g27" d="M303.9,329.3 303.7,337.0 302.6,339.5 302.9,342.6 306.2,348.1 307.2,351.2 310.0,354.5 312.4,355.0 313.6,353.6 321.0,352.8 325.3,351.7 328.8,350.1 330.4,348.1 334.9,346.8 340.2,347.4 345.1,351.2 344.8,356.7 346.0,357.9 347.7,354.6 349.8,352.3 350.6,347.4 351.1,339.7 345.9,330.8 346.4,326.9 347.3,325.3 346.9,320.6 340.1,323.1 337.4,325.5 334.1,325.2 329.3,324.1 326.3,325.7 323.8,317.4 316.5,317.1 314.7,320.9 311.9,321.7 302.7,325.7ZM353.1,167.7 360.3,169.5 363.2,171.2 365.3,165.6 365.9,159.4 361.8,159.9 356.2,159.2 351.2,160.2 351.8,164.0ZM368.1,176.3 374.2,183.6 375.1,187.2 377.5,189.7 381.0,191.9 389.9,188.8 389.8,184.3 389.3,183.9 388.7,182.1 387.4,182.5 384.5,171.7 376.6,170.8 372.0,171.1 369.4,171.9 359.9,172.6ZM522.7,171.4 526.2,174.0 529.9,175.3 536.3,176.0 533.3,170.2 529.2,167.5 526.8,162.3 524.3,158.7 516.4,161.8 518.9,166.6Z"/>
<path id="g28" d="M95.8,326.6 95.6,334.6 94.8,337.6 95.2,341.5 97.1,342.9 99.2,350.5 98.6,353.0 99.2,361.6 96.5,372.2 96.1,377.8 101.2,376.5 107.6,386.7 113.2,389.6 116.8,388.2 123.1,391.9 127.5,393.4 129.7,388.1 133.3,385.8 134.4,384.3 137.3,383.3 141.7,380.7 150.4,381.6 154.0,377.6 152.3,372.3 146.1,366.0 143.7,363.0 140.3,361.4 139.1,358.5 135.8,355.5 134.8,351.6 130.4,350.7 127.5,349.6 125.3,344.5 125.8,340.8 122.1,337.7 120.2,334.8 108.7,332.8 99.5,325.7 95.3,318.8ZM58.3,482.3 60.7,484.0 63.5,485.0 69.9,488.7 74.2,481.8 72.8,476.1 69.8,473.5 61.9,472.5 57.1,473.5 52.7,476.8 56.0,479.2ZM82.5,534.9 85.9,534.0 89.0,534.8 96.6,538.1 99.2,537.6 102.1,539.5 111.6,541.1 117.8,538.6 120.3,531.9 115.3,531.3 114.1,532.7 113.3,525.3 104.5,526.1 99.0,527.8 97.0,529.1 93.7,530.1 89.3,527.6 86.7,527.5 83.6,526.4 76.2,526.9 77.3,533.2ZM373.2,422.2 376.1,420.9 379.6,423.3 382.0,420.3 383.6,420.0 385.5,418.4 395.7,422.0 399.7,424.3 405.7,426.3 412.0,426.9 409.9,422.0 409.5,416.7 406.6,416.4 404.3,411.4 402.2,408.7 398.8,406.3 396.7,403.3 398.8,397.8 403.7,394.6 408.6,388.7 405.2,388.0 399.3,389.0 395.2,391.9 394.0,395.1 389.2,400.1 384.4,401.2 381.0,406.7 369.2,412.5 361.9,413.1ZM416.4,461.1 421.1,459.4 427.5,454.8 430.1,453.8 435.5,453.9 439.9,451.7 448.5,462.8 451.8,464.3 455.9,462.8 460.6,465.0 469.1,460.5 472.4,455.9 478.6,452.2 481.1,452.4 482.7,449.9 485.2,450.6 487.3,435.5 486.3,431.4 481.2,428.0 476.5,428.4 473.6,429.9 469.6,430.9 461.7,431.4 455.5,433.9 451.4,440.9 448.7,441.9 444.8,444.7 440.6,443.5 434.8,443.1 429.3,443.9 426.4,445.6 424.0,448.1 418.3,455.8 414.3,456.7 407.0,454.5 406.6,455.6ZM520.4,382.8 515.5,393.3 517.1,396.9 517.7,396.8 521.8,399.1 530.1,406.6 532.2,409.7 532.0,411.5 534.5,411.7 535.8,410.3 538.5,409.0 542.5,409.3 548.5,406.1 551.4,405.6 559.7,410.0 560.5,408.8 549.0,400.3 548.1,394.0 541.3,389.4 537.6,389.0 531.0,383.7 529.2,377.4 523.3,379.3ZM484.1,453.7 486.0,458.1 486.4,460.0 482.4,463.7 481.3,468.4 485.4,472.5 488.2,472.5 492.0,473.7 497.5,473.5 502.7,475.4 505.0,473.1 508.9,471.4 510.6,469.2 515.3,468.5 517.8,464.5 519.7,459.9 520.2,460.1 524.0,454.7 526.7,454.0 529.7,449.5 533.3,450.5 539.4,446.0 547.1,443.4 548.5,440.8 550.2,435.6 551.8,435.1 555.0,433.1 558.7,432.7 563.0,428.6 564.8,420.2 566.0,418.4 569.0,416.5 570.2,412.3 575.2,406.8 570.2,407.0 567.1,406.5 563.3,404.3 559.0,406.2 554.7,404.4 560.5,408.8 559.7,410.0 551.4,405.6 548.5,406.1 542.5,409.3 538.5,409.0 535.8,410.3 534.5,411.7 532.0,411.5 531.7,415.2 527.3,419.8 519.2,422.1 516.6,426.9 512.9,429.8 506.4,432.8 504.8,436.1 501.7,438.8 497.3,440.6 494.2,442.7 490.0,446.8 487.6,447.7 485.3,449.6 485.2,450.6 483.3,450.1 484.2,451.2ZM392.5,470.3 395.8,472.1 396.8,479.4 400.9,473.3 405.8,469.1 404.0,466.0 404.2,461.8 397.8,460.6 393.0,460.5 389.9,462.3 392.0,465.7ZM347.2,236.7 348.4,242.6 352.2,240.0 358.1,233.8 358.6,230.3 358.5,227.2 360.0,222.8 351.0,220.7 345.7,226.0 345.0,228.8 346.0,233.6Z"/>
<path id="g29" d="M387.9,361.7 394.1,364.6 393.2,366.1 389.1,366.4 385.3,369.6 380.9,371.3 386.6,378.5 390.6,381.5 394.7,381.8 403.2,384.4 407.4,384.8 412.3,384.3 414.3,373.9 414.1,371.1 413.0,369.3 414.2,364.2 413.7,362.0 414.0,358.4 411.6,354.7 411.3,359.6 405.2,359.2 400.9,363.4 393.0,363.3ZM408.1,514.2 413.2,511.4 414.8,509.8 417.2,509.9 420.2,510.8 420.6,514.5 427.1,508.5 426.8,505.5 431.9,501.3 421.6,499.9 418.2,497.5 414.2,496.0 408.9,492.1 405.3,495.2 405.6,499.1 404.3,500.7 405.9,501.6 406.6,507.4 405.0,510.0 403.7,514.6 403.0,514.9ZM32.3,452.0 42.6,452.9 42.6,456.9 38.8,466.2 40.2,466.9 45.9,457.6 48.4,454.6 49.8,455.4 49.9,456.3 53.3,459.0 57.0,459.4 59.6,461.7 64.0,460.3 68.4,460.1 73.1,459.0 68.2,454.6 62.9,453.4 61.8,450.8 61.0,444.6 59.4,441.8 57.3,439.4 58.4,438.3 53.8,433.9 46.5,433.9 39.9,437.3 35.1,435.8 32.2,437.0 32.5,443.3 30.9,450.7ZM403.2,334.2 403.5,339.2 407.0,345.4 409.6,346.5 409.8,342.7 412.8,342.4 415.7,344.0 419.3,338.4 421.4,337.3 420.2,330.7 418.6,325.7 413.5,323.0 407.8,323.2 403.5,322.5 401.7,329.4ZM375.0,553.8 373.7,557.4 371.8,566.2 372.0,571.5 376.9,574.0 380.5,576.8 382.2,583.0 388.7,578.2 394.2,567.0 396.5,566.7 399.0,561.8 398.8,560.3 395.1,555.3 390.9,552.3 390.3,550.2 390.4,547.2 390.7,546.7 389.6,545.4 386.8,543.6 383.4,544.6 380.2,543.8 376.4,543.8 373.5,545.5 373.8,549.7Z"/>
<path id="g30" d="M391.4,357.4 385.1,360.9 393.0,363.3 400.9,363.4 405.2,359.2 411.3,359.6 411.8,355.2 410.4,351.7 411.1,349.4 411.0,347.1 405.8,344.9 404.0,346.8 401.1,345.9 396.8,348.0 393.9,348.5 391.9,353.9ZM372.4,494.4 372.1,503.1 369.5,503.8 366.0,503.9 363.7,506.9 360.5,509.3 364.4,508.1 365.6,506.0 369.1,504.0 374.7,502.4 374.5,508.7 380.1,515.3 381.6,516.1 382.9,515.1 386.1,515.2 392.6,516.8 396.2,519.6 399.9,515.9 403.7,514.6 405.0,510.0 406.6,507.4 405.9,501.6 402.4,499.7 399.1,495.3 397.0,490.9 391.7,488.2 388.1,487.5 384.5,485.8 384.1,479.5 379.7,485.6 375.0,485.7 372.0,490.6ZM412.6,384.4 413.8,387.4 417.6,388.0 420.9,381.8 425.3,379.3 421.9,376.9 419.5,372.0 420.9,369.7 421.9,365.3 423.9,361.5 422.9,359.7 423.8,353.0 421.4,342.9 417.1,346.1 413.0,345.2 410.6,346.9 411.1,349.4 410.4,351.7 411.6,354.7 414.0,358.4 413.7,362.0 414.2,364.2 413.0,369.3 414.1,371.1 414.3,373.9ZM449.9,378.7 449.5,384.7 450.5,387.4 455.0,388.6 457.2,385.9 457.6,380.9 456.4,376.8 458.4,370.9 452.8,367.7 451.0,367.2 449.5,369.5 447.8,369.0 448.5,370.7 448.0,371.7 448.1,373.5ZM424.1,388.5 429.1,388.8 433.3,389.8 439.3,390.0 441.5,388.6 445.5,389.3 447.4,392.0 450.3,392.3 451.1,395.3 460.5,403.2 460.9,402.8 455.8,394.3 455.8,387.6 455.0,388.6 450.5,387.4 449.5,384.7 449.9,378.7 448.6,374.8 447.1,373.5 446.1,375.5 442.3,377.3 439.1,380.3 434.4,381.5 422.6,382.0 422.0,381.1 421.9,383.7ZM460.3,378.5 463.5,374.8 467.7,371.5 472.4,366.9 475.5,365.4 479.2,365.4 480.8,363.4 486.5,364.5 488.7,367.0 490.0,367.5 493.7,366.4 496.0,361.7 492.8,358.0 493.8,355.7 491.3,351.0 487.0,348.6 481.9,347.0 468.9,335.6 466.9,339.6 464.7,339.3 459.7,344.7 456.3,346.8 452.6,351.9 450.0,354.5 451.0,355.1 450.9,361.1 449.9,361.9 451.5,366.3 449.6,369.3 451.0,367.2 452.8,367.7 458.4,370.9 457.2,374.3ZM338.3,550.8 338.5,555.1 345.7,557.0 350.6,557.1 350.0,552.2 351.8,548.1 352.5,545.0 346.4,542.6 343.3,545.5 337.0,543.9 338.8,548.4Z"/>
<path id="g31" d="M422.6,382.0 434.4,381.5 439.1,380.3 442.3,377.3 446.1,375.5 448.5,370.7 447.8,369.0 442.6,367.6 441.6,371.1 435.7,377.7 432.1,373.7 435.4,369.2 437.8,364.3 436.5,362.5 435.3,356.8 424.9,354.9 423.5,355.1 422.9,359.7 423.9,361.5 421.9,365.3 420.9,369.7 419.5,372.0 421.9,376.9 425.3,379.3 422.1,381.1Z"/>
<path id="g32" d="M354.0,529.7 353.2,538.9 354.9,541.8 355.0,546.0 359.6,543.8 362.2,541.6 372.4,540.0 371.4,538.3 369.1,536.5 368.0,531.5 364.8,527.7 365.3,527.1 366.0,528.2 362.4,522.4 359.9,523.0 356.0,526.0Z"/>
<path id="g33" d="M320.6,255.8 313.1,252.6 310.3,250.5 308.2,243.5 304.2,249.0 303.7,250.8 297.4,262.2 298.4,267.0 296.9,268.8 296.7,273.1 295.1,275.1 293.8,278.1 294.6,279.3 298.7,279.4 301.3,278.3 302.7,275.7 304.1,271.2 306.1,267.9 305.4,265.9 311.7,266.3 314.9,265.4 319.1,266.0 317.7,265.8 319.7,259.4 318.5,255.6ZM163.1,384.4 164.6,384.8 163.0,393.5 163.4,396.6 165.2,400.0 171.3,402.1 175.9,402.8 180.7,405.5 185.5,406.4 191.0,407.3 196.7,405.5 196.1,408.0 197.3,408.0 197.7,402.3 196.9,399.1 200.8,388.8 195.9,389.1 194.5,389.8 189.2,387.7 182.6,386.9 178.9,385.1 177.7,382.8 178.0,380.3 174.1,378.3 167.8,379.2 160.6,376.3 163.0,381.8ZM349.2,142.4 349.9,144.9 354.4,147.9 359.0,148.9 366.6,146.0 362.7,142.7 360.7,139.7 356.2,137.1 353.6,137.7 345.3,133.1 347.8,140.0ZM381.9,168.0 384.4,171.5 384.0,170.0 392.7,167.4 396.4,162.1 399.3,160.7 396.6,156.7 393.5,155.6 391.3,156.0 387.8,155.0 383.3,155.1 381.2,156.3 378.5,156.9 378.6,158.2 379.6,158.0 381.3,163.1 385.3,165.8ZM538.5,322.0 548.5,321.8 553.7,320.2 556.8,320.8 562.6,318.2 567.7,316.9 562.9,312.8 559.4,308.3 558.1,307.2 562.3,304.2 559.6,299.4 558.8,295.5 559.6,288.5 555.1,293.9 552.7,295.0 549.6,295.6 547.1,297.3 544.9,301.2 541.4,302.4 534.0,300.3 530.4,302.5 531.6,306.0 532.9,305.3 535.3,310.8 535.8,313.9 539.7,321.0ZM546.0,351.2 549.7,349.3 553.7,350.5 558.4,349.9 561.2,345.5 562.2,341.9 563.6,340.6 567.3,340.3 571.4,336.6 569.8,334.9 570.8,330.7 570.6,325.1 568.0,317.3 564.0,318.3 562.6,318.2 558.8,319.9 555.0,323.3 557.6,326.0 558.0,331.0 559.3,333.2 557.9,338.3 559.6,346.1 553.8,342.4 550.9,342.6 546.0,350.0ZM522.9,352.0 527.8,353.3 531.9,355.8 534.5,348.9 538.3,347.8 542.2,349.9 546.0,350.6 546.5,349.1 545.7,350.3 546.0,344.2 544.9,342.0 540.8,338.8 540.8,337.2 539.7,334.9 534.0,337.3 528.6,341.0 527.4,342.7 524.9,343.4 519.5,343.1 520.5,347.6Z"/>
<path id="g34" d="M197.1,408.8 195.9,411.5 197.2,415.6 199.8,418.2 202.2,421.9 205.9,420.9 210.3,421.7 216.8,421.3 220.6,422.0 225.8,421.1 227.3,419.9 234.4,427.7 233.7,421.1 235.8,414.0 237.5,410.8 236.7,408.0 237.8,403.1 234.7,403.0 234.9,401.5 226.2,400.1 216.9,402.9 211.8,402.8 206.5,400.9 203.5,401.2 200.7,397.6 200.0,391.0 196.9,399.1 197.7,402.3 197.3,408.0 196.2,408.0ZM41.0,544.1 57.1,542.8 54.4,538.4 51.4,538.0 47.7,539.7 37.5,537.4 34.4,537.9 31.4,539.5 30.8,545.0 37.2,544.5 39.2,543.7ZM361.2,567.0 360.9,571.0 362.1,580.4 370.8,577.1 373.7,572.9 373.6,572.3 372.0,571.5 371.8,566.2 373.9,556.8 374.2,551.0 367.6,554.1 369.6,554.6 367.2,557.9 367.8,564.2 364.0,564.7 362.6,566.3ZM349.6,577.5 352.4,582.1 356.7,584.6 360.2,588.1 364.0,583.7 364.2,580.8 365.9,579.4 365.7,579.0 362.1,580.4 360.9,571.0 361.1,568.8 358.5,570.5 354.3,569.4Z"/>
<path id="g35" d="M47.7,539.7 51.4,538.0 56.7,538.7 63.4,536.1 64.1,531.4 67.2,521.3 57.1,524.2 54.2,523.7 46.1,523.7 45.5,527.2 40.2,537.2ZM487.6,447.7 490.0,446.8 494.2,442.7 497.3,440.6 501.7,438.8 504.8,436.1 506.4,432.8 512.9,429.8 516.6,426.9 519.2,422.1 527.3,419.8 531.7,415.2 532.2,409.7 530.1,406.6 521.8,399.1 517.7,396.8 509.2,398.3 506.2,400.3 500.3,401.1 496.1,403.3 490.4,403.6 488.9,406.0 486.6,405.1 480.9,405.9 474.1,415.8 471.5,415.8 470.2,418.9 468.5,421.0 466.8,424.6 465.8,428.8 462.3,431.4 469.6,430.9 473.6,429.9 476.5,428.4 481.2,428.0 486.3,431.4 487.3,435.5 485.3,449.6ZM392.1,544.9 390.4,547.2 390.3,550.2 390.9,552.3 395.1,555.3 398.4,560.2 401.2,560.9 403.8,565.5 408.2,562.9 411.0,562.4 414.0,560.8 416.2,560.5 424.4,556.1 426.1,554.3 427.2,550.1 427.4,548.0 426.3,543.1 426.4,541.5 424.6,537.0 420.2,535.5 417.2,535.8 414.4,533.6 410.1,534.9 407.4,533.5 398.0,535.1 396.0,536.5 392.2,535.9 392.5,542.5ZM370.5,630.5 372.5,638.8 379.8,639.4 380.0,638.3 385.0,636.7 385.8,634.1 385.0,632.1 386.5,628.2 381.9,626.3 380.5,624.5 374.7,623.1 368.8,620.9 370.5,625.9Z"/>
<path id="g36" d="M379.9,355.0 380.9,355.6 378.5,359.9 378.7,363.6 388.2,361.9 385.1,360.9 391.4,357.4 391.9,353.9 393.9,348.5 395.3,348.3 393.1,346.3 388.5,343.4 378.6,344.4 378.7,351.3ZM403.7,394.6 398.8,397.8 396.7,403.3 398.8,406.3 402.2,408.7 404.3,411.4 406.6,416.4 410.8,416.8 411.2,418.9 415.3,419.2 419.7,422.1 421.0,418.8 422.9,417.9 423.8,415.6 421.4,414.5 422.7,411.2 424.7,409.2 425.4,396.3 426.2,393.9 424.7,391.4 424.0,389.0 421.1,387.0 418.5,386.3 417.6,388.0 413.8,387.4 412.6,384.4 413.1,381.1 412.3,384.3 410.3,384.5 408.3,389.4ZM369.1,536.5 371.4,538.3 374.9,543.9 376.5,541.0 384.6,538.2 390.5,537.5 393.0,535.0 394.6,535.6 397.0,531.0 396.8,528.6 399.7,518.4 397.7,518.1 396.2,519.6 392.6,516.8 386.1,515.2 382.9,515.1 381.7,516.2 385.9,518.3 381.4,520.4 377.0,519.1 372.4,520.0 368.9,522.8 366.0,528.2 365.3,527.1 364.8,527.7 368.0,531.5Z"/>
<path id="g37" d="M319.7,259.4 317.7,265.8 319.1,266.0 323.1,268.8 326.8,272.4 332.0,270.4 332.4,273.2 334.7,272.6 335.1,267.8 331.9,259.1 333.5,252.0 327.6,255.5 324.9,256.1 318.5,255.6ZM206.2,482.3 211.1,477.7 216.5,478.4 219.5,477.1 225.9,477.4 228.5,472.8 224.8,473.4 225.3,465.8 214.8,462.4 209.4,464.3 206.3,467.3 205.8,474.2ZM210.0,487.5 212.9,487.9 217.1,484.5 218.8,481.6 222.9,477.2 219.5,477.1 216.5,478.4 211.1,477.7 206.2,482.3 206.1,480.1 201.5,484.7 193.4,487.9 205.8,488.8ZM351.5,372.5 354.5,374.2 360.0,372.4 364.9,371.5 371.0,372.2 376.7,364.7 378.3,360.5 380.9,355.6 375.5,352.4 372.6,352.9 368.5,352.3 365.6,350.6 359.7,352.9 346.8,364.1 340.7,365.9 347.6,369.4ZM512.2,310.2 511.1,314.6 507.5,315.8 504.0,319.5 507.3,323.3 512.1,324.2 518.3,328.0 517.3,332.2 519.2,337.7 526.2,337.2 529.9,332.8 531.0,329.4 533.3,326.6 539.7,321.0 535.8,313.9 535.3,310.8 532.9,305.3 530.2,306.8 526.7,303.7 522.2,303.1 519.6,304.3 517.2,304.0 512.7,302.1Z"/>
<path id="g38" d="M298.3,287.6 301.8,289.2 302.8,290.7 306.5,293.3 306.9,296.5 308.3,300.2 311.9,306.4 314.3,299.9 312.9,297.1 312.9,295.8 316.9,296.6 324.2,300.2 328.9,298.6 332.4,296.5 336.4,296.0 340.5,296.6 345.4,293.0 346.7,289.3 344.1,287.5 338.4,286.1 335.8,281.2 335.5,278.3 332.7,274.8 332.0,270.4 326.8,272.4 323.1,268.8 319.1,266.0 314.9,265.4 311.7,266.3 305.4,265.9 306.1,267.9 304.1,271.2 302.7,275.7 301.3,278.3 298.7,279.4 294.6,279.3 295.4,280.6 295.5,285.0Z"/>
<path id="g39" d="M351.5,354.5 357.7,353.6 364.2,348.7 368.5,348.0 374.6,344.7 375.6,336.7 371.5,337.1 370.3,335.7 370.2,331.9 368.4,329.3 366.6,324.8 364.0,322.9 361.9,320.4 356.5,315.8 351.6,319.8 346.9,320.9 347.3,325.3 346.4,326.9 345.9,330.8 351.1,339.7 350.6,347.4 349.8,352.3 348.9,353.2ZM340.8,283.7 346.7,289.3 344.8,297.3 344.8,301.2 345.5,304.9 347.6,310.2 350.6,311.1 352.5,312.8 353.0,316.5 354.4,317.5 356.5,315.8 361.9,320.4 364.0,322.9 366.6,324.8 368.4,329.3 370.2,331.9 370.3,335.7 371.5,337.1 375.6,336.7 375.3,339.4 377.8,339.2 384.8,341.6 380.4,335.9 379.7,327.4 374.4,320.0 369.5,314.4 368.2,310.7 367.4,305.7 368.7,303.3 370.4,294.5 366.8,294.4 364.5,291.1 357.3,290.3 355.4,288.9 354.6,287.7 350.9,285.7 349.2,282.7ZM428.4,324.5 424.5,337.4 434.8,332.4 437.3,329.6 440.3,327.6 444.3,328.0 442.6,323.1 440.4,321.2 439.2,314.7 434.6,318.3 433.7,317.5 428.8,317.8ZM478.4,164.5 477.4,169.8 478.6,173.8 480.8,179.0 489.5,175.7 489.3,176.9 489.5,176.0 492.6,175.3 493.9,175.8 495.9,172.2 499.3,169.1 496.5,166.1 496.8,163.4 495.5,161.3 495.2,157.3 495.6,152.8 488.7,153.1 484.3,154.9 480.3,155.0 478.4,158.1ZM452.4,204.8 454.6,208.6 458.8,209.4 462.1,207.2 466.6,205.9 470.4,203.0 471.8,200.6 471.9,200.0 469.8,198.3 469.6,194.2 470.9,191.3 469.6,190.8 465.3,191.4 461.5,189.5 456.2,188.6 454.5,188.9 454.3,192.2 451.8,196.3 452.6,200.6ZM423.3,204.1 424.3,207.2 432.3,210.2 436.1,210.6 440.2,211.8 446.6,209.5 447.4,209.6 452.8,208.0 448.9,203.6 447.6,200.1 443.5,197.0 442.1,196.2 441.4,196.6 440.6,195.4 436.9,195.2 433.5,193.5 432.3,193.8 431.5,194.7 430.0,194.3 428.3,194.7 426.8,194.1 422.4,197.2 423.7,201.1ZM441.9,228.7 440.2,233.3 445.7,235.4 450.7,238.6 450.9,230.8 452.9,230.3 452.3,227.1 450.1,223.5 444.8,223.1 438.2,223.4 437.3,224.5 440.0,227.5ZM440.9,249.4 441.1,259.9 449.9,265.9 453.2,265.1 454.3,260.2 454.7,254.6 455.8,248.8 451.8,249.8ZM363.5,170.5 373.5,171.2 377.9,170.6 385.3,165.8 381.3,163.1 379.6,158.0 365.8,160.8 365.3,165.6ZM376.5,198.6 379.5,205.7 384.1,202.6 389.9,201.2 386.4,190.0 378.7,192.3 373.3,194.6ZM347.4,203.5 354.0,210.0 356.5,205.8 361.0,203.1 357.2,200.2 353.3,194.5 348.7,198.3 342.1,199.2ZM303.5,226.0 303.1,231.5 307.4,235.6 319.0,244.4 321.5,233.1 317.1,230.5 314.7,230.1 312.5,227.6 312.0,225.4 309.2,222.5 301.5,217.8 301.8,219.6 304.3,223.4ZM351.4,285.5 355.2,286.0 367.4,290.5 374.8,286.1 379.7,286.6 381.8,277.8 380.8,271.5 379.2,269.0 380.5,263.6 377.0,259.1 370.2,257.7 364.1,259.5 356.3,263.5 351.8,263.2 356.0,267.6 357.0,267.2 361.6,272.8 358.2,276.0 354.7,278.5 352.6,279.1 351.8,282.0 349.4,283.1 350.4,284.8Z"/>
<path id="g40" d="M390.3,264.6 396.6,260.0 401.0,258.3 404.0,255.6 405.9,251.6 408.1,248.8 412.3,245.1 410.9,245.7 407.3,239.4 407.5,234.9 405.0,230.9 399.1,231.4 394.1,234.1 393.0,240.0 391.3,242.9 389.5,249.7 386.9,253.2 389.3,258.8ZM321.8,144.9 321.1,149.3 326.5,148.6 329.4,146.9 332.3,146.5 337.4,140.9 338.9,137.7 335.7,133.8 333.7,130.0 330.0,130.0 326.0,132.4 325.1,134.2 321.9,135.6 323.4,140.8ZM308.9,165.0 308.8,181.9 309.6,183.4 309.5,187.3 314.7,187.3 316.9,186.8 322.9,189.6 319.9,179.8 319.4,176.3 316.4,172.8 316.2,169.8 314.8,166.8 314.1,164.0 313.0,161.9 309.6,158.0 307.5,163.0ZM337.8,171.2 346.3,162.3 342.2,157.2 337.3,156.4 331.3,160.5 333.4,166.0ZM278.2,224.2 276.9,236.4 277.3,242.5 278.2,249.6 279.1,249.5 283.6,244.4 285.7,241.1 288.3,238.8 291.5,236.3 296.5,236.9 303.2,230.3 303.6,224.0 302.0,220.5 301.1,215.5 295.5,219.3 293.6,218.5 283.6,220.0 283.8,221.7ZM540.7,331.0 540.8,338.8 546.1,342.7 545.7,350.3 550.9,342.6 553.8,342.4 559.6,346.1 557.9,338.3 559.3,333.2 558.0,331.0 557.6,326.0 554.4,322.6 550.6,321.2 548.5,321.8 544.6,321.9 536.3,324.0 535.2,324.9 538.5,327.4Z"/>
<path id="g41" d="M359.7,519.1 361.9,521.8 366.0,528.2 368.9,522.8 372.4,520.0 377.0,519.1 381.4,520.4 385.9,518.3 380.1,515.3 374.5,508.7 374.7,502.4 369.1,504.0 365.6,506.0 364.4,508.1 361.1,509.2 353.3,510.6 357.9,515.9Z"/>
<path id="g42" d="M453.8,183.5 457.5,181.9 459.5,181.9 463.4,181.1 462.6,180.6 460.9,176.7 465.1,165.4 467.0,165.0 461.3,166.0 459.2,167.0 458.2,166.3 456.4,167.0 453.3,170.7 449.6,173.5 446.9,178.1 448.9,181.5 447.0,181.6 447.3,183.2Z"/>
<path id="g43" d="M329.9,563.5 333.8,564.0 337.7,563.3 337.5,557.4 337.9,553.0 332.1,552.7Z"/>
<path id="g44" d="M426.2,393.9 425.4,396.3 424.7,409.2 422.7,411.2 421.4,414.5 438.5,422.9 439.9,423.4 445.9,423.6 452.8,429.0 449.7,417.8 446.0,414.2 446.4,410.9 445.1,405.4 449.1,397.5 448.7,394.3 450.3,392.3 447.4,392.0 445.5,389.3 441.5,388.6 439.3,390.0 433.3,389.8 429.1,388.8 424.1,388.5 423.7,387.6 424.7,391.4Z"/>
<path id="g45" d="M392.8,175.4 389.7,179.8 390.0,192.1 394.1,183.9 395.9,182.3 398.9,180.9 407.8,181.2 410.6,179.6 414.4,180.1 419.3,181.4 422.2,182.8 424.5,180.7 431.8,187.7 437.6,190.4 439.0,185.1 441.2,183.5 445.5,181.6 448.9,181.5 445.8,176.3 442.3,172.6 431.1,177.2 426.6,175.2 429.4,178.1 418.8,176.7 411.0,173.3 407.9,173.1 403.9,174.7 396.4,173.6 397.4,171.8 394.9,174.8ZM469.8,198.3 473.3,201.1 474.1,204.4 477.7,203.6 488.1,210.4 486.1,215.4 485.2,225.6 487.3,225.8 489.0,216.1 488.7,210.7 489.2,211.0 488.4,205.3 488.5,201.2 487.6,199.7 489.5,192.3 488.6,189.7 488.0,183.1 489.5,175.7 481.2,178.9 473.1,186.4 469.6,194.2ZM465.1,165.4 460.9,176.7 462.6,180.6 466.3,183.1 468.1,186.4 471.5,189.9 473.1,186.4 481.2,178.9 482.6,178.4 480.8,179.0 478.6,173.8 477.4,169.8 478.4,164.5 478.4,158.1 479.5,156.3 479.4,155.1 478.2,155.4 472.1,163.5 470.2,164.9Z"/>
<path id="g46" d="M437.8,364.3 435.4,369.2 432.1,373.7 435.7,377.7 441.6,371.1 442.6,367.6 449.5,369.5 451.5,366.3 449.9,361.9 450.9,361.1 451.0,355.1 445.2,353.4 440.6,355.2 438.8,356.6 435.3,356.7 436.5,362.5Z"/>
<path id="g47" d="M488.8,219.5 489.6,222.2 492.8,225.0 498.6,224.4 502.1,221.9 507.3,217.2 512.7,216.0 512.1,211.9 510.2,206.6 510.5,204.3 508.6,201.4 507.0,183.8 505.0,179.2 500.6,177.4 499.3,178.2 492.6,175.3 489.5,176.0 488.0,183.1 488.6,189.7 489.5,192.3 487.6,199.7 488.5,201.2 488.4,205.3 489.2,211.0 488.7,210.7 489.0,216.1 488.3,220.0ZM407.3,239.4 410.9,245.7 416.3,243.3 419.9,236.6 416.3,232.6 413.5,226.4 409.0,230.8 407.5,234.4Z"/>
<path id="g48" d="M125.2,460.7 132.0,465.1 127.7,452.5 121.2,452.7 122.9,457.5Z"/>
<path id="g49" d="M332.4,260.5 335.1,267.8 334.7,272.6 332.4,273.2 332.6,274.0 335.5,278.3 335.8,281.2 337.9,285.2 340.8,283.7 349.2,282.7 349.4,283.1 351.8,282.0 352.6,279.1 354.7,278.5 358.2,276.0 361.6,272.8 357.0,267.2 356.0,267.6 351.8,263.1 348.8,262.5 346.4,259.3 339.9,255.9 337.7,255.1 333.1,255.4Z"/>
<path id="g50" d="M471.0,147.4 473.4,145.5 472.9,151.7 473.6,156.5 479.7,155.1 484.3,154.9 488.3,152.9 490.8,152.6 497.7,152.9 492.2,145.3 488.3,144.0 485.2,138.5 484.6,135.0 479.4,137.2 475.8,137.9 474.1,143.3ZM439.0,192.8 441.4,196.6 453.8,189.0 456.2,188.6 461.5,189.5 465.3,191.4 469.6,190.8 470.9,191.3 472.2,188.2 471.5,189.9 468.1,186.4 466.3,183.1 462.6,180.6 463.4,181.1 459.5,181.9 457.5,181.9 453.8,183.5 447.3,183.2 447.0,181.6 448.9,181.5 445.5,181.6 441.2,183.5 439.0,185.1 437.7,190.4 438.5,190.7Z"/>
<path id="g51" d="M399.5,168.4 396.4,173.6 403.9,174.7 407.9,173.1 411.0,173.3 418.8,176.7 429.4,178.1 425.0,173.4 424.2,170.4 422.9,168.0 423.3,161.8 422.1,158.1 420.2,158.0 418.1,159.9 411.4,160.4 408.4,162.1 405.0,162.2ZM427.7,220.5 427.4,225.6 425.3,230.1 433.6,228.6 439.2,222.4 441.5,216.7 444.8,211.7 442.7,210.9 440.2,211.8 436.1,210.6 432.3,210.2 429.7,212.5 425.4,214.2Z"/>
<path id="g52" d="M159.1,396.0 160.6,402.3 160.6,405.2 162.2,407.5 162.1,408.6 160.8,410.4 159.7,410.5 156.1,412.7 149.9,415.0 152.0,419.3 151.3,419.4 146.5,423.9 150.8,428.8 155.4,435.3 160.7,430.5 162.4,429.7 166.0,429.5 169.9,430.0 173.5,429.0 175.6,429.1 179.6,431.6 188.6,431.5 192.3,427.1 192.5,423.0 193.7,421.1 195.7,415.2 195.0,412.7 196.7,405.5 191.0,407.3 185.5,406.4 180.7,405.5 175.9,402.8 171.3,402.1 165.2,400.0 163.4,396.6 163.0,393.5 164.6,384.8 162.9,384.4Z"/>
<path id="g53" d="M413.2,192.6 422.1,197.0 425.0,194.3 427.3,193.6 431.5,194.7 434.9,190.8 435.2,189.3 431.8,187.7 430.8,186.7 427.3,186.8 422.9,188.0 421.6,190.2 419.8,189.9 415.1,188.1 407.2,181.6Z"/>
<path id="g54" d="M455.4,164.3 459.2,167.0 461.3,166.0 469.6,164.6 472.3,162.1 474.0,158.9 472.9,151.7 473.4,145.5 469.5,148.5 466.2,149.9 457.5,148.6 451.1,155.8 447.1,158.4 447.7,164.8Z"/>
<path id="g55" d="M384.0,170.0 387.4,182.5 389.7,181.9 389.7,179.8 392.8,175.4 394.9,174.8 397.4,171.8 396.4,173.6 399.5,168.4 405.0,162.2 405.9,162.2 401.2,159.8 396.4,162.1 392.7,167.4Z"/>
<g id="net"><use href="#g0"/><use href="#g1"/><use href="#g2"/><use href="#g3"/><use href="#g4"/><use href="#g5"/><use href="#g7"/><use href="#g9"/><use href="#g11"/><use href="#g12"/><use href="#g13"/><use href="#g15"/><use href="#g17"/><use href="#g19"/><use href="#g20"/><use href="#g22"/><use href="#g23"/><use href="#g24"/><use href="#g25"/><use href="#g26"/><use href="#g27"/><use href="#g28"/><use href="#g29"/><use href="#g30"/><use href="#g31"/><use href="#g32"/><use href="#g33"/><use href="#g34"/><use href="#g35"/><use href="#g36"/><use href="#g37"/><use href="#g38"/><use href="#g39"/><use href="#g40"/><use href="#g41"/><use href="#g42"/><use href="#g44"/><use href="#g45"/><use href="#g46"/><use href="#g47"/><use href="#g49"/><use href="#g50"/><use href="#g51"/><use href="#g52"/><use href="#g53"/><use href="#g54"/><use href="#g55"/></g>
<g id="netS"><use href="#g6"/><use href="#g8"/><use href="#g10"/><use href="#g14"/><use href="#g16"/><use href="#g18"/><use href="#g21"/><use href="#g43"/><use href="#g48"/></g>
<g id="na"><path d="M598.7,148.6 605.3,162.5 601.5,170.8 616.3,175.4 643.9,186.0 645.5,192.3 650.5,198.3 655.6,195.8 654.7,185.6 657.0,184.0 658.7,170.9 665.7,167.8 674.0,161.1 682.1,157.9 692.0,154.6 704.5,153.0 702.5,136.7 695.0,123.3 683.3,110.0 673.3,97.5 661.7,97.5 652.5,100.0 647.5,109.2 638.3,109.2 626.7,114.2 623.3,119.2 616.7,124.2 609.2,127.5 606.7,135.8 600.0,138.3 598.7,138.1ZM586.8,150.3 574.7,145.2 569.3,150.6 556.9,154.4 565.3,163.7 564.5,169.6 560.4,178.0 574.9,178.0 592.9,180.6 603.6,171.5 601.5,170.8 605.3,162.5 598.7,148.6 598.7,143.6 592.7,148.8ZM678.9,169.3 674.2,175.6 663.3,180.1 667.2,189.0 673.0,194.8 683.1,190.7 688.0,194.7 696.0,192.8 701.2,178.8 706.8,168.5 705.1,156.1 684.1,158.0ZM715.4,209.2 733.2,216.7 733.4,216.2 732.5,215.0 735.0,208.3 737.5,186.7 730.8,180.0 726.7,177.5 717.1,177.1 715.4,196.6ZM594.2,226.0 598.7,230.5 598.7,237.4 616.5,249.7 623.4,247.5 620.5,239.6 618.0,228.3 621.4,214.9 617.5,207.0 594.9,207.0 589.2,223.1ZM572.6,228.9 561.0,240.6 548.5,244.7 562.8,252.9 569.5,254.5 579.6,261.3 590.7,261.3 588.9,250.3 593.5,242.6 600.0,238.3 598.7,237.4 598.7,230.5 595.3,227.1 591.1,224.5 581.4,225.4ZM673.3,284.4 673.3,283.3 676.7,281.7 681.7,265.0 682.9,263.8 674.8,262.9 666.5,266.9 658.7,265.1 658.7,279.2Z" fill="#D4D4D4" stroke="#858585" stroke-width="1.7" stroke-linejoin="round"/><path d="M626.7,114.2 630.0,121.7 636.7,128.3 643.3,135.8 653.3,133.3 655.0,126.7 660.0,121.7 673.3,118.3 683.3,114.2M606.7,135.8 615.0,137.0 628.3,140.0 636.0,137.5 643.3,135.8M628.3,140.0 623.3,148.3 616.7,156.7 606.7,162.5M628.3,140.0 631.7,148.3 631.7,153.3 638.3,153.3 640.0,150.0 645.0,151.7 646.7,158.3 651.7,163.3 655.8,166.7 655.8,176.7M638.3,153.3 637.5,163.3 633.3,170.0 631.7,180.0M655.0,133.3 656.7,143.3 665.0,150.0 668.3,160.0 666.0,165.0" fill="none" stroke="#858585" stroke-width="1.7" stroke-linejoin="round"/></g>
<path id="nd" d="M211.3,611.1m-3.0,0a3.0,3.0 0 1,0 6.0,0a3.0,3.0 0 1,0 -6.0,0M247.1,556.0m-1.7,0a1.7,1.7 0 1,0 3.4,0a1.7,1.7 0 1,0 -3.4,0M258.8,552.5m-1.7,0a1.7,1.7 0 1,0 3.4,0a1.7,1.7 0 1,0 -3.4,0M285.0,554.1m-3.0,0a3.0,3.0 0 1,0 6.0,0a3.0,3.0 0 1,0 -6.0,0M278.2,555.6m-1.7,0a1.7,1.7 0 1,0 3.4,0a1.7,1.7 0 1,0 -3.4,0M285.7,578.0m-1.7,0a1.7,1.7 0 1,0 3.4,0a1.7,1.7 0 1,0 -3.4,0M295.5,587.3m-1.7,0a1.7,1.7 0 1,0 3.4,0a1.7,1.7 0 1,0 -3.4,0M261.0,629.2m-1.7,0a1.7,1.7 0 1,0 3.4,0a1.7,1.7 0 1,0 -3.4,0M289.5,606.5m-1.7,0a1.7,1.7 0 1,0 3.4,0a1.7,1.7 0 1,0 -3.4,0M308.8,620.2m-3.0,0a3.0,3.0 0 1,0 6.0,0a3.0,3.0 0 1,0 -6.0,0M315.9,607.4m-1.7,0a1.7,1.7 0 1,0 3.4,0a1.7,1.7 0 1,0 -3.4,0M338.9,626.9m-3.0,0a3.0,3.0 0 1,0 6.0,0a3.0,3.0 0 1,0 -6.0,0M316.1,541.8m-1.7,0a1.7,1.7 0 1,0 3.4,0a1.7,1.7 0 1,0 -3.4,0M325.4,520.9m-1.7,0a1.7,1.7 0 1,0 3.4,0a1.7,1.7 0 1,0 -3.4,0M367.2,647.0m-1.7,0a1.7,1.7 0 1,0 3.4,0a1.7,1.7 0 1,0 -3.4,0M104.2,487.8m-3.0,0a3.0,3.0 0 1,0 6.0,0a3.0,3.0 0 1,0 -6.0,0M96.8,467.9m-1.7,0a1.7,1.7 0 1,0 3.4,0a1.7,1.7 0 1,0 -3.4,0M102.7,462.9m-1.7,0a1.7,1.7 0 1,0 3.4,0a1.7,1.7 0 1,0 -3.4,0M142.1,454.4m-3.0,0a3.0,3.0 0 1,0 6.0,0a3.0,3.0 0 1,0 -6.0,0M71.1,532.8m-3.0,0a3.0,3.0 0 1,0 6.0,0a3.0,3.0 0 1,0 -6.0,0M152.6,431.4m-1.7,0a1.7,1.7 0 1,0 3.4,0a1.7,1.7 0 1,0 -3.4,0M120.7,442.6m-1.7,0a1.7,1.7 0 1,0 3.4,0a1.7,1.7 0 1,0 -3.4,0M163.6,503.6m-1.7,0a1.7,1.7 0 1,0 3.4,0a1.7,1.7 0 1,0 -3.4,0M153.3,470.4m-1.7,0a1.7,1.7 0 1,0 3.4,0a1.7,1.7 0 1,0 -3.4,0M143.4,478.9m-1.7,0a1.7,1.7 0 1,0 3.4,0a1.7,1.7 0 1,0 -3.4,0M163.1,489.0m-1.7,0a1.7,1.7 0 1,0 3.4,0a1.7,1.7 0 1,0 -3.4,0M101.5,522.3m-1.7,0a1.7,1.7 0 1,0 3.4,0a1.7,1.7 0 1,0 -3.4,0M88.1,538.7m-1.7,0a1.7,1.7 0 1,0 3.4,0a1.7,1.7 0 1,0 -3.4,0M373.8,206.2m-3.0,0a3.0,3.0 0 1,0 6.0,0a3.0,3.0 0 1,0 -6.0,0M346.2,162.5m-1.7,0a1.7,1.7 0 1,0 3.4,0a1.7,1.7 0 1,0 -3.4,0M291.1,160.1m-1.7,0a1.7,1.7 0 1,0 3.4,0a1.7,1.7 0 1,0 -3.4,0M347.1,182.3m-1.7,0a1.7,1.7 0 1,0 3.4,0a1.7,1.7 0 1,0 -3.4,0M407.3,234.7m-1.7,0a1.7,1.7 0 1,0 3.4,0a1.7,1.7 0 1,0 -3.4,0M448.9,181.5m-1.7,0a1.7,1.7 0 1,0 3.4,0a1.7,1.7 0 1,0 -3.4,0M312.9,297.1m-1.7,0a1.7,1.7 0 1,0 3.4,0a1.7,1.7 0 1,0 -3.4,0M368.2,152.6m-1.7,0a1.7,1.7 0 1,0 3.4,0a1.7,1.7 0 1,0 -3.4,0M411.9,224.7m-1.7,0a1.7,1.7 0 1,0 3.4,0a1.7,1.7 0 1,0 -3.4,0M377.9,220.9m-1.7,0a1.7,1.7 0 1,0 3.4,0a1.7,1.7 0 1,0 -3.4,0M363.1,212.9m-1.7,0a1.7,1.7 0 1,0 3.4,0a1.7,1.7 0 1,0 -3.4,0M389.7,179.8m-1.7,0a1.7,1.7 0 1,0 3.4,0a1.7,1.7 0 1,0 -3.4,0M193.5,137.6m-1.7,0a1.7,1.7 0 1,0 3.4,0a1.7,1.7 0 1,0 -3.4,0M146.5,423.9m-1.7,0a1.7,1.7 0 1,0 3.4,0a1.7,1.7 0 1,0 -3.4,0M286.6,370.1m-1.7,0a1.7,1.7 0 1,0 3.4,0a1.7,1.7 0 1,0 -3.4,0M423.8,353.0m-1.7,0a1.7,1.7 0 1,0 3.4,0a1.7,1.7 0 1,0 -3.4,0" fill="#585a60"/>
<path id="lag" d="M72.5,537.5L75,535.5L79,537L80.5,539.5L77,540.5L73.5,539.5Z" fill="#fff" stroke="#585a60" stroke-width="1.2"/></defs>
<g transform="translate(0,0)">
<use href="#ol" fill="#FEE698"/>
<use href="#g25" fill="#FEC24D"/><use href="#g26" fill="#FEC24D"/><use href="#g27" fill="#FEC24D"/><use href="#g28" fill="#FEC24D"/><use href="#g29" fill="#FEC24D"/><use href="#g30" fill="#FEC24D"/><use href="#g31" fill="#FEC24D"/><use href="#g32" fill="#FEC24D"/><use href="#g33" fill="#FEC24D"/><use href="#g34" fill="#FEC24D"/><use href="#g35" fill="#FEC24D"/><use href="#g36" fill="#FEC24D"/><use href="#g37" fill="#FEC24D"/><use href="#g38" fill="#FEC24D"/><use href="#g39" fill="#FEC24D"/><use href="#g40" fill="#FEC24D"/><use href="#g41" fill="#FEC24D"/><use href="#g42" fill="#FEC24D"/><use href="#g43" fill="#F88C22"/><use href="#g44" fill="#F88C22"/><use href="#g45" fill="#F88C22"/><use href="#g46" fill="#F88C22"/><use href="#g47" fill="#F88C22"/><use href="#g48" fill="#F88C22"/><use href="#g49" fill="#F88C22"/><use href="#g50" fill="#F88C22"/><use href="#g51" fill="#F88C22"/><use href="#g52" fill="#D95A09"/><use href="#g53" fill="#D95A09"/><use href="#g54" fill="#D95A09"/><use href="#g55" fill="#A33904"/><use href="#na"/><use href="#netS" fill="none" stroke="#585a60" stroke-width="2.5" stroke-linejoin="round"/><use href="#net" fill="none" stroke="#585a60" stroke-width="1.85" stroke-linejoin="round"/><use href="#nd"/><use href="#lag"/>
<text transform="translate(34.8,82) scale(1,1.035)" font-size="42">Total number of water points</text>
<text x="550.7" y="548.2" font-size="29.2">total_wp</text>
<rect x="552.97" y="563.67" width="26.8" height="27.10" fill="#FFFACB" stroke="#606060" stroke-width="1.6"/>
<text x="586.7" y="586.6" font-size="21.8">0</text>
<rect x="552.97" y="590.77" width="26.8" height="27.10" fill="#FEE698" stroke="#606060" stroke-width="1.6"/>
<text x="586.7" y="613.3" font-size="21.8">1 to 200</text>
<rect x="552.97" y="617.87" width="26.8" height="27.10" fill="#FEC24D" stroke="#606060" stroke-width="1.6"/>
<text x="586.7" y="640.0" font-size="21.8">201 to 400</text>
<rect x="552.97" y="644.97" width="26.8" height="27.10" fill="#F88C22" stroke="#606060" stroke-width="1.6"/>
<text x="586.7" y="666.7" font-size="21.8">401 to 600</text>
<rect x="552.97" y="672.07" width="26.8" height="27.10" fill="#D95A09" stroke="#606060" stroke-width="1.6"/>
<text x="586.7" y="693.4" font-size="21.8">601 to 800</text>
<rect x="552.97" y="699.17" width="26.8" height="27.10" fill="#A33904" stroke="#606060" stroke-width="1.6"/>
<text x="586.7" y="720.1" font-size="21.8">801 to 1,000</text>
<path d="M15.5,752V15.5H752" fill="none" stroke="#000" stroke-width="1"/><path d="M15,752H752V15" fill="none" stroke="#000" stroke-width="2"/>
</g>
<g transform="translate(768,0)">
<use href="#ol" fill="#FEDC81"/>
<use href="#g0" fill="#FFF9C4"/><use href="#g1" fill="#FFF9C4"/><use href="#g2" fill="#FFF9C4"/><use href="#g39" fill="#FEAA38"/><use href="#g40" fill="#FEAA38"/><use href="#g41" fill="#FEAA38"/><use href="#g42" fill="#ED7215"/><use href="#g45" fill="#FEAA38"/><use href="#g46" fill="#FEAA38"/><use href="#g47" fill="#FEAA38"/><use href="#g48" fill="#FEAA38"/><use href="#g49" fill="#FEAA38"/><use href="#g50" fill="#ED7215"/><use href="#g51" fill="#ED7215"/><use href="#g52" fill="#FEAA38"/><use href="#g53" fill="#ED7215"/><use href="#g54" fill="#B84203"/><use href="#g55" fill="#B84203"/><use href="#na"/><use href="#netS" fill="none" stroke="#585a60" stroke-width="2.5" stroke-linejoin="round"/><use href="#net" fill="none" stroke="#585a60" stroke-width="1.85" stroke-linejoin="round"/><use href="#nd"/><use href="#lag"/>
<text transform="translate(34.8,82) scale(1,1.035)" font-size="42">Number of functional water points</text>
<text x="540.8" y="575.3" font-size="29.2">wp_functional</text>
<rect x="543.07" y="590.77" width="26.8" height="27.10" fill="#FFF9C4" stroke="#606060" stroke-width="1.6"/>
<text x="576.8" y="613.7" font-size="21.8">0</text>
<rect x="543.07" y="617.87" width="26.8" height="27.10" fill="#FEDC81" stroke="#606060" stroke-width="1.6"/>
<text x="576.8" y="640.4" font-size="21.8">1 to 200</text>
<rect x="543.07" y="644.97" width="26.8" height="27.10" fill="#FEAA38" stroke="#606060" stroke-width="1.6"/>
<text x="576.8" y="667.1" font-size="21.8">201 to 400</text>
<rect x="543.07" y="672.07" width="26.8" height="27.10" fill="#ED7215" stroke="#606060" stroke-width="1.6"/>
<text x="576.8" y="693.8" font-size="21.8">401 to 600</text>
<rect x="543.07" y="699.17" width="26.8" height="27.10" fill="#B84203" stroke="#606060" stroke-width="1.6"/>
<text x="576.8" y="720.5" font-size="21.8">601 to 800</text>
<path d="M15.5,752V15.5H752" fill="none" stroke="#000" stroke-width="1"/><path d="M15,752H752V15" fill="none" stroke="#000" stroke-width="2"/>
</g>
<g transform="translate(0,768)">
<use href="#ol" fill="#FEEDA6"/>
<use href="#g0" fill="#FFFCD5"/><use href="#g1" fill="#FFFCD5"/><use href="#g3" fill="#FFFCD5"/><use href="#g4" fill="#FFFCD5"/><use href="#g13" fill="#FECF67"/><use href="#g14" fill="#FECF67"/><use href="#g15" fill="#FECF67"/><use href="#g16" fill="#FECF67"/><use href="#g17" fill="#FECF67"/><use href="#g18" fill="#FECF67"/><use href="#g19" fill="#FECF67"/><use href="#g20" fill="#FEA02F"/><use href="#g21" fill="#FEA02F"/><use href="#g22" fill="#FEA02F"/><use href="#g23" fill="#ED7215"/><use href="#g24" fill="#ED7215"/><use href="#g27" fill="#FECF67"/><use href="#g28" fill="#FECF67"/><use href="#g29" fill="#FECF67"/><use href="#g30" fill="#FECF67"/><use href="#g31" fill="#FECF67"/><use href="#g32" fill="#FECF67"/><use href="#g33" fill="#FEA02F"/><use href="#g34" fill="#FEA02F"/><use href="#g35" fill="#FEA02F"/><use href="#g36" fill="#FEA02F"/><use href="#g37" fill="#ED7215"/><use href="#g38" fill="#C84A02"/><use href="#g40" fill="#FECF67"/><use href="#g41" fill="#FECF67"/><use href="#g43" fill="#FECF67"/><use href="#g44" fill="#FEA02F"/><use href="#g45" fill="#FECF67"/><use href="#g46" fill="#FECF67"/><use href="#g47" fill="#FEA02F"/><use href="#g48" fill="#FEA02F"/><use href="#g49" fill="#ED7215"/><use href="#g51" fill="#FECF67"/><use href="#g52" fill="#8F3104"/><use href="#g53" fill="#FECF67"/><use href="#g54" fill="#FEA02F"/><use href="#g55" fill="#FEA02F"/><use href="#na"/><use href="#netS" fill="none" stroke="#585a60" stroke-width="2.5" stroke-linejoin="round"/><use href="#net" fill="none" stroke="#585a60" stroke-width="1.85" stroke-linejoin="round"/><use href="#nd"/><use href="#lag"/>
<text transform="translate(34.8,81) scale(1,1.035)" font-size="41.3">Number of non-functional water points</text>
<text x="492.4" y="521.1" font-size="29.2">wp_nonfunctional</text>
<rect x="494.67" y="536.57" width="26.8" height="27.10" fill="#FFFCD5" stroke="#606060" stroke-width="1.6"/>
<text x="528.4" y="559.5" font-size="21.8">0</text>
<rect x="494.67" y="563.67" width="26.8" height="27.10" fill="#FEEDA6" stroke="#606060" stroke-width="1.6"/>
<text x="528.4" y="586.2" font-size="21.8">1 to 50</text>
<rect x="494.67" y="590.77" width="26.8" height="27.10" fill="#FECF67" stroke="#606060" stroke-width="1.6"/>
<text x="528.4" y="612.9" font-size="21.8">51 to 100</text>
<rect x="494.67" y="617.87" width="26.8" height="27.10" fill="#FEA02F" stroke="#606060" stroke-width="1.6"/>
<text x="528.4" y="639.6" font-size="21.8">101 to 150</text>
<rect x="494.67" y="644.97" width="26.8" height="27.10" fill="#ED7215" stroke="#606060" stroke-width="1.6"/>
<text x="528.4" y="666.3" font-size="21.8">151 to 200</text>
<rect x="494.67" y="672.07" width="26.8" height="27.10" fill="#C84A02" stroke="#606060" stroke-width="1.6"/>
<text x="528.4" y="693.0" font-size="21.8">201 to 250</text>
<rect x="494.67" y="699.17" width="26.8" height="27.10" fill="#8F3104" stroke="#606060" stroke-width="1.6"/>
<text x="528.4" y="719.7" font-size="21.8">251 to 300</text>
<path d="M15.5,752V15.5H752" fill="none" stroke="#000" stroke-width="1"/><path d="M15,752H752V15" fill="none" stroke="#000" stroke-width="2"/>
</g>
<g transform="translate(768,768)">
<use href="#ol" fill="#FFFACB"/>
<use href="#g0" fill="#FEE698"/><use href="#g1" fill="#FEC24D"/><use href="#g4" fill="#FEE698"/><use href="#g7" fill="#FEE698"/><use href="#g8" fill="#FEE698"/><use href="#g9" fill="#FEC24D"/><use href="#g10" fill="#FEC24D"/><use href="#g11" fill="#F88C22"/><use href="#g12" fill="#A33904"/><use href="#g15" fill="#FEE698"/><use href="#g16" fill="#FEE698"/><use href="#g17" fill="#FEC24D"/><use href="#g18" fill="#FEC24D"/><use href="#g19" fill="#F88C22"/><use href="#g22" fill="#FEE698"/><use href="#g23" fill="#FEE698"/><use href="#g24" fill="#FEC24D"/><use href="#g26" fill="#FEC24D"/><use href="#g28" fill="#FEE698"/><use href="#g29" fill="#FEC24D"/><use href="#g30" fill="#F88C22"/><use href="#g31" fill="#D95A09"/><use href="#g32" fill="#A33904"/><use href="#g34" fill="#FEE698"/><use href="#g35" fill="#FEC24D"/><use href="#g36" fill="#F88C22"/><use href="#g41" fill="#F88C22"/><use href="#g43" fill="#F88C22"/><use href="#g44" fill="#A33904"/><use href="#g46" fill="#F88C22"/><use href="#g48" fill="#FEE698"/><use href="#g52" fill="#FEE698"/><use href="#na"/><use href="#netS" fill="none" stroke="#585a60" stroke-width="2.5" stroke-linejoin="round"/><use href="#net" fill="none" stroke="#585a60" stroke-width="1.85" stroke-linejoin="round"/><use href="#nd"/><use href="#lag"/>
<text transform="translate(34.8,82) scale(1,1.035)" font-size="42">Number of unknown water points</text>
<text x="549.4" y="548.2" font-size="29.2">wp_unknown</text>
<rect x="551.67" y="563.67" width="26.8" height="27.10" fill="#FFFACB" stroke="#606060" stroke-width="1.6"/>
<text x="585.4" y="586.6" font-size="21.8">0</text>
<rect x="551.67" y="590.77" width="26.8" height="27.10" fill="#FEE698" stroke="#606060" stroke-width="1.6"/>
<text x="585.4" y="613.3" font-size="21.8">1 to 50</text>
<rect x="551.67" y="617.87" width="26.8" height="27.10" fill="#FEC24D" stroke="#606060" stroke-width="1.6"/>
<text x="585.4" y="640.0" font-size="21.8">51 to 100</text>
<rect x="551.67" y="644.97" width="26.8" height="27.10" fill="#F88C22" stroke="#606060" stroke-width="1.6"/>
<text x="585.4" y="666.7" font-size="21.8">101 to 150</text>
<rect x="551.67" y="672.07" width="26.8" height="27.10" fill="#D95A09" stroke="#606060" stroke-width="1.6"/>
<text x="585.4" y="693.4" font-size="21.8">151 to 200</text>
<rect x="551.67" y="699.17" width="26.8" height="27.10" fill="#A33904" stroke="#606060" stroke-width="1.6"/>
<text x="585.4" y="720.1" font-size="21.8">201 to 250</text>
<path d="M15.5,752V15.5H752" fill="none" stroke="#000" stroke-width="1"/><path d="M15,752H752V15" fill="none" stroke="#000" stroke-width="2"/>
</g>
</svg></body></html>
